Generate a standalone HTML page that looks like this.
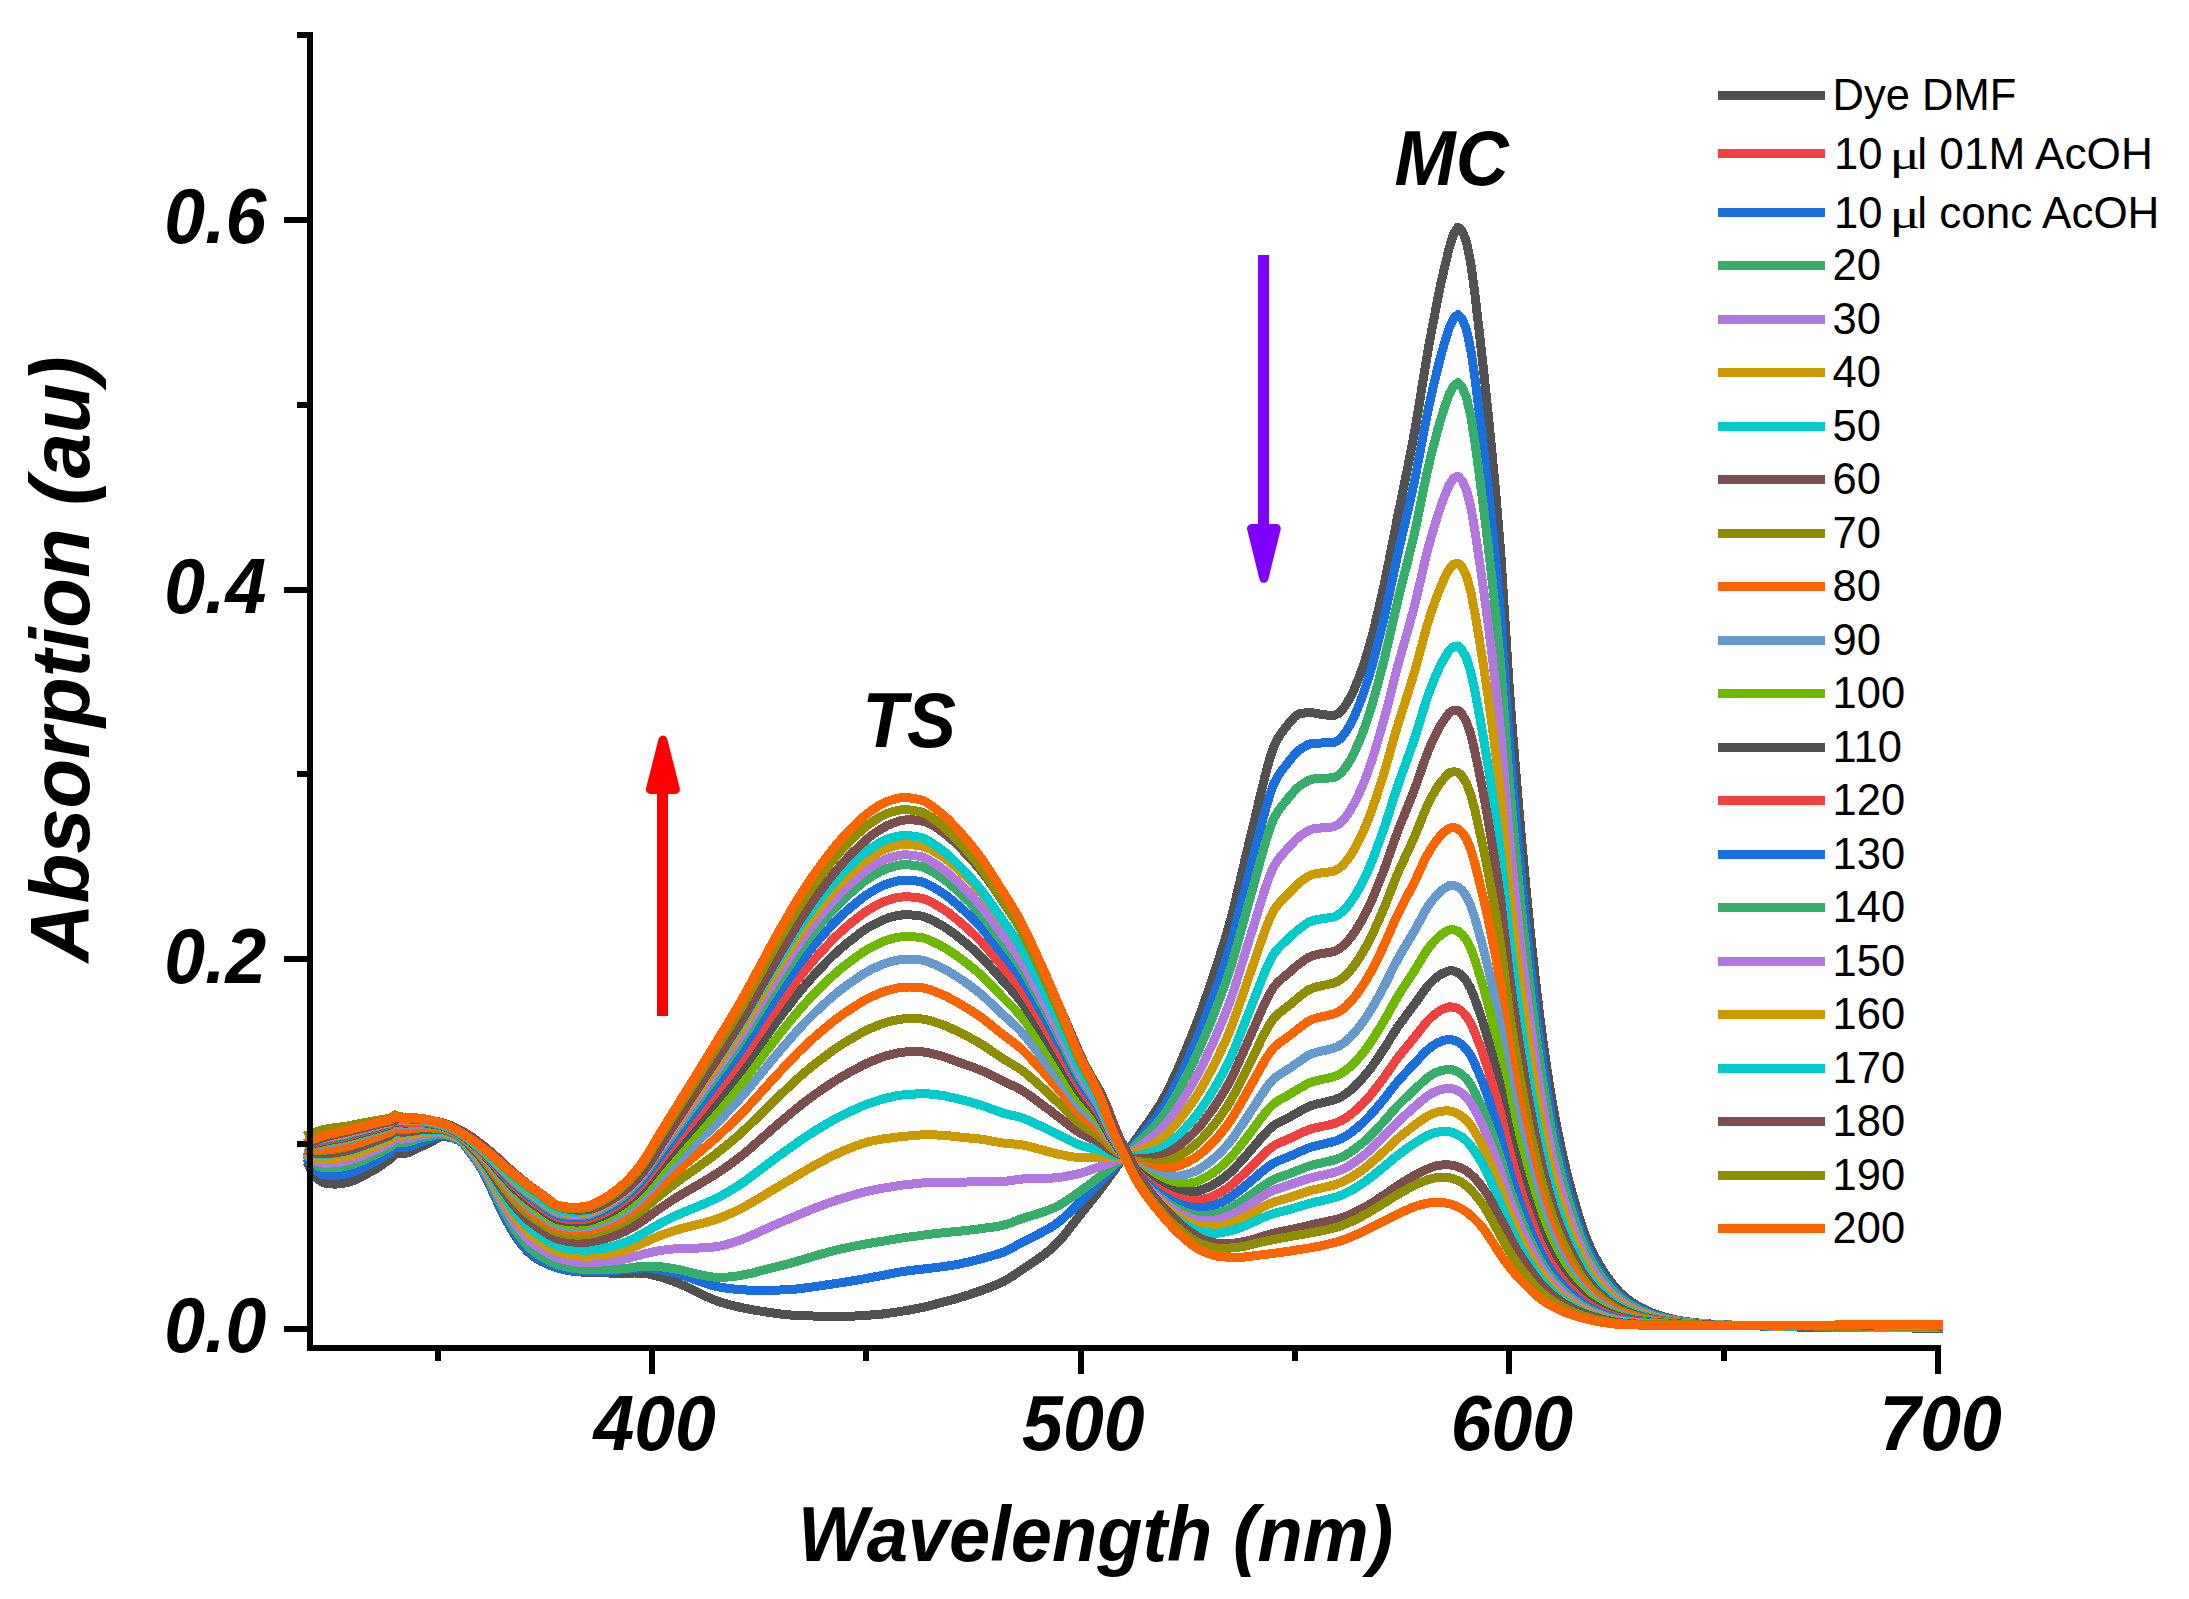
<!DOCTYPE html>
<html lang="en"><head><meta charset="utf-8"><title>Absorption spectra</title>
<style>html,body{margin:0;padding:0;background:#fff}svg{display:block}</style></head>
<body>
<svg xmlns="http://www.w3.org/2000/svg" width="2189" height="1599" viewBox="0 0 2189 1599">
<rect width="2189" height="1599" fill="#fff"/>
<g fill="none" stroke-width="9" stroke-linecap="square" stroke-linejoin="round" shape-rendering="crispEdges">
<path stroke="#515151" d="M309.1 1166.1 L313.4 1173.9 L317.6 1178.8 L321.9 1182.2 L326.2 1183.3 L330.5 1183.9 L334.8 1184.1 L339.1 1183.9 L343.4 1183.2 L347.6 1182.4 L351.9 1181.2 L356.2 1179.5 L360.5 1177.4 L364.8 1175.1 L369.1 1172.7 L373.4 1170.3 L377.7 1167.8 L381.9 1164.9 L386.2 1161.9 L390.5 1158.8 L394.8 1153.8 L399.1 1154.0 L403.4 1153.6 L407.7 1152.9 L411.9 1151.2 L416.2 1149.0 L420.5 1146.9 L424.8 1144.9 L429.1 1143.0 L433.4 1140.7 L437.7 1138.1 L442.0 1136.5 L446.2 1136.7 L450.5 1137.5 L454.8 1138.8 L459.1 1140.5 L463.4 1143.7 L467.7 1149.4 L472.0 1155.0 L476.2 1160.8 L480.5 1167.4 L484.8 1175.3 L489.1 1184.1 L493.4 1193.4 L497.7 1203.1 L502.0 1212.0 L506.3 1220.3 L510.5 1227.9 L514.8 1235.0 L519.1 1241.3 L523.4 1246.8 L527.7 1251.5 L532.0 1255.3 L536.3 1258.5 L540.5 1261.0 L544.8 1263.1 L549.1 1265.1 L553.4 1266.7 L557.7 1268.1 L562.0 1269.2 L566.3 1270.1 L570.6 1270.9 L574.8 1271.5 L579.1 1271.9 L583.4 1272.2 L587.7 1272.3 L592.0 1272.5 L596.3 1272.6 L600.6 1272.7 L604.8 1272.9 L609.1 1273.0 L613.4 1273.2 L617.7 1273.3 L622.0 1273.3 L626.3 1273.2 L630.6 1273.1 L634.9 1273.0 L639.1 1273.0 L643.4 1273.2 L647.7 1273.9 L652.0 1274.9 L656.3 1276.0 L660.6 1277.1 L664.9 1278.4 L669.1 1279.8 L673.4 1281.4 L677.7 1283.1 L682.0 1284.8 L686.3 1286.8 L690.6 1288.9 L694.9 1291.1 L699.2 1293.1 L703.4 1295.1 L707.7 1297.1 L712.0 1299.0 L716.3 1300.7 L720.6 1302.2 L724.9 1303.4 L729.2 1304.6 L733.4 1305.7 L737.7 1306.7 L742.0 1307.7 L746.3 1308.6 L750.6 1309.4 L754.9 1310.2 L759.2 1310.9 L763.5 1311.5 L767.7 1312.2 L772.0 1312.8 L776.3 1313.4 L780.6 1314.0 L784.9 1314.5 L789.2 1314.9 L793.5 1315.3 L797.7 1315.5 L802.0 1315.7 L806.3 1315.8 L810.6 1315.9 L814.9 1316.1 L819.2 1316.2 L823.5 1316.2 L827.8 1316.3 L832.0 1316.4 L836.3 1316.4 L840.6 1316.4 L844.9 1316.4 L849.2 1316.2 L853.5 1316.1 L857.8 1315.8 L862.0 1315.6 L866.3 1315.3 L870.6 1315.0 L874.9 1314.6 L879.2 1314.3 L883.5 1313.9 L887.8 1313.3 L892.1 1312.7 L896.3 1312.1 L900.6 1311.4 L904.9 1310.7 L909.2 1310.0 L913.5 1309.3 L917.8 1308.4 L922.1 1307.6 L926.3 1306.6 L930.6 1305.5 L934.9 1304.3 L939.2 1303.2 L943.5 1302.1 L947.8 1300.9 L952.1 1299.8 L956.4 1298.6 L960.6 1297.3 L964.9 1296.0 L969.2 1294.7 L973.5 1293.2 L977.8 1291.8 L982.1 1290.3 L986.4 1288.7 L990.6 1287.1 L994.9 1285.4 L999.2 1283.6 L1003.5 1281.5 L1007.8 1279.1 L1012.1 1276.4 L1016.4 1273.5 L1020.7 1270.5 L1024.9 1267.7 L1029.2 1264.9 L1033.5 1262.1 L1037.8 1259.1 L1042.1 1256.0 L1046.4 1252.7 L1050.7 1249.2 L1054.9 1245.4 L1059.2 1241.1 L1063.5 1236.1 L1067.8 1230.8 L1072.1 1225.2 L1076.4 1219.6 L1080.7 1214.2 L1085.0 1208.9 L1089.2 1203.6 L1093.5 1198.2 L1097.8 1192.7 L1102.1 1187.1 L1106.4 1181.3 L1110.7 1175.3 L1115.0 1169.4 L1119.2 1163.4 L1123.5 1157.3 L1127.8 1151.2 L1132.1 1145.0 L1136.4 1138.7 L1140.7 1132.5 L1145.0 1126.5 L1149.3 1120.6 L1153.5 1114.6 L1157.8 1108.1 L1162.1 1101.0 L1166.4 1093.0 L1170.7 1084.4 L1175.0 1075.3 L1179.3 1065.6 L1183.5 1055.6 L1187.8 1045.3 L1192.1 1034.7 L1196.4 1023.7 L1200.7 1012.2 L1205.0 1000.2 L1209.3 987.8 L1213.6 975.1 L1217.8 962.1 L1222.1 948.8 L1226.4 934.8 L1230.7 919.6 L1235.0 902.6 L1239.3 884.2 L1243.6 866.0 L1247.8 848.1 L1252.1 830.3 L1256.4 812.3 L1260.7 793.7 L1265.0 776.0 L1269.3 760.3 L1273.6 747.0 L1277.9 738.5 L1282.1 731.9 L1286.4 726.5 L1290.7 721.2 L1295.0 716.5 L1299.3 713.8 L1303.6 713.1 L1307.9 712.7 L1312.1 712.7 L1316.4 713.4 L1320.7 714.2 L1325.0 714.8 L1329.3 715.3 L1333.6 715.6 L1337.9 713.9 L1342.2 709.9 L1346.4 704.1 L1350.7 696.7 L1355.0 687.4 L1359.3 676.7 L1363.6 664.7 L1367.9 651.1 L1372.2 635.5 L1376.4 618.4 L1380.7 600.1 L1385.0 580.8 L1389.3 559.6 L1393.6 537.4 L1397.9 515.4 L1402.2 494.3 L1406.5 473.6 L1410.7 452.3 L1415.0 429.5 L1419.3 403.8 L1423.6 376.9 L1427.9 350.9 L1432.2 327.6 L1436.5 305.3 L1440.7 284.4 L1445.0 265.4 L1449.3 247.5 L1453.6 234.0 L1457.9 227.2 L1462.2 230.9 L1466.5 242.0 L1470.8 263.8 L1475.0 294.7 L1479.3 332.2 L1483.6 370.5 L1487.9 411.4 L1492.2 455.1 L1496.5 501.4 L1500.8 554.3 L1505.0 620.8 L1509.3 688.3 L1513.6 744.5 L1517.9 797.2 L1522.2 846.8 L1526.5 893.2 L1530.8 936.6 L1535.1 976.7 L1539.3 1012.6 L1543.6 1045.3 L1547.9 1075.1 L1552.2 1101.5 L1556.5 1125.4 L1560.8 1146.5 L1565.1 1165.4 L1569.3 1182.5 L1573.6 1198.1 L1577.9 1213.0 L1582.2 1226.6 L1586.5 1238.5 L1590.8 1248.4 L1595.1 1257.0 L1599.4 1264.7 L1603.6 1271.6 L1607.9 1277.8 L1612.2 1283.6 L1616.5 1288.8 L1620.8 1293.2 L1625.1 1297.0 L1629.4 1300.4 L1633.6 1303.4 L1637.9 1306.0 L1642.2 1308.3 L1646.5 1310.5 L1650.8 1312.4 L1655.1 1314.0 L1659.4 1315.5 L1663.7 1316.8 L1667.9 1318.0 L1672.2 1319.0 L1676.5 1319.9 L1680.8 1320.7 L1685.1 1321.4 L1689.4 1322.0 L1693.7 1322.5 L1697.9 1322.9 L1702.2 1323.3 L1706.5 1323.7 L1710.8 1324.0 L1715.1 1324.2 L1719.4 1324.5 L1723.7 1324.7 L1728.0 1324.9 L1732.2 1325.1 L1736.5 1325.2 L1740.8 1325.4 L1745.1 1325.5 L1749.4 1325.7 L1753.7 1325.8 L1758.0 1325.9 L1762.2 1326.1 L1766.5 1326.2 L1770.8 1326.3 L1775.1 1326.5 L1779.4 1326.6 L1783.7 1326.7 L1788.0 1326.8 L1792.3 1326.9 L1796.5 1327.0 L1800.8 1327.0 L1805.1 1327.1 L1809.4 1327.1 L1813.7 1327.2 L1818.0 1327.2 L1822.3 1327.3 L1826.5 1327.3 L1830.8 1327.4 L1835.1 1327.4 L1839.4 1327.4 L1843.7 1327.5 L1848.0 1327.5 L1852.3 1327.6 L1856.6 1327.6 L1860.8 1327.6 L1865.1 1327.7 L1869.4 1327.7 L1873.7 1327.8 L1878.0 1327.8 L1882.3 1327.8 L1886.6 1327.8 L1890.8 1327.9 L1895.1 1327.9 L1899.4 1327.9 L1903.7 1327.9 L1908.0 1327.9 L1912.3 1328.0 L1916.6 1328.0 L1920.9 1328.0 L1925.1 1328.0 L1929.4 1328.0 L1933.7 1328.0 L1938.0 1328.0"/>
<path stroke="#F14040" d="M309.1 1161.9 L313.4 1168.0 L317.6 1171.8 L321.9 1174.4 L326.2 1175.1 L330.5 1175.3 L334.8 1175.4 L339.1 1175.1 L343.4 1174.4 L347.6 1173.5 L351.9 1172.3 L356.2 1170.7 L360.5 1168.8 L364.8 1166.7 L369.1 1164.6 L373.4 1162.4 L377.7 1160.1 L381.9 1157.6 L386.2 1155.0 L390.5 1152.2 L394.8 1147.5 L399.1 1147.9 L403.4 1147.6 L407.7 1147.0 L411.9 1145.7 L416.2 1143.8 L420.5 1142.2 L424.8 1140.7 L429.1 1139.4 L433.4 1137.9 L437.7 1136.1 L442.0 1135.1 L446.2 1135.7 L450.5 1136.8 L454.8 1138.3 L459.1 1140.1 L463.4 1143.4 L467.7 1149.0 L472.0 1154.6 L476.2 1160.4 L480.5 1166.9 L484.8 1174.7 L489.1 1183.3 L493.4 1192.3 L497.7 1201.8 L502.0 1210.5 L506.3 1218.7 L510.5 1226.2 L514.8 1233.2 L519.1 1239.6 L523.4 1245.1 L527.7 1249.9 L532.0 1253.9 L536.3 1257.2 L540.5 1259.9 L544.8 1262.3 L549.1 1264.5 L553.4 1266.3 L557.7 1267.8 L562.0 1268.9 L566.3 1269.8 L570.6 1270.6 L574.8 1271.2 L579.1 1271.5 L583.4 1271.6 L587.7 1271.6 L592.0 1271.6 L596.3 1271.4 L600.6 1271.3 L604.8 1271.1 L609.1 1271.0 L613.4 1270.8 L617.7 1270.5 L622.0 1270.1 L626.3 1269.7 L630.6 1269.2 L634.9 1268.7 L639.1 1268.2 L643.4 1267.9 L647.7 1268.0 L652.0 1268.5 L656.3 1269.1 L660.6 1269.7 L664.9 1270.5 L669.1 1271.4 L673.4 1272.5 L677.7 1273.7 L682.0 1275.0 L686.3 1276.5 L690.6 1278.1 L694.9 1279.7 L699.2 1281.2 L703.4 1282.6 L707.7 1284.0 L712.0 1285.3 L716.3 1286.4 L720.6 1287.2 L724.9 1287.9 L729.2 1288.5 L733.4 1289.0 L737.7 1289.4 L742.0 1289.7 L746.3 1290.0 L750.6 1290.2 L754.9 1290.2 L759.2 1290.3 L763.5 1290.3 L767.7 1290.3 L772.0 1290.2 L776.3 1290.1 L780.6 1290.0 L784.9 1289.9 L789.2 1289.6 L793.5 1289.3 L797.7 1288.9 L802.0 1288.3 L806.3 1287.8 L810.6 1287.2 L814.9 1286.6 L819.2 1286.0 L823.5 1285.3 L827.8 1284.7 L832.0 1284.1 L836.3 1283.4 L840.6 1282.8 L844.9 1282.1 L849.2 1281.4 L853.5 1280.7 L857.8 1280.0 L862.0 1279.2 L866.3 1278.4 L870.6 1277.6 L874.9 1276.8 L879.2 1276.0 L883.5 1275.2 L887.8 1274.4 L892.1 1273.5 L896.3 1272.7 L900.6 1271.9 L904.9 1271.2 L909.2 1270.7 L913.5 1270.1 L917.8 1269.6 L922.1 1269.2 L926.3 1268.7 L930.6 1268.2 L934.9 1267.7 L939.2 1267.1 L943.5 1266.6 L947.8 1266.0 L952.1 1265.3 L956.4 1264.6 L960.6 1263.7 L964.9 1262.8 L969.2 1261.8 L973.5 1260.8 L977.8 1259.7 L982.1 1258.5 L986.4 1257.4 L990.6 1256.2 L994.9 1255.0 L999.2 1253.6 L1003.5 1252.1 L1007.8 1250.1 L1012.1 1247.9 L1016.4 1245.5 L1020.7 1243.1 L1024.9 1240.9 L1029.2 1238.7 L1033.5 1236.6 L1037.8 1234.4 L1042.1 1232.2 L1046.4 1229.8 L1050.7 1227.4 L1054.9 1224.8 L1059.2 1221.6 L1063.5 1217.9 L1067.8 1213.9 L1072.1 1209.7 L1076.4 1205.5 L1080.7 1201.3 L1085.0 1197.1 L1089.2 1192.9 L1093.5 1188.6 L1097.8 1184.4 L1102.1 1180.1 L1106.4 1175.7 L1110.7 1171.2 L1115.0 1166.6 L1119.2 1161.9 L1123.5 1157.1 L1127.8 1152.1 L1132.1 1147.0 L1136.4 1141.8 L1140.7 1136.5 L1145.0 1131.4 L1149.3 1126.4 L1153.5 1121.2 L1157.8 1115.6 L1162.1 1109.4 L1166.4 1102.4 L1170.7 1094.8 L1175.0 1086.6 L1179.3 1078.0 L1183.5 1069.0 L1187.8 1059.7 L1192.1 1050.2 L1196.4 1040.2 L1200.7 1029.7 L1205.0 1018.7 L1209.3 1007.4 L1213.6 995.7 L1217.8 983.7 L1222.1 971.4 L1226.4 958.5 L1230.7 944.4 L1235.0 928.6 L1239.3 911.6 L1243.6 894.7 L1247.8 878.2 L1252.1 861.6 L1256.4 844.9 L1260.7 827.6 L1265.0 811.2 L1269.3 796.5 L1273.6 784.2 L1277.9 776.3 L1282.1 770.0 L1286.4 764.6 L1290.7 759.2 L1295.0 753.9 L1299.3 749.9 L1303.6 747.2 L1307.9 744.7 L1312.1 743.4 L1316.4 743.0 L1320.7 743.0 L1325.0 742.9 L1329.3 742.9 L1333.6 742.7 L1337.9 740.7 L1342.2 736.6 L1346.4 731.0 L1350.7 723.7 L1355.0 714.7 L1359.3 704.3 L1363.6 692.9 L1367.9 679.9 L1372.2 665.2 L1376.4 649.1 L1380.7 631.9 L1385.0 613.9 L1389.3 594.1 L1393.6 573.7 L1397.9 553.7 L1402.2 535.0 L1406.5 516.8 L1410.7 498.3 L1415.0 478.5 L1419.3 456.2 L1423.6 432.9 L1427.9 410.8 L1432.2 391.3 L1436.5 373.1 L1440.7 356.3 L1445.0 341.4 L1449.3 327.7 L1453.6 318.5 L1457.9 314.5 L1462.2 319.1 L1466.5 329.8 L1470.8 349.9 L1475.0 378.4 L1479.3 412.9 L1483.6 448.2 L1487.9 486.0 L1492.2 526.3 L1496.5 569.1 L1500.8 617.7 L1505.0 678.8 L1509.3 740.6 L1513.6 792.3 L1517.9 840.6 L1522.2 886.1 L1526.5 928.8 L1530.8 968.6 L1535.1 1005.4 L1539.3 1038.5 L1543.6 1068.4 L1547.9 1095.8 L1552.2 1120.1 L1556.5 1142.0 L1560.8 1161.3 L1565.1 1178.7 L1569.3 1194.4 L1573.6 1208.7 L1577.9 1222.3 L1582.2 1234.9 L1586.5 1245.8 L1590.8 1254.9 L1595.1 1262.8 L1599.4 1269.9 L1603.6 1276.2 L1607.9 1281.9 L1612.2 1287.2 L1616.5 1292.0 L1620.8 1296.0 L1625.1 1299.5 L1629.4 1302.6 L1633.6 1305.4 L1637.9 1307.7 L1642.2 1309.9 L1646.5 1311.8 L1650.8 1313.5 L1655.1 1315.0 L1659.4 1316.3 L1663.7 1317.5 L1667.9 1318.6 L1672.2 1319.5 L1676.5 1320.4 L1680.8 1321.1 L1685.1 1321.7 L1689.4 1322.2 L1693.7 1322.7 L1697.9 1323.1 L1702.2 1323.5 L1706.5 1323.8 L1710.8 1324.1 L1715.1 1324.3 L1719.4 1324.5 L1723.7 1324.7 L1728.0 1324.9 L1732.2 1325.0 L1736.5 1325.2 L1740.8 1325.3 L1745.1 1325.5 L1749.4 1325.6 L1753.7 1325.7 L1758.0 1325.9 L1762.2 1326.0 L1766.5 1326.1 L1770.8 1326.2 L1775.1 1326.3 L1779.4 1326.4 L1783.7 1326.5 L1788.0 1326.6 L1792.3 1326.7 L1796.5 1326.8 L1800.8 1326.8 L1805.1 1326.9 L1809.4 1326.9 L1813.7 1327.0 L1818.0 1327.0 L1822.3 1327.1 L1826.5 1327.1 L1830.8 1327.1 L1835.1 1327.2 L1839.4 1327.2 L1843.7 1327.3 L1848.0 1327.3 L1852.3 1327.3 L1856.6 1327.4 L1860.8 1327.4 L1865.1 1327.4 L1869.4 1327.5 L1873.7 1327.5 L1878.0 1327.5 L1882.3 1327.5 L1886.6 1327.6 L1890.8 1327.6 L1895.1 1327.6 L1899.4 1327.6 L1903.7 1327.6 L1908.0 1327.6 L1912.3 1327.7 L1916.6 1327.7 L1920.9 1327.7 L1925.1 1327.7 L1929.4 1327.7 L1933.7 1327.7 L1938.0 1327.7"/>
<path stroke="#1A6FDF" d="M309.1 1161.9 L313.4 1168.0 L317.6 1171.8 L321.9 1174.4 L326.2 1175.1 L330.5 1175.3 L334.8 1175.4 L339.1 1175.1 L343.4 1174.4 L347.6 1173.5 L351.9 1172.3 L356.2 1170.7 L360.5 1168.8 L364.8 1166.7 L369.1 1164.6 L373.4 1162.4 L377.7 1160.1 L381.9 1157.6 L386.2 1155.0 L390.5 1152.2 L394.8 1147.5 L399.1 1147.9 L403.4 1147.6 L407.7 1147.0 L411.9 1145.7 L416.2 1143.8 L420.5 1142.2 L424.8 1140.7 L429.1 1139.4 L433.4 1137.9 L437.7 1136.1 L442.0 1135.1 L446.2 1135.7 L450.5 1136.8 L454.8 1138.3 L459.1 1140.1 L463.4 1143.4 L467.7 1149.0 L472.0 1154.6 L476.2 1160.4 L480.5 1166.9 L484.8 1174.7 L489.1 1183.3 L493.4 1192.3 L497.7 1201.8 L502.0 1210.5 L506.3 1218.7 L510.5 1226.2 L514.8 1233.2 L519.1 1239.6 L523.4 1245.1 L527.7 1249.9 L532.0 1253.9 L536.3 1257.2 L540.5 1259.9 L544.8 1262.3 L549.1 1264.5 L553.4 1266.3 L557.7 1267.8 L562.0 1268.9 L566.3 1269.8 L570.6 1270.6 L574.8 1271.2 L579.1 1271.5 L583.4 1271.6 L587.7 1271.6 L592.0 1271.6 L596.3 1271.4 L600.6 1271.3 L604.8 1271.1 L609.1 1271.0 L613.4 1270.8 L617.7 1270.5 L622.0 1270.1 L626.3 1269.7 L630.6 1269.2 L634.9 1268.7 L639.1 1268.2 L643.4 1267.9 L647.7 1268.0 L652.0 1268.5 L656.3 1269.1 L660.6 1269.7 L664.9 1270.5 L669.1 1271.4 L673.4 1272.5 L677.7 1273.7 L682.0 1275.0 L686.3 1276.5 L690.6 1278.1 L694.9 1279.7 L699.2 1281.2 L703.4 1282.6 L707.7 1284.0 L712.0 1285.3 L716.3 1286.4 L720.6 1287.2 L724.9 1287.9 L729.2 1288.5 L733.4 1289.0 L737.7 1289.4 L742.0 1289.7 L746.3 1290.0 L750.6 1290.2 L754.9 1290.2 L759.2 1290.3 L763.5 1290.3 L767.7 1290.3 L772.0 1290.2 L776.3 1290.1 L780.6 1290.0 L784.9 1289.9 L789.2 1289.6 L793.5 1289.3 L797.7 1288.9 L802.0 1288.3 L806.3 1287.8 L810.6 1287.2 L814.9 1286.6 L819.2 1286.0 L823.5 1285.3 L827.8 1284.7 L832.0 1284.1 L836.3 1283.4 L840.6 1282.8 L844.9 1282.1 L849.2 1281.4 L853.5 1280.7 L857.8 1280.0 L862.0 1279.2 L866.3 1278.4 L870.6 1277.6 L874.9 1276.8 L879.2 1276.0 L883.5 1275.2 L887.8 1274.4 L892.1 1273.5 L896.3 1272.7 L900.6 1271.9 L904.9 1271.2 L909.2 1270.7 L913.5 1270.1 L917.8 1269.6 L922.1 1269.2 L926.3 1268.7 L930.6 1268.2 L934.9 1267.7 L939.2 1267.1 L943.5 1266.6 L947.8 1266.0 L952.1 1265.3 L956.4 1264.6 L960.6 1263.7 L964.9 1262.8 L969.2 1261.8 L973.5 1260.8 L977.8 1259.7 L982.1 1258.5 L986.4 1257.4 L990.6 1256.2 L994.9 1255.0 L999.2 1253.6 L1003.5 1252.1 L1007.8 1250.1 L1012.1 1247.9 L1016.4 1245.5 L1020.7 1243.1 L1024.9 1240.9 L1029.2 1238.7 L1033.5 1236.6 L1037.8 1234.4 L1042.1 1232.2 L1046.4 1229.8 L1050.7 1227.4 L1054.9 1224.8 L1059.2 1221.6 L1063.5 1217.9 L1067.8 1213.9 L1072.1 1209.7 L1076.4 1205.5 L1080.7 1201.3 L1085.0 1197.1 L1089.2 1192.9 L1093.5 1188.6 L1097.8 1184.4 L1102.1 1180.1 L1106.4 1175.7 L1110.7 1171.2 L1115.0 1166.6 L1119.2 1161.9 L1123.5 1157.1 L1127.8 1152.1 L1132.1 1147.0 L1136.4 1141.8 L1140.7 1136.5 L1145.0 1131.4 L1149.3 1126.4 L1153.5 1121.2 L1157.8 1115.6 L1162.1 1109.4 L1166.4 1102.4 L1170.7 1094.8 L1175.0 1086.6 L1179.3 1078.0 L1183.5 1069.0 L1187.8 1059.7 L1192.1 1050.2 L1196.4 1040.2 L1200.7 1029.7 L1205.0 1018.7 L1209.3 1007.4 L1213.6 995.7 L1217.8 983.7 L1222.1 971.4 L1226.4 958.5 L1230.7 944.4 L1235.0 928.6 L1239.3 911.6 L1243.6 894.7 L1247.8 878.2 L1252.1 861.6 L1256.4 844.9 L1260.7 827.6 L1265.0 811.2 L1269.3 796.5 L1273.6 784.2 L1277.9 776.3 L1282.1 770.0 L1286.4 764.6 L1290.7 759.2 L1295.0 753.9 L1299.3 749.9 L1303.6 747.2 L1307.9 744.7 L1312.1 743.4 L1316.4 743.0 L1320.7 743.0 L1325.0 742.9 L1329.3 742.9 L1333.6 742.7 L1337.9 740.7 L1342.2 736.6 L1346.4 731.0 L1350.7 723.7 L1355.0 714.7 L1359.3 704.3 L1363.6 692.9 L1367.9 679.9 L1372.2 665.2 L1376.4 649.1 L1380.7 631.9 L1385.0 613.9 L1389.3 594.1 L1393.6 573.7 L1397.9 553.7 L1402.2 535.0 L1406.5 516.8 L1410.7 498.3 L1415.0 478.5 L1419.3 456.2 L1423.6 432.9 L1427.9 410.8 L1432.2 391.3 L1436.5 373.1 L1440.7 356.3 L1445.0 341.4 L1449.3 327.7 L1453.6 318.5 L1457.9 314.5 L1462.2 319.1 L1466.5 329.8 L1470.8 349.9 L1475.0 378.4 L1479.3 412.9 L1483.6 448.2 L1487.9 486.0 L1492.2 526.3 L1496.5 569.1 L1500.8 617.7 L1505.0 678.8 L1509.3 740.6 L1513.6 792.3 L1517.9 840.6 L1522.2 886.1 L1526.5 928.8 L1530.8 968.6 L1535.1 1005.4 L1539.3 1038.5 L1543.6 1068.4 L1547.9 1095.8 L1552.2 1120.1 L1556.5 1142.0 L1560.8 1161.3 L1565.1 1178.7 L1569.3 1194.4 L1573.6 1208.7 L1577.9 1222.3 L1582.2 1234.9 L1586.5 1245.8 L1590.8 1254.9 L1595.1 1262.8 L1599.4 1269.9 L1603.6 1276.2 L1607.9 1281.9 L1612.2 1287.2 L1616.5 1292.0 L1620.8 1296.0 L1625.1 1299.5 L1629.4 1302.6 L1633.6 1305.4 L1637.9 1307.7 L1642.2 1309.9 L1646.5 1311.8 L1650.8 1313.5 L1655.1 1315.0 L1659.4 1316.3 L1663.7 1317.5 L1667.9 1318.6 L1672.2 1319.5 L1676.5 1320.4 L1680.8 1321.1 L1685.1 1321.7 L1689.4 1322.2 L1693.7 1322.7 L1697.9 1323.1 L1702.2 1323.5 L1706.5 1323.8 L1710.8 1324.1 L1715.1 1324.3 L1719.4 1324.5 L1723.7 1324.7 L1728.0 1324.9 L1732.2 1325.0 L1736.5 1325.2 L1740.8 1325.3 L1745.1 1325.5 L1749.4 1325.6 L1753.7 1325.7 L1758.0 1325.9 L1762.2 1326.0 L1766.5 1326.1 L1770.8 1326.2 L1775.1 1326.3 L1779.4 1326.4 L1783.7 1326.5 L1788.0 1326.6 L1792.3 1326.7 L1796.5 1326.8 L1800.8 1326.8 L1805.1 1326.9 L1809.4 1326.9 L1813.7 1327.0 L1818.0 1327.0 L1822.3 1327.1 L1826.5 1327.1 L1830.8 1327.1 L1835.1 1327.2 L1839.4 1327.2 L1843.7 1327.3 L1848.0 1327.3 L1852.3 1327.3 L1856.6 1327.4 L1860.8 1327.4 L1865.1 1327.4 L1869.4 1327.5 L1873.7 1327.5 L1878.0 1327.5 L1882.3 1327.5 L1886.6 1327.6 L1890.8 1327.6 L1895.1 1327.6 L1899.4 1327.6 L1903.7 1327.6 L1908.0 1327.6 L1912.3 1327.7 L1916.6 1327.7 L1920.9 1327.7 L1925.1 1327.7 L1929.4 1327.7 L1933.7 1327.7 L1938.0 1327.7"/>
<path stroke="#37AD6B" d="M309.1 1158.3 L313.4 1163.0 L317.6 1165.8 L321.9 1167.6 L326.2 1167.9 L330.5 1168.0 L334.8 1167.8 L339.1 1167.4 L343.4 1166.7 L347.6 1165.8 L351.9 1164.7 L356.2 1163.2 L360.5 1161.4 L364.8 1159.5 L369.1 1157.5 L373.4 1155.6 L377.7 1153.5 L381.9 1151.3 L386.2 1148.9 L390.5 1146.5 L394.8 1142.0 L399.1 1142.6 L403.4 1142.5 L407.7 1142.0 L411.9 1140.9 L416.2 1139.4 L420.5 1138.1 L424.8 1137.1 L429.1 1136.4 L433.4 1135.6 L437.7 1134.4 L442.0 1134.0 L446.2 1134.8 L450.5 1136.0 L454.8 1137.6 L459.1 1139.5 L463.4 1142.7 L467.7 1148.1 L472.0 1153.5 L476.2 1159.1 L480.5 1165.4 L484.8 1173.0 L489.1 1181.2 L493.4 1189.9 L497.7 1198.9 L502.0 1207.3 L506.3 1215.2 L510.5 1222.6 L514.8 1229.4 L519.1 1235.5 L523.4 1240.9 L527.7 1245.7 L532.0 1249.7 L536.3 1253.1 L540.5 1255.9 L544.8 1258.5 L549.1 1260.9 L553.4 1262.9 L557.7 1264.6 L562.0 1265.9 L566.3 1266.9 L570.6 1267.9 L574.8 1268.6 L579.1 1269.1 L583.4 1269.4 L587.7 1269.6 L592.0 1269.7 L596.3 1269.6 L600.6 1269.6 L604.8 1269.6 L609.1 1269.5 L613.4 1269.3 L617.7 1269.1 L622.0 1268.8 L626.3 1268.3 L630.6 1267.8 L634.9 1267.2 L639.1 1266.6 L643.4 1266.2 L647.7 1266.1 L652.0 1266.2 L656.3 1266.5 L660.6 1266.8 L664.9 1267.3 L669.1 1267.9 L673.4 1268.6 L677.7 1269.5 L682.0 1270.3 L686.3 1271.4 L690.6 1272.5 L694.9 1273.6 L699.2 1274.6 L703.4 1275.4 L707.7 1276.2 L712.0 1276.9 L716.3 1277.3 L720.6 1277.4 L724.9 1277.2 L729.2 1276.9 L733.4 1276.5 L737.7 1275.9 L742.0 1275.2 L746.3 1274.3 L750.6 1273.4 L754.9 1272.3 L759.2 1271.2 L763.5 1270.1 L767.7 1269.0 L772.0 1267.8 L776.3 1266.7 L780.6 1265.7 L784.9 1264.6 L789.2 1263.5 L793.5 1262.3 L797.7 1261.1 L802.0 1259.8 L806.3 1258.5 L810.6 1257.2 L814.9 1255.9 L819.2 1254.7 L823.5 1253.5 L827.8 1252.3 L832.0 1251.2 L836.3 1250.1 L840.6 1249.1 L844.9 1248.1 L849.2 1247.2 L853.5 1246.3 L857.8 1245.5 L862.0 1244.7 L866.3 1243.9 L870.6 1243.2 L874.9 1242.4 L879.2 1241.7 L883.5 1241.1 L887.8 1240.3 L892.1 1239.6 L896.3 1238.9 L900.6 1238.2 L904.9 1237.6 L909.2 1237.0 L913.5 1236.4 L917.8 1235.9 L922.1 1235.3 L926.3 1234.7 L930.6 1234.2 L934.9 1233.7 L939.2 1233.2 L943.5 1232.7 L947.8 1232.3 L952.1 1231.9 L956.4 1231.6 L960.6 1231.1 L964.9 1230.6 L969.2 1230.1 L973.5 1229.6 L977.8 1229.1 L982.1 1228.5 L986.4 1227.9 L990.6 1227.4 L994.9 1226.8 L999.2 1226.1 L1003.5 1225.1 L1007.8 1223.9 L1012.1 1222.4 L1016.4 1220.7 L1020.7 1219.1 L1024.9 1217.7 L1029.2 1216.3 L1033.5 1215.1 L1037.8 1213.7 L1042.1 1212.3 L1046.4 1210.8 L1050.7 1209.2 L1054.9 1207.4 L1059.2 1205.3 L1063.5 1202.7 L1067.8 1199.9 L1072.1 1197.0 L1076.4 1193.9 L1080.7 1190.9 L1085.0 1187.8 L1089.2 1184.6 L1093.5 1181.4 L1097.8 1178.1 L1102.1 1174.8 L1106.4 1171.5 L1110.7 1168.2 L1115.0 1164.6 L1119.2 1160.8 L1123.5 1156.9 L1127.8 1152.9 L1132.1 1148.9 L1136.4 1144.6 L1140.7 1140.3 L1145.0 1136.0 L1149.3 1131.8 L1153.5 1127.4 L1157.8 1122.6 L1162.1 1117.2 L1166.4 1111.1 L1170.7 1104.4 L1175.0 1097.2 L1179.3 1089.5 L1183.5 1081.4 L1187.8 1073.1 L1192.1 1064.5 L1196.4 1055.5 L1200.7 1045.9 L1205.0 1035.9 L1209.3 1025.6 L1213.6 1014.9 L1217.8 1003.8 L1222.1 992.5 L1226.4 980.5 L1230.7 967.5 L1235.0 952.8 L1239.3 937.1 L1243.6 921.5 L1247.8 906.1 L1252.1 890.7 L1256.4 875.1 L1260.7 859.1 L1265.0 843.9 L1269.3 830.2 L1273.6 818.8 L1277.9 811.4 L1282.1 805.6 L1286.4 800.5 L1290.7 795.3 L1295.0 790.2 L1299.3 786.2 L1303.6 783.3 L1307.9 780.7 L1312.1 779.2 L1316.4 778.6 L1320.7 778.4 L1325.0 778.2 L1329.3 778.0 L1333.6 777.7 L1337.9 775.6 L1342.2 771.7 L1346.4 766.4 L1350.7 759.4 L1355.0 750.9 L1359.3 741.2 L1363.6 730.4 L1367.9 718.1 L1372.2 704.3 L1376.4 689.2 L1380.7 673.2 L1385.0 656.3 L1389.3 637.9 L1393.6 618.8 L1397.9 600.3 L1402.2 582.9 L1406.5 566.1 L1410.7 549.1 L1415.0 530.9 L1419.3 510.4 L1423.6 488.9 L1427.9 468.7 L1432.2 451.0 L1436.5 434.5 L1440.7 419.4 L1445.0 406.1 L1449.3 393.9 L1453.6 386.0 L1457.9 382.8 L1462.2 387.3 L1466.5 397.5 L1470.8 416.4 L1475.0 442.9 L1479.3 475.2 L1483.6 508.1 L1487.9 543.5 L1492.2 581.2 L1496.5 621.2 L1500.8 666.6 L1505.0 723.5 L1509.3 781.0 L1513.6 829.1 L1517.9 874.1 L1522.2 916.5 L1526.5 956.2 L1530.8 993.3 L1535.1 1027.6 L1539.3 1058.4 L1543.6 1086.3 L1547.9 1111.7 L1552.2 1134.3 L1556.5 1154.8 L1560.8 1172.8 L1565.1 1188.9 L1569.3 1203.6 L1573.6 1216.9 L1577.9 1229.6 L1582.2 1241.3 L1586.5 1251.4 L1590.8 1259.9 L1595.1 1267.3 L1599.4 1273.8 L1603.6 1279.7 L1607.9 1285.1 L1612.2 1290.0 L1616.5 1294.4 L1620.8 1298.2 L1625.1 1301.4 L1629.4 1304.3 L1633.6 1306.9 L1637.9 1309.1 L1642.2 1311.0 L1646.5 1312.8 L1650.8 1314.4 L1655.1 1315.8 L1659.4 1317.0 L1663.7 1318.1 L1667.9 1319.1 L1672.2 1320.0 L1676.5 1320.7 L1680.8 1321.4 L1685.1 1321.9 L1689.4 1322.4 L1693.7 1322.9 L1697.9 1323.3 L1702.2 1323.6 L1706.5 1323.9 L1710.8 1324.1 L1715.1 1324.4 L1719.4 1324.6 L1723.7 1324.7 L1728.0 1324.9 L1732.2 1325.0 L1736.5 1325.2 L1740.8 1325.3 L1745.1 1325.4 L1749.4 1325.6 L1753.7 1325.7 L1758.0 1325.8 L1762.2 1325.9 L1766.5 1326.0 L1770.8 1326.1 L1775.1 1326.2 L1779.4 1326.3 L1783.7 1326.4 L1788.0 1326.5 L1792.3 1326.6 L1796.5 1326.6 L1800.8 1326.7 L1805.1 1326.7 L1809.4 1326.8 L1813.7 1326.8 L1818.0 1326.9 L1822.3 1326.9 L1826.5 1326.9 L1830.8 1327.0 L1835.1 1327.0 L1839.4 1327.0 L1843.7 1327.1 L1848.0 1327.1 L1852.3 1327.1 L1856.6 1327.2 L1860.8 1327.2 L1865.1 1327.2 L1869.4 1327.3 L1873.7 1327.3 L1878.0 1327.3 L1882.3 1327.3 L1886.6 1327.3 L1890.8 1327.4 L1895.1 1327.4 L1899.4 1327.4 L1903.7 1327.4 L1908.0 1327.4 L1912.3 1327.4 L1916.6 1327.4 L1920.9 1327.4 L1925.1 1327.4 L1929.4 1327.4 L1933.7 1327.4 L1938.0 1327.4"/>
<path stroke="#B177DE" d="M309.1 1155.9 L313.4 1159.6 L317.6 1161.7 L321.9 1163.0 L326.2 1163.1 L330.5 1163.0 L334.8 1162.8 L339.1 1162.3 L343.4 1161.6 L347.6 1160.7 L351.9 1159.5 L356.2 1158.1 L360.5 1156.4 L364.8 1154.6 L369.1 1152.8 L373.4 1150.9 L377.7 1149.0 L381.9 1147.0 L386.2 1144.8 L390.5 1142.7 L394.8 1138.3 L399.1 1139.0 L403.4 1139.0 L407.7 1138.6 L411.9 1137.7 L416.2 1136.4 L420.5 1135.3 L424.8 1134.5 L429.1 1134.1 L433.4 1133.6 L437.7 1132.8 L442.0 1132.6 L446.2 1133.5 L450.5 1134.9 L454.8 1136.6 L459.1 1138.6 L463.4 1141.7 L467.7 1146.8 L472.0 1151.9 L476.2 1157.2 L480.5 1163.2 L484.8 1170.2 L489.1 1177.9 L493.4 1185.9 L497.7 1194.3 L502.0 1202.2 L506.3 1209.6 L510.5 1216.5 L514.8 1223.0 L519.1 1228.8 L523.4 1234.0 L527.7 1238.6 L532.0 1242.5 L536.3 1245.8 L540.5 1248.7 L544.8 1251.4 L549.1 1253.9 L553.4 1256.1 L557.7 1257.9 L562.0 1259.1 L566.3 1260.2 L570.6 1261.1 L574.8 1261.8 L579.1 1262.2 L583.4 1262.5 L587.7 1262.6 L592.0 1262.5 L596.3 1262.3 L600.6 1262.0 L604.8 1261.7 L609.1 1261.4 L613.4 1260.9 L617.7 1260.3 L622.0 1259.6 L626.3 1258.7 L630.6 1257.6 L634.9 1256.5 L639.1 1255.3 L643.4 1254.1 L647.7 1253.1 L652.0 1252.2 L656.3 1251.3 L660.6 1250.5 L664.9 1249.9 L669.1 1249.4 L673.4 1249.0 L677.7 1248.6 L682.0 1248.3 L686.3 1248.2 L690.6 1248.2 L694.9 1248.1 L699.2 1248.0 L703.4 1247.8 L707.7 1247.5 L712.0 1247.2 L716.3 1246.7 L720.6 1245.9 L724.9 1244.9 L729.2 1243.7 L733.4 1242.4 L737.7 1241.0 L742.0 1239.4 L746.3 1237.7 L750.6 1235.8 L754.9 1233.9 L759.2 1231.9 L763.5 1230.0 L767.7 1228.0 L772.0 1226.1 L776.3 1224.2 L780.6 1222.4 L784.9 1220.6 L789.2 1218.8 L793.5 1217.0 L797.7 1215.2 L802.0 1213.4 L806.3 1211.6 L810.6 1209.8 L814.9 1208.1 L819.2 1206.5 L823.5 1204.9 L827.8 1203.3 L832.0 1201.8 L836.3 1200.3 L840.6 1198.9 L844.9 1197.6 L849.2 1196.3 L853.5 1195.1 L857.8 1193.8 L862.0 1192.6 L866.3 1191.5 L870.6 1190.6 L874.9 1189.7 L879.2 1188.9 L883.5 1188.1 L887.8 1187.4 L892.1 1186.7 L896.3 1186.0 L900.6 1185.3 L904.9 1184.8 L909.2 1184.3 L913.5 1183.9 L917.8 1183.4 L922.1 1183.0 L926.3 1182.6 L930.6 1182.4 L934.9 1182.3 L939.2 1182.2 L943.5 1182.1 L947.8 1182.1 L952.1 1182.1 L956.4 1182.2 L960.6 1182.1 L964.9 1182.1 L969.2 1181.9 L973.5 1181.8 L977.8 1181.7 L982.1 1181.6 L986.4 1181.5 L990.6 1181.6 L994.9 1181.6 L999.2 1181.6 L1003.5 1181.5 L1007.8 1181.0 L1012.1 1180.4 L1016.4 1179.7 L1020.7 1179.2 L1024.9 1178.8 L1029.2 1178.7 L1033.5 1178.6 L1037.8 1178.6 L1042.1 1178.4 L1046.4 1178.3 L1050.7 1178.1 L1054.9 1177.9 L1059.2 1177.4 L1063.5 1176.8 L1067.8 1176.0 L1072.1 1175.1 L1076.4 1174.2 L1080.7 1173.2 L1085.0 1171.9 L1089.2 1170.4 L1093.5 1168.8 L1097.8 1167.2 L1102.1 1165.7 L1106.4 1164.3 L1110.7 1162.9 L1115.0 1161.0 L1119.2 1158.8 L1123.5 1156.6 L1127.8 1154.1 L1132.1 1151.4 L1136.4 1148.6 L1140.7 1145.5 L1145.0 1142.4 L1149.3 1139.3 L1153.5 1136.0 L1157.8 1132.3 L1162.1 1128.0 L1166.4 1123.1 L1170.7 1117.7 L1175.0 1111.8 L1179.3 1105.4 L1183.5 1098.6 L1187.8 1091.6 L1192.1 1084.4 L1196.4 1076.7 L1200.7 1068.4 L1205.0 1059.7 L1209.3 1050.7 L1213.6 1041.3 L1217.8 1031.6 L1222.1 1021.5 L1226.4 1010.9 L1230.7 999.4 L1235.0 986.3 L1239.3 972.3 L1243.6 958.4 L1247.8 944.6 L1252.1 930.9 L1256.4 917.0 L1260.7 902.6 L1265.0 889.0 L1269.3 876.8 L1273.6 866.6 L1277.9 860.0 L1282.1 854.7 L1286.4 850.0 L1290.7 845.3 L1295.0 840.5 L1299.3 836.6 L1303.6 833.6 L1307.9 830.8 L1312.1 829.1 L1316.4 828.3 L1320.7 828.0 L1325.0 827.6 L1329.3 827.3 L1333.6 826.8 L1337.9 824.8 L1342.2 821.1 L1346.4 816.1 L1350.7 809.7 L1355.0 801.9 L1359.3 793.0 L1363.6 783.1 L1367.9 771.9 L1372.2 759.4 L1376.4 745.7 L1380.7 731.1 L1385.0 715.9 L1389.3 699.3 L1393.6 682.1 L1397.9 665.4 L1402.2 649.9 L1406.5 635.0 L1410.7 619.9 L1415.0 603.7 L1419.3 585.6 L1423.6 566.7 L1427.9 549.0 L1432.2 533.6 L1436.5 519.3 L1440.7 506.3 L1445.0 495.0 L1449.3 484.7 L1453.6 478.4 L1457.9 476.2 L1462.2 480.6 L1466.5 490.0 L1470.8 507.1 L1475.0 531.1 L1479.3 560.2 L1483.6 590.0 L1487.9 622.0 L1492.2 656.2 L1496.5 692.5 L1500.8 733.5 L1505.0 784.6 L1509.3 836.2 L1513.6 879.4 L1517.9 919.9 L1522.2 958.0 L1526.5 993.7 L1530.8 1027.0 L1535.1 1057.9 L1539.3 1085.6 L1543.6 1110.7 L1547.9 1133.6 L1552.2 1153.9 L1556.5 1172.2 L1560.8 1188.4 L1565.1 1202.9 L1569.3 1216.1 L1573.6 1228.1 L1577.9 1239.5 L1582.2 1250.0 L1586.5 1259.1 L1590.8 1266.7 L1595.1 1273.4 L1599.4 1279.3 L1603.6 1284.6 L1607.9 1289.4 L1612.2 1293.9 L1616.5 1297.8 L1620.8 1301.2 L1625.1 1304.1 L1629.4 1306.7 L1633.6 1308.9 L1637.9 1310.9 L1642.2 1312.6 L1646.5 1314.2 L1650.8 1315.6 L1655.1 1316.8 L1659.4 1317.9 L1663.7 1318.9 L1667.9 1319.8 L1672.2 1320.5 L1676.5 1321.2 L1680.8 1321.8 L1685.1 1322.3 L1689.4 1322.7 L1693.7 1323.1 L1697.9 1323.5 L1702.2 1323.8 L1706.5 1324.0 L1710.8 1324.2 L1715.1 1324.4 L1719.4 1324.6 L1723.7 1324.8 L1728.0 1324.9 L1732.2 1325.0 L1736.5 1325.2 L1740.8 1325.3 L1745.1 1325.4 L1749.4 1325.5 L1753.7 1325.6 L1758.0 1325.7 L1762.2 1325.8 L1766.5 1325.9 L1770.8 1326.0 L1775.1 1326.1 L1779.4 1326.2 L1783.7 1326.3 L1788.0 1326.3 L1792.3 1326.4 L1796.5 1326.5 L1800.8 1326.5 L1805.1 1326.5 L1809.4 1326.6 L1813.7 1326.6 L1818.0 1326.6 L1822.3 1326.7 L1826.5 1326.7 L1830.8 1326.7 L1835.1 1326.8 L1839.4 1326.8 L1843.7 1326.8 L1848.0 1326.9 L1852.3 1326.9 L1856.6 1326.9 L1860.8 1326.9 L1865.1 1327.0 L1869.4 1327.0 L1873.7 1327.0 L1878.0 1327.0 L1882.3 1327.0 L1886.6 1327.1 L1890.8 1327.1 L1895.1 1327.1 L1899.4 1327.1 L1903.7 1327.1 L1908.0 1327.1 L1912.3 1327.1 L1916.6 1327.1 L1920.9 1327.1 L1925.1 1327.1 L1929.4 1327.1 L1933.7 1327.1 L1938.0 1327.1"/>
<path stroke="#CC9900" d="M309.1 1153.8 L313.4 1156.7 L317.6 1158.2 L321.9 1159.2 L326.2 1159.1 L330.5 1158.8 L334.8 1158.5 L339.1 1157.9 L343.4 1157.2 L347.6 1156.3 L351.9 1155.1 L356.2 1153.7 L360.5 1152.2 L364.8 1150.5 L369.1 1148.7 L373.4 1147.0 L377.7 1145.2 L381.9 1143.4 L386.2 1141.4 L390.5 1139.4 L394.8 1135.2 L399.1 1136.0 L403.4 1136.0 L407.7 1135.7 L411.9 1134.9 L416.2 1133.9 L420.5 1133.0 L424.8 1132.4 L429.1 1132.1 L433.4 1131.9 L437.7 1131.4 L442.0 1131.4 L446.2 1132.4 L450.5 1133.8 L454.8 1135.6 L459.1 1137.7 L463.4 1140.8 L467.7 1145.6 L472.0 1150.4 L476.2 1155.4 L480.5 1161.1 L484.8 1167.6 L489.1 1174.8 L493.4 1182.3 L497.7 1190.1 L502.0 1197.5 L506.3 1204.4 L510.5 1211.0 L514.8 1217.0 L519.1 1222.6 L523.4 1227.5 L527.7 1232.0 L532.0 1235.8 L536.3 1239.2 L540.5 1242.1 L544.8 1244.9 L549.1 1247.6 L553.4 1249.9 L557.7 1251.7 L562.0 1252.9 L566.3 1254.0 L570.6 1254.8 L574.8 1255.5 L579.1 1255.9 L583.4 1256.1 L587.7 1256.2 L592.0 1256.0 L596.3 1255.6 L600.6 1255.2 L604.8 1254.7 L609.1 1254.0 L613.4 1253.3 L617.7 1252.3 L622.0 1251.2 L626.3 1249.9 L630.6 1248.4 L634.9 1246.7 L639.1 1244.8 L643.4 1242.9 L647.7 1241.0 L652.0 1239.1 L656.3 1237.3 L660.6 1235.5 L664.9 1233.9 L669.1 1232.4 L673.4 1231.0 L677.7 1229.7 L682.0 1228.4 L686.3 1227.3 L690.6 1226.2 L694.9 1225.2 L699.2 1224.1 L703.4 1223.0 L707.7 1221.8 L712.0 1220.6 L716.3 1219.3 L720.6 1217.7 L724.9 1216.0 L729.2 1214.1 L733.4 1212.2 L737.7 1210.2 L742.0 1208.1 L746.3 1205.7 L750.6 1203.3 L754.9 1200.7 L759.2 1198.2 L763.5 1195.6 L767.7 1193.0 L772.0 1190.4 L776.3 1187.9 L780.6 1185.4 L784.9 1182.8 L789.2 1180.3 L793.5 1177.7 L797.7 1175.2 L802.0 1172.6 L806.3 1170.1 L810.6 1167.6 L814.9 1165.2 L819.2 1162.9 L823.5 1160.6 L827.8 1158.3 L832.0 1156.2 L836.3 1154.1 L840.6 1152.1 L844.9 1150.3 L849.2 1148.5 L853.5 1146.8 L857.8 1145.2 L862.0 1143.7 L866.3 1142.4 L870.6 1141.3 L874.9 1140.4 L879.2 1139.6 L883.5 1138.9 L887.8 1138.3 L892.1 1137.8 L896.3 1137.2 L900.6 1136.7 L904.9 1136.3 L909.2 1135.9 L913.5 1135.5 L917.8 1135.2 L922.1 1134.8 L926.3 1134.7 L930.6 1134.7 L934.9 1134.9 L939.2 1135.1 L943.5 1135.3 L947.8 1135.7 L952.1 1136.2 L956.4 1136.7 L960.6 1137.1 L964.9 1137.5 L969.2 1138.0 L973.5 1138.4 L977.8 1138.8 L982.1 1139.4 L986.4 1140.0 L990.6 1140.8 L994.9 1141.6 L999.2 1142.4 L1003.5 1143.1 L1007.8 1143.6 L1012.1 1143.9 L1016.4 1144.2 L1020.7 1144.7 L1024.9 1145.5 L1029.2 1146.5 L1033.5 1147.6 L1037.8 1148.8 L1042.1 1149.9 L1046.4 1151.1 L1050.7 1152.2 L1054.9 1153.3 L1059.2 1154.3 L1063.5 1155.1 L1067.8 1156.0 L1072.1 1156.7 L1076.4 1157.4 L1080.7 1157.8 L1085.0 1157.9 L1089.2 1157.7 L1093.5 1157.4 L1097.8 1157.2 L1102.1 1157.3 L1106.4 1157.7 L1110.7 1158.0 L1115.0 1157.7 L1119.2 1157.0 L1123.5 1156.3 L1127.8 1155.1 L1132.1 1153.8 L1136.4 1152.2 L1140.7 1150.2 L1145.0 1148.2 L1149.3 1146.1 L1153.5 1143.8 L1157.8 1141.2 L1162.1 1138.0 L1166.4 1134.2 L1170.7 1130.0 L1175.0 1125.2 L1179.3 1120.0 L1183.5 1114.5 L1187.8 1108.7 L1192.1 1102.7 L1196.4 1096.1 L1200.7 1089.1 L1205.0 1081.6 L1209.3 1073.8 L1213.6 1065.6 L1217.8 1057.1 L1222.1 1048.3 L1226.4 1038.9 L1230.7 1028.7 L1235.0 1017.1 L1239.3 1004.7 L1243.6 992.4 L1247.8 980.1 L1252.1 967.9 L1256.4 955.5 L1260.7 942.7 L1265.0 930.6 L1269.3 919.7 L1273.6 910.6 L1277.9 904.7 L1282.1 899.9 L1286.4 895.6 L1290.7 891.2 L1295.0 886.6 L1299.3 882.8 L1303.6 879.5 L1307.9 876.5 L1312.1 874.6 L1316.4 873.6 L1320.7 873.0 L1325.0 872.4 L1329.3 871.9 L1333.6 871.2 L1337.9 869.2 L1342.2 865.7 L1346.4 861.1 L1350.7 855.2 L1355.0 848.0 L1359.3 839.8 L1363.6 830.7 L1367.9 820.5 L1372.2 809.1 L1376.4 796.7 L1380.7 783.6 L1385.0 769.8 L1389.3 754.9 L1393.6 739.4 L1397.9 724.6 L1402.2 710.9 L1406.5 697.7 L1410.7 684.4 L1415.0 670.3 L1419.3 654.5 L1423.6 638.1 L1427.9 622.7 L1432.2 609.5 L1436.5 597.4 L1440.7 586.6 L1445.0 577.3 L1449.3 569.0 L1453.6 564.3 L1457.9 563.2 L1462.2 567.5 L1466.5 576.2 L1470.8 591.7 L1475.0 613.4 L1479.3 639.5 L1483.6 666.3 L1487.9 695.2 L1492.2 726.2 L1496.5 758.9 L1500.8 795.8 L1505.0 841.5 L1509.3 887.6 L1513.6 926.3 L1517.9 962.6 L1522.2 996.7 L1526.5 1028.6 L1530.8 1058.5 L1535.1 1086.1 L1539.3 1110.9 L1543.6 1133.4 L1547.9 1153.9 L1552.2 1172.1 L1556.5 1188.5 L1560.8 1203.0 L1565.1 1216.0 L1569.3 1227.8 L1573.6 1238.5 L1577.9 1248.7 L1582.2 1258.1 L1586.5 1266.3 L1590.8 1273.1 L1595.1 1279.1 L1599.4 1284.4 L1603.6 1289.1 L1607.9 1293.4 L1612.2 1297.4 L1616.5 1301.0 L1620.8 1304.0 L1625.1 1306.5 L1629.4 1308.8 L1633.6 1310.8 L1637.9 1312.6 L1642.2 1314.1 L1646.5 1315.5 L1650.8 1316.7 L1655.1 1317.8 L1659.4 1318.8 L1663.7 1319.6 L1667.9 1320.4 L1672.2 1321.1 L1676.5 1321.7 L1680.8 1322.2 L1685.1 1322.6 L1689.4 1323.0 L1693.7 1323.4 L1697.9 1323.7 L1702.2 1323.9 L1706.5 1324.1 L1710.8 1324.3 L1715.1 1324.5 L1719.4 1324.7 L1723.7 1324.8 L1728.0 1324.9 L1732.2 1325.0 L1736.5 1325.1 L1740.8 1325.2 L1745.1 1325.3 L1749.4 1325.4 L1753.7 1325.5 L1758.0 1325.6 L1762.2 1325.7 L1766.5 1325.8 L1770.8 1325.9 L1775.1 1326.0 L1779.4 1326.0 L1783.7 1326.1 L1788.0 1326.2 L1792.3 1326.2 L1796.5 1326.3 L1800.8 1326.3 L1805.1 1326.4 L1809.4 1326.4 L1813.7 1326.4 L1818.0 1326.4 L1822.3 1326.5 L1826.5 1326.5 L1830.8 1326.5 L1835.1 1326.6 L1839.4 1326.6 L1843.7 1326.6 L1848.0 1326.6 L1852.3 1326.7 L1856.6 1326.7 L1860.8 1326.7 L1865.1 1326.7 L1869.4 1326.7 L1873.7 1326.7 L1878.0 1326.8 L1882.3 1326.8 L1886.6 1326.8 L1890.8 1326.8 L1895.1 1326.8 L1899.4 1326.8 L1903.7 1326.8 L1908.0 1326.8 L1912.3 1326.8 L1916.6 1326.8 L1920.9 1326.8 L1925.1 1326.8 L1929.4 1326.8 L1933.7 1326.8 L1938.0 1326.8"/>
<path stroke="#00CBCC" d="M309.1 1151.5 L313.4 1153.4 L317.6 1154.3 L321.9 1154.8 L326.2 1154.5 L330.5 1154.1 L334.8 1153.6 L339.1 1153.0 L343.4 1152.2 L347.6 1151.3 L351.9 1150.2 L356.2 1148.9 L360.5 1147.4 L364.8 1145.8 L369.1 1144.2 L373.4 1142.6 L377.7 1141.0 L381.9 1139.3 L386.2 1137.5 L390.5 1135.7 L394.8 1131.6 L399.1 1132.6 L403.4 1132.7 L407.7 1132.5 L411.9 1131.9 L416.2 1131.0 L420.5 1130.3 L424.8 1130.0 L429.1 1130.0 L433.4 1130.1 L437.7 1130.0 L442.0 1130.3 L446.2 1131.4 L450.5 1133.0 L454.8 1134.8 L459.1 1136.9 L463.4 1140.0 L467.7 1144.5 L472.0 1149.1 L476.2 1153.9 L480.5 1159.2 L484.8 1165.4 L489.1 1172.1 L493.4 1179.1 L497.7 1186.4 L502.0 1193.3 L506.3 1199.9 L510.5 1206.1 L514.8 1211.8 L519.1 1217.1 L523.4 1221.8 L527.7 1226.1 L532.0 1229.8 L536.3 1233.1 L540.5 1236.1 L544.8 1238.9 L549.1 1241.7 L553.4 1244.0 L557.7 1245.9 L562.0 1247.1 L566.3 1248.1 L570.6 1248.9 L574.8 1249.5 L579.1 1249.9 L583.4 1250.1 L587.7 1250.1 L592.0 1249.7 L596.3 1249.2 L600.6 1248.6 L604.8 1247.9 L609.1 1247.0 L613.4 1246.0 L617.7 1244.8 L622.0 1243.4 L626.3 1241.8 L630.6 1240.0 L634.9 1237.9 L639.1 1235.6 L643.4 1233.2 L647.7 1230.7 L652.0 1228.2 L656.3 1225.7 L660.6 1223.4 L664.9 1221.1 L669.1 1219.0 L673.4 1216.9 L677.7 1214.9 L682.0 1213.0 L686.3 1211.2 L690.6 1209.4 L694.9 1207.7 L699.2 1205.9 L703.4 1204.1 L707.7 1202.2 L712.0 1200.4 L716.3 1198.3 L720.6 1196.1 L724.9 1193.7 L729.2 1191.2 L733.4 1188.7 L737.7 1186.0 L742.0 1183.2 L746.3 1180.2 L750.6 1177.0 L754.9 1173.8 L759.2 1170.5 L763.5 1167.3 L767.7 1164.1 L772.0 1160.9 L776.3 1157.7 L780.6 1154.6 L784.9 1151.5 L789.2 1148.4 L793.5 1145.4 L797.7 1142.3 L802.0 1139.4 L806.3 1136.5 L810.6 1133.7 L814.9 1130.9 L819.2 1128.3 L823.5 1125.7 L827.8 1123.2 L832.0 1120.7 L836.3 1118.4 L840.6 1116.2 L844.9 1114.0 L849.2 1112.0 L853.5 1110.1 L857.8 1108.1 L862.0 1106.2 L866.3 1104.5 L870.6 1102.9 L874.9 1101.5 L879.2 1100.1 L883.5 1098.9 L887.8 1097.7 L892.1 1096.8 L896.3 1095.9 L900.6 1095.2 L904.9 1094.7 L909.2 1094.4 L913.5 1094.1 L917.8 1093.9 L922.1 1093.7 L926.3 1093.7 L930.6 1094.1 L934.9 1094.6 L939.2 1095.1 L943.5 1095.7 L947.8 1096.5 L952.1 1097.5 L956.4 1098.5 L960.6 1099.6 L964.9 1100.6 L969.2 1101.7 L973.5 1102.9 L977.8 1104.2 L982.1 1105.5 L986.4 1107.0 L990.6 1108.6 L994.9 1110.2 L999.2 1111.8 L1003.5 1113.2 L1007.8 1114.3 L1012.1 1115.3 L1016.4 1116.3 L1020.7 1117.4 L1024.9 1118.9 L1029.2 1120.7 L1033.5 1122.7 L1037.8 1124.7 L1042.1 1126.7 L1046.4 1128.8 L1050.7 1130.9 L1054.9 1133.1 L1059.2 1135.3 L1063.5 1137.4 L1067.8 1139.5 L1072.1 1141.7 L1076.4 1143.7 L1080.7 1145.4 L1085.0 1146.7 L1089.2 1147.7 L1093.5 1148.5 L1097.8 1149.4 L1102.1 1150.8 L1106.4 1152.5 L1110.7 1154.1 L1115.0 1155.1 L1119.2 1155.6 L1123.5 1156.0 L1127.8 1156.2 L1132.1 1156.2 L1136.4 1155.7 L1140.7 1154.9 L1145.0 1153.9 L1149.3 1152.9 L1153.5 1151.6 L1157.8 1149.9 L1162.1 1147.8 L1166.4 1145.1 L1170.7 1142.0 L1175.0 1138.4 L1179.3 1134.4 L1183.5 1130.1 L1187.8 1125.5 L1192.1 1120.6 L1196.4 1115.3 L1200.7 1109.5 L1205.0 1103.1 L1209.3 1096.5 L1213.6 1089.6 L1217.8 1082.3 L1222.1 1074.6 L1226.4 1066.5 L1230.7 1057.6 L1235.0 1047.5 L1239.3 1036.6 L1243.6 1025.8 L1247.8 1015.1 L1252.1 1004.3 L1256.4 993.4 L1260.7 982.2 L1265.0 971.5 L1269.3 962.0 L1273.6 953.9 L1277.9 948.6 L1282.1 944.4 L1286.4 940.5 L1290.7 936.5 L1295.0 932.4 L1299.3 928.8 L1303.6 925.6 L1307.9 922.7 L1312.1 920.8 L1316.4 919.7 L1320.7 919.0 L1325.0 918.4 L1329.3 917.7 L1333.6 917.0 L1337.9 915.0 L1342.2 911.8 L1346.4 907.5 L1350.7 902.1 L1355.0 895.6 L1359.3 888.2 L1363.6 880.0 L1367.9 870.8 L1372.2 860.5 L1376.4 849.4 L1380.7 837.6 L1385.0 825.4 L1389.3 812.0 L1393.6 798.3 L1397.9 785.1 L1402.2 773.0 L1406.5 761.3 L1410.7 749.6 L1415.0 737.2 L1419.3 723.4 L1423.6 709.1 L1427.9 695.8 L1432.2 684.4 L1436.5 674.0 L1440.7 664.8 L1445.0 657.1 L1449.3 650.1 L1453.6 646.6 L1457.9 646.0 L1462.2 650.2 L1466.5 658.2 L1470.8 672.2 L1475.0 691.5 L1479.3 714.8 L1483.6 738.8 L1487.9 764.8 L1492.2 792.6 L1496.5 822.0 L1500.8 855.0 L1505.0 895.6 L1509.3 936.5 L1513.6 970.9 L1517.9 1003.1 L1522.2 1033.4 L1526.5 1061.8 L1530.8 1088.4 L1535.1 1113.0 L1539.3 1135.0 L1543.6 1155.0 L1547.9 1173.2 L1552.2 1189.4 L1556.5 1204.0 L1560.8 1216.8 L1565.1 1228.4 L1569.3 1238.9 L1573.6 1248.4 L1577.9 1257.5 L1582.2 1265.8 L1586.5 1273.1 L1590.8 1279.1 L1595.1 1284.5 L1599.4 1289.2 L1603.6 1293.4 L1607.9 1297.3 L1612.2 1300.8 L1616.5 1304.0 L1620.8 1306.6 L1625.1 1308.9 L1629.4 1310.9 L1633.6 1312.7 L1637.9 1314.2 L1642.2 1315.5 L1646.5 1316.7 L1650.8 1317.8 L1655.1 1318.7 L1659.4 1319.6 L1663.7 1320.3 L1667.9 1321.0 L1672.2 1321.6 L1676.5 1322.1 L1680.8 1322.5 L1685.1 1322.9 L1689.4 1323.3 L1693.7 1323.6 L1697.9 1323.8 L1702.2 1324.0 L1706.5 1324.2 L1710.8 1324.4 L1715.1 1324.6 L1719.4 1324.7 L1723.7 1324.8 L1728.0 1324.9 L1732.2 1325.0 L1736.5 1325.1 L1740.8 1325.2 L1745.1 1325.3 L1749.4 1325.4 L1753.7 1325.5 L1758.0 1325.5 L1762.2 1325.6 L1766.5 1325.7 L1770.8 1325.8 L1775.1 1325.8 L1779.4 1325.9 L1783.7 1326.0 L1788.0 1326.0 L1792.3 1326.1 L1796.5 1326.1 L1800.8 1326.1 L1805.1 1326.2 L1809.4 1326.2 L1813.7 1326.2 L1818.0 1326.3 L1822.3 1326.3 L1826.5 1326.3 L1830.8 1326.3 L1835.1 1326.4 L1839.4 1326.4 L1843.7 1326.4 L1848.0 1326.4 L1852.3 1326.4 L1856.6 1326.4 L1860.8 1326.5 L1865.1 1326.5 L1869.4 1326.5 L1873.7 1326.5 L1878.0 1326.5 L1882.3 1326.5 L1886.6 1326.5 L1890.8 1326.5 L1895.1 1326.5 L1899.4 1326.5 L1903.7 1326.5 L1908.0 1326.5 L1912.3 1326.5 L1916.6 1326.5 L1920.9 1326.5 L1925.1 1326.5 L1929.4 1326.5 L1933.7 1326.5 L1938.0 1326.5"/>
<path stroke="#7D4E4E" d="M309.1 1151.1 L313.4 1152.9 L317.6 1153.7 L321.9 1154.0 L326.2 1153.7 L330.5 1153.3 L334.8 1152.8 L339.1 1152.2 L343.4 1151.4 L347.6 1150.5 L351.9 1149.4 L356.2 1148.0 L360.5 1146.5 L364.8 1145.0 L369.1 1143.4 L373.4 1141.9 L377.7 1140.2 L381.9 1138.6 L386.2 1136.8 L390.5 1135.1 L394.8 1131.0 L399.1 1132.0 L403.4 1132.1 L407.7 1131.9 L411.9 1131.3 L416.2 1130.5 L420.5 1129.9 L424.8 1129.5 L429.1 1129.5 L433.4 1129.4 L437.7 1129.3 L442.0 1129.5 L446.2 1130.6 L450.5 1132.1 L454.8 1134.0 L459.1 1136.1 L463.4 1139.1 L467.7 1143.3 L472.0 1147.7 L476.2 1152.2 L480.5 1157.2 L484.8 1163.0 L489.1 1169.2 L493.4 1175.6 L497.7 1182.4 L502.0 1188.9 L506.3 1195.0 L510.5 1200.8 L514.8 1206.2 L519.1 1211.1 L523.4 1215.6 L527.7 1219.7 L532.0 1223.2 L536.3 1226.4 L540.5 1229.3 L544.8 1232.2 L549.1 1234.9 L553.4 1237.3 L557.7 1239.1 L562.0 1240.2 L566.3 1241.1 L570.6 1241.8 L574.8 1242.2 L579.1 1242.4 L583.4 1242.3 L587.7 1242.1 L592.0 1241.5 L596.3 1240.6 L600.6 1239.7 L604.8 1238.7 L609.1 1237.4 L613.4 1236.0 L617.7 1234.4 L622.0 1232.7 L626.3 1230.6 L630.6 1228.4 L634.9 1225.9 L639.1 1223.2 L643.4 1220.3 L647.7 1217.2 L652.0 1214.1 L656.3 1210.9 L660.6 1207.9 L664.9 1205.0 L669.1 1202.2 L673.4 1199.5 L677.7 1196.8 L682.0 1194.2 L686.3 1191.6 L690.6 1189.2 L694.9 1186.7 L699.2 1184.2 L703.4 1181.7 L707.7 1179.1 L712.0 1176.5 L716.3 1173.8 L720.6 1170.9 L724.9 1168.0 L729.2 1165.0 L733.4 1161.9 L737.7 1158.7 L742.0 1155.3 L746.3 1151.8 L750.6 1148.1 L754.9 1144.3 L759.2 1140.5 L763.5 1136.8 L767.7 1133.0 L772.0 1129.3 L776.3 1125.6 L780.6 1121.9 L784.9 1118.3 L789.2 1114.7 L793.5 1111.1 L797.7 1107.6 L802.0 1104.2 L806.3 1100.9 L810.6 1097.6 L814.9 1094.5 L819.2 1091.5 L823.5 1088.5 L827.8 1085.6 L832.0 1082.8 L836.3 1080.1 L840.6 1077.5 L844.9 1075.0 L849.2 1072.6 L853.5 1070.3 L857.8 1068.0 L862.0 1065.7 L866.3 1063.6 L870.6 1061.7 L874.9 1059.9 L879.2 1058.2 L883.5 1056.7 L887.8 1055.4 L892.1 1054.3 L896.3 1053.3 L900.6 1052.5 L904.9 1052.0 L909.2 1051.8 L913.5 1051.7 L917.8 1051.7 L922.1 1051.8 L926.3 1052.4 L930.6 1053.2 L934.9 1054.3 L939.2 1055.4 L943.5 1056.7 L947.8 1058.1 L952.1 1059.7 L956.4 1061.4 L960.6 1062.9 L964.9 1064.4 L969.2 1065.9 L973.5 1067.4 L977.8 1069.1 L982.1 1070.8 L986.4 1072.7 L990.6 1074.8 L994.9 1077.0 L999.2 1079.2 L1003.5 1081.4 L1007.8 1083.4 L1012.1 1085.3 L1016.4 1087.4 L1020.7 1089.6 L1024.9 1092.2 L1029.2 1095.2 L1033.5 1098.3 L1037.8 1101.5 L1042.1 1104.6 L1046.4 1107.8 L1050.7 1111.0 L1054.9 1114.3 L1059.2 1117.6 L1063.5 1120.8 L1067.8 1124.2 L1072.1 1127.5 L1076.4 1130.7 L1080.7 1133.5 L1085.0 1135.7 L1089.2 1137.6 L1093.5 1139.4 L1097.8 1141.4 L1102.1 1144.0 L1106.4 1147.2 L1110.7 1150.2 L1115.0 1152.5 L1119.2 1154.1 L1123.5 1155.8 L1127.8 1157.0 L1132.1 1158.0 L1136.4 1158.5 L1140.7 1158.5 L1145.0 1158.3 L1149.3 1158.0 L1153.5 1157.5 L1157.8 1156.6 L1162.1 1155.3 L1166.4 1153.5 L1170.7 1151.2 L1175.0 1148.6 L1179.3 1145.5 L1183.5 1142.0 L1187.8 1138.3 L1192.1 1134.4 L1196.4 1130.0 L1200.7 1125.1 L1205.0 1119.6 L1209.3 1113.9 L1213.6 1107.9 L1217.8 1101.5 L1222.1 1094.8 L1226.4 1087.6 L1230.7 1079.7 L1235.0 1070.7 L1239.3 1061.0 L1243.6 1051.4 L1247.8 1041.8 L1252.1 1032.2 L1256.4 1022.4 L1260.7 1012.4 L1265.0 1002.8 L1269.3 994.3 L1273.6 987.1 L1277.9 982.3 L1282.1 978.4 L1286.4 974.9 L1290.7 971.2 L1295.0 967.3 L1299.3 963.9 L1303.6 960.7 L1307.9 957.8 L1312.1 955.9 L1316.4 954.7 L1320.7 953.8 L1325.0 953.1 L1329.3 952.4 L1333.6 951.5 L1337.9 949.6 L1342.2 946.6 L1346.4 942.6 L1350.7 937.5 L1355.0 931.5 L1359.3 924.6 L1363.6 917.1 L1367.9 908.7 L1372.2 899.3 L1376.4 889.1 L1380.7 878.4 L1385.0 867.3 L1389.3 855.1 L1393.6 842.7 L1397.9 830.9 L1402.2 820.0 L1406.5 809.6 L1410.7 799.1 L1415.0 788.1 L1419.3 775.9 L1423.6 763.3 L1427.9 751.6 L1432.2 741.7 L1436.5 732.7 L1440.7 724.9 L1445.0 718.5 L1449.3 712.8 L1453.6 710.2 L1457.9 710.2 L1462.2 714.3 L1466.5 721.8 L1470.8 734.5 L1475.0 752.1 L1479.3 773.2 L1483.6 795.0 L1487.9 818.8 L1492.2 844.2 L1496.5 870.9 L1500.8 900.9 L1505.0 937.6 L1509.3 974.4 L1513.6 1005.5 L1517.9 1034.6 L1522.2 1061.9 L1526.5 1087.6 L1530.8 1111.6 L1535.1 1133.8 L1539.3 1153.7 L1543.6 1171.8 L1547.9 1188.2 L1552.2 1202.8 L1556.5 1215.9 L1560.8 1227.6 L1565.1 1238.0 L1569.3 1247.5 L1573.6 1256.1 L1577.9 1264.3 L1582.2 1271.8 L1586.5 1278.4 L1590.8 1283.8 L1595.1 1288.7 L1599.4 1292.9 L1603.6 1296.7 L1607.9 1300.2 L1612.2 1303.5 L1616.5 1306.3 L1620.8 1308.7 L1625.1 1310.7 L1629.4 1312.5 L1633.6 1314.1 L1637.9 1315.4 L1642.2 1316.6 L1646.5 1317.6 L1650.8 1318.6 L1655.1 1319.5 L1659.4 1320.2 L1663.7 1320.8 L1667.9 1321.4 L1672.2 1322.0 L1676.5 1322.4 L1680.8 1322.8 L1685.1 1323.2 L1689.4 1323.5 L1693.7 1323.7 L1697.9 1324.0 L1702.2 1324.2 L1706.5 1324.3 L1710.8 1324.5 L1715.1 1324.6 L1719.4 1324.7 L1723.7 1324.8 L1728.0 1324.9 L1732.2 1325.0 L1736.5 1325.1 L1740.8 1325.2 L1745.1 1325.3 L1749.4 1325.3 L1753.7 1325.4 L1758.0 1325.5 L1762.2 1325.5 L1766.5 1325.6 L1770.8 1325.7 L1775.1 1325.7 L1779.4 1325.8 L1783.7 1325.9 L1788.0 1325.9 L1792.3 1325.9 L1796.5 1326.0 L1800.8 1326.0 L1805.1 1326.0 L1809.4 1326.1 L1813.7 1326.1 L1818.0 1326.1 L1822.3 1326.1 L1826.5 1326.2 L1830.8 1326.2 L1835.1 1326.2 L1839.4 1326.2 L1843.7 1326.2 L1848.0 1326.2 L1852.3 1326.3 L1856.6 1326.3 L1860.8 1326.3 L1865.1 1326.3 L1869.4 1326.3 L1873.7 1326.3 L1878.0 1326.3 L1882.3 1326.3 L1886.6 1326.3 L1890.8 1326.3 L1895.1 1326.3 L1899.4 1326.3 L1903.7 1326.3 L1908.0 1326.3 L1912.3 1326.3 L1916.6 1326.3 L1920.9 1326.3 L1925.1 1326.3 L1929.4 1326.3 L1933.7 1326.3 L1938.0 1326.3"/>
<path stroke="#8E8E00" d="M309.1 1149.2 L313.4 1150.3 L317.6 1150.6 L321.9 1150.6 L326.2 1150.1 L330.5 1149.5 L334.8 1149.0 L339.1 1148.3 L343.4 1147.5 L347.6 1146.6 L351.9 1145.5 L356.2 1144.2 L360.5 1142.8 L364.8 1141.3 L369.1 1139.8 L373.4 1138.4 L377.7 1136.9 L381.9 1135.4 L386.2 1133.8 L390.5 1132.2 L394.8 1128.2 L399.1 1129.3 L403.4 1129.5 L407.7 1129.4 L411.9 1128.9 L416.2 1128.3 L420.5 1127.8 L424.8 1127.7 L429.1 1127.8 L433.4 1128.1 L437.7 1128.2 L442.0 1128.6 L446.2 1129.8 L450.5 1131.4 L454.8 1133.3 L459.1 1135.4 L463.4 1138.3 L467.7 1142.2 L472.0 1146.3 L476.2 1150.5 L480.5 1155.3 L484.8 1160.6 L489.1 1166.4 L493.4 1172.3 L497.7 1178.6 L502.0 1184.6 L506.3 1190.4 L510.5 1195.7 L514.8 1200.8 L519.1 1205.4 L523.4 1209.6 L527.7 1213.4 L532.0 1216.8 L536.3 1219.9 L540.5 1222.7 L544.8 1225.5 L549.1 1228.2 L553.4 1230.6 L557.7 1232.3 L562.0 1233.3 L566.3 1234.1 L570.6 1234.7 L574.8 1235.0 L579.1 1235.1 L583.4 1234.9 L587.7 1234.6 L592.0 1233.8 L596.3 1232.7 L600.6 1231.5 L604.8 1230.3 L609.1 1228.8 L613.4 1227.1 L617.7 1225.3 L622.0 1223.2 L626.3 1220.9 L630.6 1218.3 L634.9 1215.5 L639.1 1212.5 L643.4 1209.3 L647.7 1205.7 L652.0 1202.0 L656.3 1198.3 L660.6 1194.8 L664.9 1191.4 L669.1 1188.1 L673.4 1184.8 L677.7 1181.6 L682.0 1178.4 L686.3 1175.3 L690.6 1172.3 L694.9 1169.3 L699.2 1166.2 L703.4 1163.1 L707.7 1160.0 L712.0 1156.8 L716.3 1153.6 L720.6 1150.2 L724.9 1146.7 L729.2 1143.2 L733.4 1139.7 L737.7 1136.0 L742.0 1132.2 L746.3 1128.2 L750.6 1124.0 L754.9 1119.8 L759.2 1115.5 L763.5 1111.3 L767.7 1107.1 L772.0 1102.9 L776.3 1098.7 L780.6 1094.6 L784.9 1090.6 L789.2 1086.5 L793.5 1082.5 L797.7 1078.6 L802.0 1074.8 L806.3 1071.1 L810.6 1067.5 L814.9 1064.1 L819.2 1060.7 L823.5 1057.4 L827.8 1054.2 L832.0 1051.1 L836.3 1048.1 L840.6 1045.3 L844.9 1042.5 L849.2 1040.0 L853.5 1037.5 L857.8 1035.0 L862.0 1032.5 L866.3 1030.3 L870.6 1028.4 L874.9 1026.5 L879.2 1024.8 L883.5 1023.3 L887.8 1022.0 L892.1 1020.9 L896.3 1020.0 L900.6 1019.2 L904.9 1018.8 L909.2 1018.6 L913.5 1018.6 L917.8 1018.7 L922.1 1019.0 L926.3 1019.7 L930.6 1020.8 L934.9 1022.2 L939.2 1023.6 L943.5 1025.1 L947.8 1026.8 L952.1 1028.8 L956.4 1030.9 L960.6 1032.9 L964.9 1035.1 L969.2 1037.3 L973.5 1039.7 L977.8 1042.1 L982.1 1044.6 L986.4 1047.4 L990.6 1050.3 L994.9 1053.3 L999.2 1056.2 L1003.5 1059.0 L1007.8 1061.6 L1012.1 1064.1 L1016.4 1066.7 L1020.7 1069.5 L1024.9 1072.6 L1029.2 1076.2 L1033.5 1079.9 L1037.8 1083.7 L1042.1 1087.5 L1046.4 1091.5 L1050.7 1095.5 L1054.9 1099.6 L1059.2 1103.7 L1063.5 1107.9 L1067.8 1112.1 L1072.1 1116.4 L1076.4 1120.4 L1080.7 1124.1 L1085.0 1127.1 L1089.2 1129.7 L1093.5 1132.2 L1097.8 1135.0 L1102.1 1138.7 L1106.4 1142.9 L1110.7 1147.1 L1115.0 1150.4 L1119.2 1153.0 L1123.5 1155.6 L1127.8 1157.8 L1132.1 1159.7 L1136.4 1161.0 L1140.7 1161.9 L1145.0 1162.5 L1149.3 1162.9 L1153.5 1163.1 L1157.8 1163.0 L1162.1 1162.4 L1166.4 1161.4 L1170.7 1160.0 L1175.0 1158.2 L1179.3 1155.9 L1183.5 1153.3 L1187.8 1150.5 L1192.1 1147.4 L1196.4 1143.9 L1200.7 1139.8 L1205.0 1135.3 L1209.3 1130.4 L1213.6 1125.3 L1217.8 1119.8 L1222.1 1113.9 L1226.4 1107.6 L1230.7 1100.6 L1235.0 1092.7 L1239.3 1084.2 L1243.6 1075.7 L1247.8 1067.2 L1252.1 1058.6 L1256.4 1049.9 L1260.7 1041.0 L1265.0 1032.5 L1269.3 1024.9 L1273.6 1018.4 L1277.9 1014.2 L1282.1 1010.7 L1286.4 1007.4 L1290.7 1004.0 L1295.0 1000.3 L1299.3 996.8 L1303.6 993.5 L1307.9 990.3 L1312.1 988.3 L1316.4 986.9 L1320.7 985.9 L1325.0 985.0 L1329.3 984.1 L1333.6 983.2 L1337.9 981.3 L1342.2 978.4 L1346.4 974.6 L1350.7 969.9 L1355.0 964.3 L1359.3 958.0 L1363.6 951.0 L1367.9 943.3 L1372.2 934.7 L1376.4 925.5 L1380.7 915.8 L1385.0 905.7 L1389.3 894.7 L1393.6 883.6 L1397.9 873.0 L1402.2 863.4 L1406.5 854.3 L1410.7 845.2 L1415.0 835.6 L1419.3 825.0 L1423.6 814.1 L1427.9 804.2 L1432.2 795.9 L1436.5 788.5 L1440.7 782.2 L1445.0 777.2 L1449.3 772.9 L1453.6 771.6 L1457.9 772.3 L1462.2 776.4 L1466.5 783.3 L1470.8 794.9 L1475.0 810.8 L1479.3 829.8 L1483.6 849.5 L1487.9 871.1 L1492.2 894.1 L1496.5 918.4 L1500.8 945.4 L1505.0 978.3 L1509.3 1011.2 L1513.6 1039.0 L1517.9 1065.0 L1522.2 1089.5 L1526.5 1112.5 L1530.8 1134.0 L1535.1 1154.0 L1539.3 1171.8 L1543.6 1188.0 L1547.9 1202.7 L1552.2 1215.8 L1556.5 1227.6 L1560.8 1238.0 L1565.1 1247.4 L1569.3 1255.8 L1573.6 1263.6 L1577.9 1270.9 L1582.2 1277.6 L1586.5 1283.5 L1590.8 1288.4 L1595.1 1292.7 L1599.4 1296.5 L1603.6 1300.0 L1607.9 1303.1 L1612.2 1306.0 L1616.5 1308.6 L1620.8 1310.7 L1625.1 1312.5 L1629.4 1314.0 L1633.6 1315.4 L1637.9 1316.6 L1642.2 1317.6 L1646.5 1318.6 L1650.8 1319.4 L1655.1 1320.2 L1659.4 1320.8 L1663.7 1321.4 L1667.9 1321.9 L1672.2 1322.3 L1676.5 1322.7 L1680.8 1323.1 L1685.1 1323.4 L1689.4 1323.7 L1693.7 1323.9 L1697.9 1324.1 L1702.2 1324.3 L1706.5 1324.4 L1710.8 1324.5 L1715.1 1324.7 L1719.4 1324.8 L1723.7 1324.9 L1728.0 1324.9 L1732.2 1325.0 L1736.5 1325.1 L1740.8 1325.2 L1745.1 1325.2 L1749.4 1325.3 L1753.7 1325.4 L1758.0 1325.4 L1762.2 1325.5 L1766.5 1325.5 L1770.8 1325.6 L1775.1 1325.6 L1779.4 1325.7 L1783.7 1325.7 L1788.0 1325.8 L1792.3 1325.8 L1796.5 1325.9 L1800.8 1325.9 L1805.1 1325.9 L1809.4 1325.9 L1813.7 1326.0 L1818.0 1326.0 L1822.3 1326.0 L1826.5 1326.0 L1830.8 1326.0 L1835.1 1326.0 L1839.4 1326.1 L1843.7 1326.1 L1848.0 1326.1 L1852.3 1326.1 L1856.6 1326.1 L1860.8 1326.1 L1865.1 1326.1 L1869.4 1326.1 L1873.7 1326.1 L1878.0 1326.1 L1882.3 1326.1 L1886.6 1326.1 L1890.8 1326.1 L1895.1 1326.1 L1899.4 1326.1 L1903.7 1326.1 L1908.0 1326.1 L1912.3 1326.1 L1916.6 1326.1 L1920.9 1326.1 L1925.1 1326.1 L1929.4 1326.1 L1933.7 1326.1 L1938.0 1326.0"/>
<path stroke="#FB6501" d="M309.1 1148.9 L313.4 1149.8 L317.6 1150.0 L321.9 1149.9 L326.2 1149.4 L330.5 1148.8 L334.8 1148.2 L339.1 1147.6 L343.4 1146.8 L347.6 1145.8 L351.9 1144.7 L356.2 1143.5 L360.5 1142.1 L364.8 1140.6 L369.1 1139.1 L373.4 1137.7 L377.7 1136.2 L381.9 1134.7 L386.2 1133.2 L390.5 1131.6 L394.8 1127.7 L399.1 1128.8 L403.4 1129.0 L407.7 1128.9 L411.9 1128.4 L416.2 1127.8 L420.5 1127.4 L424.8 1127.2 L429.1 1127.3 L433.4 1127.5 L437.7 1127.6 L442.0 1128.0 L446.2 1129.2 L450.5 1130.8 L454.8 1132.7 L459.1 1134.9 L463.4 1137.7 L467.7 1141.4 L472.0 1145.3 L476.2 1149.4 L480.5 1153.9 L484.8 1159.0 L489.1 1164.4 L493.4 1170.1 L497.7 1176.0 L502.0 1181.7 L506.3 1187.1 L510.5 1192.3 L514.8 1197.1 L519.1 1201.5 L523.4 1205.5 L527.7 1209.3 L532.0 1212.6 L536.3 1215.7 L540.5 1218.5 L544.8 1221.4 L549.1 1224.2 L553.4 1226.6 L557.7 1228.4 L562.0 1229.4 L566.3 1230.2 L570.6 1230.8 L574.8 1231.1 L579.1 1231.1 L583.4 1230.9 L587.7 1230.5 L592.0 1229.6 L596.3 1228.4 L600.6 1227.1 L604.8 1225.6 L609.1 1224.0 L613.4 1222.1 L617.7 1220.1 L622.0 1217.8 L626.3 1215.2 L630.6 1212.4 L634.9 1209.3 L639.1 1206.0 L643.4 1202.3 L647.7 1198.3 L652.0 1194.1 L656.3 1189.9 L660.6 1185.9 L664.9 1181.9 L669.1 1178.1 L673.4 1174.3 L677.7 1170.6 L682.0 1166.9 L686.3 1163.2 L690.6 1159.7 L694.9 1156.1 L699.2 1152.5 L703.4 1148.8 L707.7 1145.1 L712.0 1141.4 L716.3 1137.6 L720.6 1133.7 L724.9 1129.7 L729.2 1125.7 L733.4 1121.7 L737.7 1117.5 L742.0 1113.2 L746.3 1108.6 L750.6 1103.9 L754.9 1099.1 L759.2 1094.4 L763.5 1089.6 L767.7 1084.9 L772.0 1080.1 L776.3 1075.5 L780.6 1070.9 L784.9 1066.3 L789.2 1061.8 L793.5 1057.3 L797.7 1052.9 L802.0 1048.7 L806.3 1044.6 L810.6 1040.6 L814.9 1036.7 L819.2 1033.0 L823.5 1029.4 L827.8 1025.8 L832.0 1022.3 L836.3 1019.0 L840.6 1015.9 L844.9 1012.8 L849.2 1010.0 L853.5 1007.2 L857.8 1004.5 L862.0 1001.8 L866.3 999.4 L870.6 997.3 L874.9 995.3 L879.2 993.4 L883.5 991.8 L887.8 990.4 L892.1 989.3 L896.3 988.3 L900.6 987.5 L904.9 987.1 L909.2 987.0 L913.5 987.1 L917.8 987.3 L922.1 987.7 L926.3 988.6 L930.6 989.9 L934.9 991.5 L939.2 993.3 L943.5 995.0 L947.8 997.1 L952.1 999.4 L956.4 1001.8 L960.6 1004.3 L964.9 1006.8 L969.2 1009.4 L973.5 1012.2 L977.8 1015.0 L982.1 1018.0 L986.4 1021.3 L990.6 1024.7 L994.9 1028.2 L999.2 1031.7 L1003.5 1035.1 L1007.8 1038.3 L1012.1 1041.5 L1016.4 1044.7 L1020.7 1048.3 L1024.9 1052.3 L1029.2 1056.7 L1033.5 1061.3 L1037.8 1065.9 L1042.1 1070.6 L1046.4 1075.4 L1050.7 1080.3 L1054.9 1085.2 L1059.2 1090.2 L1063.5 1095.2 L1067.8 1100.3 L1072.1 1105.5 L1076.4 1110.4 L1080.7 1114.8 L1085.0 1118.6 L1089.2 1121.9 L1093.5 1125.1 L1097.8 1128.8 L1102.1 1133.4 L1106.4 1138.8 L1110.7 1144.0 L1115.0 1148.3 L1119.2 1151.9 L1123.5 1155.4 L1127.8 1158.5 L1132.1 1161.2 L1136.4 1163.4 L1140.7 1165.1 L1145.0 1166.4 L1149.3 1167.5 L1153.5 1168.4 L1157.8 1168.9 L1162.1 1169.0 L1166.4 1168.8 L1170.7 1168.1 L1175.0 1167.1 L1179.3 1165.7 L1183.5 1163.9 L1187.8 1161.9 L1192.1 1159.6 L1196.4 1156.9 L1200.7 1153.6 L1205.0 1149.9 L1209.3 1145.9 L1213.6 1141.5 L1217.8 1136.8 L1222.1 1131.7 L1226.4 1126.3 L1230.7 1120.2 L1235.0 1113.3 L1239.3 1105.8 L1243.6 1098.3 L1247.8 1090.8 L1252.1 1083.3 L1256.4 1075.6 L1260.7 1067.7 L1265.0 1060.2 L1269.3 1053.5 L1273.6 1047.8 L1277.9 1044.0 L1282.1 1040.9 L1286.4 1037.9 L1290.7 1034.8 L1295.0 1031.3 L1299.3 1028.0 L1303.6 1024.7 L1307.9 1021.6 L1312.1 1019.5 L1316.4 1018.1 L1320.7 1017.0 L1325.0 1016.1 L1329.3 1015.1 L1333.6 1014.1 L1337.9 1012.2 L1342.2 1009.5 L1346.4 1006.0 L1350.7 1001.6 L1355.0 996.4 L1359.3 990.6 L1363.6 984.3 L1367.9 977.2 L1372.2 969.4 L1376.4 961.0 L1380.7 952.3 L1385.0 943.2 L1389.3 933.3 L1393.6 923.3 L1397.9 913.9 L1402.2 905.4 L1406.5 897.3 L1410.7 889.3 L1415.0 880.9 L1419.3 871.6 L1423.6 862.2 L1427.9 853.7 L1432.2 846.6 L1436.5 840.5 L1440.7 835.4 L1445.0 831.4 L1449.3 828.1 L1453.6 827.5 L1457.9 828.7 L1462.2 832.6 L1466.5 839.1 L1470.8 849.6 L1475.0 864.0 L1479.3 881.1 L1483.6 898.9 L1487.9 918.4 L1492.2 939.3 L1496.5 961.3 L1500.8 985.7 L1505.0 1015.1 L1509.3 1044.4 L1513.6 1069.3 L1517.9 1092.6 L1522.2 1114.5 L1526.5 1135.1 L1530.8 1154.4 L1535.1 1172.2 L1539.3 1188.2 L1543.6 1202.7 L1547.9 1215.8 L1552.2 1227.5 L1556.5 1238.1 L1560.8 1247.4 L1565.1 1255.8 L1569.3 1263.4 L1573.6 1270.3 L1577.9 1276.9 L1582.2 1282.9 L1586.5 1288.1 L1590.8 1292.5 L1595.1 1296.4 L1599.4 1299.8 L1603.6 1302.9 L1607.9 1305.7 L1612.2 1308.3 L1616.5 1310.6 L1620.8 1312.5 L1625.1 1314.0 L1629.4 1315.4 L1633.6 1316.7 L1637.9 1317.7 L1642.2 1318.6 L1646.5 1319.4 L1650.8 1320.1 L1655.1 1320.8 L1659.4 1321.3 L1663.7 1321.8 L1667.9 1322.3 L1672.2 1322.7 L1676.5 1323.0 L1680.8 1323.3 L1685.1 1323.6 L1689.4 1323.8 L1693.7 1324.0 L1697.9 1324.2 L1702.2 1324.4 L1706.5 1324.5 L1710.8 1324.6 L1715.1 1324.7 L1719.4 1324.8 L1723.7 1324.9 L1728.0 1325.0 L1732.2 1325.0 L1736.5 1325.1 L1740.8 1325.1 L1745.1 1325.2 L1749.4 1325.3 L1753.7 1325.3 L1758.0 1325.4 L1762.2 1325.4 L1766.5 1325.5 L1770.8 1325.5 L1775.1 1325.6 L1779.4 1325.6 L1783.7 1325.6 L1788.0 1325.7 L1792.3 1325.7 L1796.5 1325.7 L1800.8 1325.8 L1805.1 1325.8 L1809.4 1325.8 L1813.7 1325.8 L1818.0 1325.8 L1822.3 1325.9 L1826.5 1325.9 L1830.8 1325.9 L1835.1 1325.9 L1839.4 1325.9 L1843.7 1325.9 L1848.0 1325.9 L1852.3 1325.9 L1856.6 1325.9 L1860.8 1325.9 L1865.1 1325.9 L1869.4 1326.0 L1873.7 1326.0 L1878.0 1326.0 L1882.3 1326.0 L1886.6 1326.0 L1890.8 1325.9 L1895.1 1325.9 L1899.4 1325.9 L1903.7 1325.9 L1908.0 1325.9 L1912.3 1325.9 L1916.6 1325.9 L1920.9 1325.9 L1925.1 1325.9 L1929.4 1325.9 L1933.7 1325.9 L1938.0 1325.8"/>
<path stroke="#6699CC" d="M309.1 1145.9 L313.4 1145.7 L317.6 1145.1 L321.9 1144.4 L326.2 1143.6 L330.5 1142.8 L334.8 1142.1 L339.1 1141.3 L343.4 1140.5 L347.6 1139.6 L351.9 1138.5 L356.2 1137.3 L360.5 1136.0 L364.8 1134.7 L369.1 1133.4 L373.4 1132.1 L377.7 1130.8 L381.9 1129.5 L386.2 1128.2 L390.5 1127.0 L394.8 1123.2 L399.1 1124.5 L403.4 1124.7 L407.7 1124.7 L411.9 1124.5 L416.2 1124.2 L420.5 1124.0 L424.8 1124.2 L429.1 1124.8 L433.4 1125.6 L437.7 1126.2 L442.0 1127.1 L446.2 1128.4 L450.5 1130.1 L454.8 1132.1 L459.1 1134.4 L463.4 1137.2 L467.7 1140.8 L472.0 1144.5 L476.2 1148.5 L480.5 1152.8 L484.8 1157.6 L489.1 1162.8 L493.4 1168.1 L497.7 1173.6 L502.0 1179.0 L506.3 1184.3 L510.5 1189.2 L514.8 1193.8 L519.1 1198.1 L523.4 1202.0 L527.7 1205.7 L532.0 1209.0 L536.3 1212.0 L540.5 1214.9 L544.8 1217.8 L549.1 1220.7 L553.4 1223.2 L557.7 1225.0 L562.0 1226.0 L566.3 1226.8 L570.6 1227.3 L574.8 1227.6 L579.1 1227.6 L583.4 1227.3 L587.7 1226.9 L592.0 1225.9 L596.3 1224.6 L600.6 1223.1 L604.8 1221.6 L609.1 1219.8 L613.4 1217.7 L617.7 1215.5 L622.0 1213.0 L626.3 1210.3 L630.6 1207.2 L634.9 1203.8 L639.1 1200.2 L643.4 1196.2 L647.7 1191.8 L652.0 1187.2 L656.3 1182.5 L660.6 1178.0 L664.9 1173.6 L669.1 1169.4 L673.4 1165.1 L677.7 1160.9 L682.0 1156.7 L686.3 1152.6 L690.6 1148.5 L694.9 1144.5 L699.2 1140.4 L703.4 1136.2 L707.7 1132.0 L712.0 1127.9 L716.3 1123.6 L720.6 1119.2 L724.9 1114.8 L729.2 1110.3 L733.4 1105.8 L737.7 1101.2 L742.0 1096.4 L746.3 1091.4 L750.6 1086.2 L754.9 1081.0 L759.2 1075.7 L763.5 1070.5 L767.7 1065.3 L772.0 1060.1 L776.3 1055.0 L780.6 1049.9 L784.9 1044.9 L789.2 1040.0 L793.5 1035.1 L797.7 1030.3 L802.0 1025.7 L806.3 1021.2 L810.6 1016.9 L814.9 1012.7 L819.2 1008.6 L823.5 1004.7 L827.8 1000.8 L832.0 997.0 L836.3 993.4 L840.6 990.0 L844.9 986.7 L849.2 983.6 L853.5 980.6 L857.8 977.7 L862.0 974.8 L866.3 972.2 L870.6 969.9 L874.9 967.8 L879.2 965.8 L883.5 964.0 L887.8 962.5 L892.1 961.4 L896.3 960.4 L900.6 959.6 L904.9 959.2 L909.2 959.2 L913.5 959.4 L917.8 959.7 L922.1 960.1 L926.3 961.2 L930.6 962.8 L934.9 964.6 L939.2 966.6 L943.5 968.6 L947.8 971.0 L952.1 973.6 L956.4 976.3 L960.6 979.1 L964.9 982.0 L969.2 985.1 L973.5 988.3 L977.8 991.6 L982.1 995.1 L986.4 998.9 L990.6 1002.9 L994.9 1007.0 L999.2 1011.1 L1003.5 1015.1 L1007.8 1019.0 L1012.1 1022.9 L1016.4 1026.9 L1020.7 1031.3 L1024.9 1036.1 L1029.2 1041.3 L1033.5 1046.8 L1037.8 1052.3 L1042.1 1057.8 L1046.4 1063.4 L1050.7 1069.0 L1054.9 1074.6 L1059.2 1080.2 L1063.5 1085.8 L1067.8 1091.5 L1072.1 1097.2 L1076.4 1102.6 L1080.7 1107.5 L1085.0 1111.6 L1089.2 1115.4 L1093.5 1119.1 L1097.8 1123.4 L1102.1 1128.8 L1106.4 1135.1 L1110.7 1141.3 L1115.0 1146.5 L1119.2 1150.9 L1123.5 1155.2 L1127.8 1159.2 L1132.1 1162.9 L1136.4 1166.0 L1140.7 1168.5 L1145.0 1170.5 L1149.3 1172.4 L1153.5 1173.9 L1157.8 1175.2 L1162.1 1176.1 L1166.4 1176.6 L1170.7 1176.8 L1175.0 1176.6 L1179.3 1176.0 L1183.5 1175.1 L1187.8 1173.9 L1192.1 1172.5 L1196.4 1170.7 L1200.7 1168.3 L1205.0 1165.4 L1209.3 1162.2 L1213.6 1158.8 L1217.8 1154.9 L1222.1 1150.7 L1226.4 1146.1 L1230.7 1140.9 L1235.0 1135.1 L1239.3 1128.7 L1243.6 1122.4 L1247.8 1116.0 L1252.1 1109.4 L1256.4 1102.8 L1260.7 1096.1 L1265.0 1089.7 L1269.3 1083.9 L1273.6 1079.0 L1277.9 1075.7 L1282.1 1072.9 L1286.4 1070.3 L1290.7 1067.5 L1295.0 1064.4 L1299.3 1061.4 L1303.6 1058.5 L1307.9 1055.6 L1312.1 1053.7 L1316.4 1052.3 L1320.7 1051.2 L1325.0 1050.3 L1329.3 1049.3 L1333.6 1048.2 L1337.9 1046.5 L1342.2 1043.9 L1346.4 1040.7 L1350.7 1036.7 L1355.0 1032.0 L1359.3 1026.8 L1363.6 1021.1 L1367.9 1014.8 L1372.2 1007.8 L1376.4 1000.4 L1380.7 992.6 L1385.0 984.6 L1389.3 975.9 L1393.6 967.1 L1397.9 958.8 L1402.2 951.3 L1406.5 944.2 L1410.7 937.2 L1415.0 929.9 L1419.3 921.9 L1423.6 913.8 L1427.9 906.5 L1432.2 900.5 L1436.5 895.4 L1440.7 891.2 L1445.0 888.0 L1449.3 885.5 L1453.6 885.3 L1457.9 886.7 L1462.2 890.4 L1466.5 896.4 L1470.8 905.8 L1475.0 918.5 L1479.3 933.7 L1483.6 949.5 L1487.9 967.0 L1492.2 985.8 L1496.5 1005.4 L1500.8 1027.0 L1505.0 1052.9 L1509.3 1078.6 L1513.6 1100.4 L1517.9 1120.9 L1522.2 1140.2 L1526.5 1158.3 L1530.8 1175.2 L1535.1 1191.0 L1539.3 1205.1 L1543.6 1217.8 L1547.9 1229.3 L1552.2 1239.6 L1556.5 1248.9 L1560.8 1257.1 L1565.1 1264.5 L1569.3 1271.1 L1573.6 1277.2 L1577.9 1283.0 L1582.2 1288.2 L1586.5 1292.9 L1590.8 1296.7 L1595.1 1300.2 L1599.4 1303.2 L1603.6 1305.9 L1607.9 1308.4 L1612.2 1310.7 L1616.5 1312.7 L1620.8 1314.3 L1625.1 1315.7 L1629.4 1316.9 L1633.6 1317.9 L1637.9 1318.8 L1642.2 1319.6 L1646.5 1320.3 L1650.8 1320.9 L1655.1 1321.4 L1659.4 1321.9 L1663.7 1322.3 L1667.9 1322.7 L1672.2 1323.0 L1676.5 1323.3 L1680.8 1323.6 L1685.1 1323.8 L1689.4 1324.0 L1693.7 1324.2 L1697.9 1324.3 L1702.2 1324.5 L1706.5 1324.6 L1710.8 1324.7 L1715.1 1324.8 L1719.4 1324.8 L1723.7 1324.9 L1728.0 1325.0 L1732.2 1325.0 L1736.5 1325.1 L1740.8 1325.1 L1745.1 1325.2 L1749.4 1325.2 L1753.7 1325.3 L1758.0 1325.3 L1762.2 1325.3 L1766.5 1325.4 L1770.8 1325.4 L1775.1 1325.5 L1779.4 1325.5 L1783.7 1325.5 L1788.0 1325.6 L1792.3 1325.6 L1796.5 1325.6 L1800.8 1325.7 L1805.1 1325.7 L1809.4 1325.7 L1813.7 1325.7 L1818.0 1325.7 L1822.3 1325.7 L1826.5 1325.7 L1830.8 1325.7 L1835.1 1325.8 L1839.4 1325.8 L1843.7 1325.8 L1848.0 1325.8 L1852.3 1325.8 L1856.6 1325.8 L1860.8 1325.8 L1865.1 1325.8 L1869.4 1325.8 L1873.7 1325.8 L1878.0 1325.8 L1882.3 1325.8 L1886.6 1325.8 L1890.8 1325.8 L1895.1 1325.8 L1899.4 1325.8 L1903.7 1325.7 L1908.0 1325.7 L1912.3 1325.7 L1916.6 1325.7 L1920.9 1325.7 L1925.1 1325.7 L1929.4 1325.7 L1933.7 1325.7 L1938.0 1325.6"/>
<path stroke="#6FB802" d="M309.1 1145.2 L313.4 1144.6 L317.6 1143.8 L321.9 1143.0 L326.2 1142.1 L330.5 1141.3 L334.8 1140.5 L339.1 1139.8 L343.4 1138.9 L347.6 1138.0 L351.9 1136.9 L356.2 1135.7 L360.5 1134.5 L364.8 1133.2 L369.1 1131.9 L373.4 1130.7 L377.7 1129.5 L381.9 1128.2 L386.2 1127.0 L390.5 1125.8 L394.8 1122.1 L399.1 1123.4 L403.4 1123.7 L407.7 1123.7 L411.9 1123.6 L416.2 1123.3 L420.5 1123.2 L424.8 1123.5 L429.1 1124.1 L433.4 1124.9 L437.7 1125.6 L442.0 1126.5 L446.2 1127.9 L450.5 1129.7 L454.8 1131.7 L459.1 1134.0 L463.4 1136.7 L467.7 1140.2 L472.0 1143.8 L476.2 1147.7 L480.5 1151.8 L484.8 1156.5 L489.1 1161.4 L493.4 1166.4 L497.7 1171.7 L502.0 1176.9 L506.3 1181.9 L510.5 1186.7 L514.8 1191.1 L519.1 1195.3 L523.4 1199.1 L527.7 1202.7 L532.0 1206.0 L536.3 1209.0 L540.5 1211.9 L544.8 1214.9 L549.1 1217.8 L553.4 1220.4 L557.7 1222.2 L562.0 1223.2 L566.3 1224.0 L570.6 1224.5 L574.8 1224.8 L579.1 1224.7 L583.4 1224.4 L587.7 1223.9 L592.0 1222.9 L596.3 1221.5 L600.6 1219.9 L604.8 1218.3 L609.1 1216.3 L613.4 1214.1 L617.7 1211.7 L622.0 1209.1 L626.3 1206.2 L630.6 1202.9 L634.9 1199.3 L639.1 1195.5 L643.4 1191.3 L647.7 1186.5 L652.0 1181.5 L656.3 1176.5 L660.6 1171.6 L664.9 1166.9 L669.1 1162.2 L673.4 1157.6 L677.7 1153.0 L682.0 1148.4 L686.3 1143.9 L690.6 1139.5 L694.9 1135.0 L699.2 1130.5 L703.4 1125.9 L707.7 1121.4 L712.0 1116.8 L716.3 1112.2 L720.6 1107.4 L724.9 1102.6 L729.2 1097.8 L733.4 1092.9 L737.7 1087.9 L742.0 1082.8 L746.3 1077.4 L750.6 1071.8 L754.9 1066.2 L759.2 1060.5 L763.5 1055.0 L767.7 1049.4 L772.0 1043.8 L776.3 1038.3 L780.6 1032.9 L784.9 1027.5 L789.2 1022.2 L793.5 1017.0 L797.7 1011.9 L802.0 1007.0 L806.3 1002.2 L810.6 997.6 L814.9 993.1 L819.2 988.8 L823.5 984.5 L827.8 980.4 L832.0 976.4 L836.3 972.6 L840.6 968.9 L844.9 965.4 L849.2 962.2 L853.5 959.0 L857.8 955.9 L862.0 952.8 L866.3 950.1 L870.6 947.6 L874.9 945.4 L879.2 943.3 L883.5 941.4 L887.8 939.9 L892.1 938.7 L896.3 937.7 L900.6 936.9 L904.9 936.5 L909.2 936.6 L913.5 936.8 L917.8 937.2 L922.1 937.7 L926.3 938.9 L930.6 940.6 L934.9 942.7 L939.2 944.8 L943.5 947.1 L947.8 949.7 L952.1 952.5 L956.4 955.5 L960.6 958.6 L964.9 961.7 L969.2 965.1 L973.5 968.6 L977.8 972.2 L982.1 976.1 L986.4 980.2 L990.6 984.6 L994.9 989.1 L999.2 993.5 L1003.5 997.9 L1007.8 1002.2 L1012.1 1006.5 L1016.4 1011.0 L1020.7 1015.8 L1024.9 1021.2 L1029.2 1026.9 L1033.5 1032.9 L1037.8 1039.0 L1042.1 1045.0 L1046.4 1051.1 L1050.7 1057.4 L1054.9 1063.6 L1059.2 1069.8 L1063.5 1076.1 L1067.8 1082.5 L1072.1 1088.9 L1076.4 1095.1 L1080.7 1100.6 L1085.0 1105.4 L1089.2 1109.7 L1093.5 1114.0 L1097.8 1118.9 L1102.1 1125.0 L1106.4 1132.1 L1110.7 1139.1 L1115.0 1145.1 L1119.2 1150.0 L1123.5 1155.1 L1127.8 1159.8 L1132.1 1164.3 L1136.4 1168.0 L1140.7 1171.2 L1145.0 1173.8 L1149.3 1176.2 L1153.5 1178.4 L1157.8 1180.2 L1162.1 1181.7 L1166.4 1182.9 L1170.7 1183.7 L1175.0 1184.2 L1179.3 1184.3 L1183.5 1184.0 L1187.8 1183.5 L1192.1 1182.8 L1196.4 1181.7 L1200.7 1179.9 L1205.0 1177.7 L1209.3 1175.2 L1213.6 1172.5 L1217.8 1169.3 L1222.1 1165.8 L1226.4 1161.9 L1230.7 1157.5 L1235.0 1152.4 L1239.3 1147.0 L1243.6 1141.6 L1247.8 1136.0 L1252.1 1130.3 L1256.4 1124.6 L1260.7 1118.7 L1265.0 1113.1 L1269.3 1108.1 L1273.6 1103.8 L1277.9 1100.9 L1282.1 1098.4 L1286.4 1096.1 L1290.7 1093.7 L1295.0 1091.0 L1299.3 1088.4 L1303.6 1086.0 L1307.9 1083.6 L1312.1 1081.9 L1316.4 1080.7 L1320.7 1079.7 L1325.0 1078.8 L1329.3 1077.9 L1333.6 1076.8 L1337.9 1075.1 L1342.2 1072.8 L1346.4 1069.8 L1350.7 1066.2 L1355.0 1061.9 L1359.3 1057.2 L1363.6 1052.1 L1367.9 1046.3 L1372.2 1040.1 L1376.4 1033.4 L1380.7 1026.4 L1385.0 1019.2 L1389.3 1011.4 L1393.6 1003.5 L1397.9 996.1 L1402.2 989.3 L1406.5 982.9 L1410.7 976.5 L1415.0 969.8 L1419.3 962.7 L1423.6 955.5 L1427.9 948.9 L1432.2 943.5 L1436.5 938.9 L1440.7 935.1 L1445.0 932.2 L1449.3 930.0 L1453.6 929.8 L1457.9 931.1 L1462.2 934.5 L1466.5 940.0 L1470.8 948.6 L1475.0 960.1 L1479.3 973.8 L1483.6 988.2 L1487.9 1004.1 L1492.2 1021.2 L1496.5 1039.0 L1500.8 1058.6 L1505.0 1081.7 L1509.3 1104.6 L1513.6 1124.2 L1517.9 1142.5 L1522.2 1159.8 L1526.5 1176.0 L1530.8 1191.2 L1535.1 1205.3 L1539.3 1217.9 L1543.6 1229.3 L1547.9 1239.6 L1552.2 1248.8 L1556.5 1257.1 L1560.8 1264.5 L1565.1 1271.1 L1569.3 1277.1 L1573.6 1282.5 L1577.9 1287.7 L1582.2 1292.4 L1586.5 1296.5 L1590.8 1300.0 L1595.1 1303.0 L1599.4 1305.8 L1603.6 1308.2 L1607.9 1310.4 L1612.2 1312.5 L1616.5 1314.3 L1620.8 1315.7 L1625.1 1316.9 L1629.4 1318.0 L1633.6 1318.9 L1637.9 1319.7 L1642.2 1320.3 L1646.5 1320.9 L1650.8 1321.5 L1655.1 1321.9 L1659.4 1322.3 L1663.7 1322.7 L1667.9 1323.0 L1672.2 1323.3 L1676.5 1323.6 L1680.8 1323.8 L1685.1 1324.0 L1689.4 1324.1 L1693.7 1324.3 L1697.9 1324.4 L1702.2 1324.5 L1706.5 1324.6 L1710.8 1324.7 L1715.1 1324.8 L1719.4 1324.9 L1723.7 1324.9 L1728.0 1325.0 L1732.2 1325.0 L1736.5 1325.1 L1740.8 1325.1 L1745.1 1325.1 L1749.4 1325.2 L1753.7 1325.2 L1758.0 1325.3 L1762.2 1325.3 L1766.5 1325.3 L1770.8 1325.4 L1775.1 1325.4 L1779.4 1325.4 L1783.7 1325.5 L1788.0 1325.5 L1792.3 1325.5 L1796.5 1325.5 L1800.8 1325.6 L1805.1 1325.6 L1809.4 1325.6 L1813.7 1325.6 L1818.0 1325.6 L1822.3 1325.6 L1826.5 1325.6 L1830.8 1325.6 L1835.1 1325.6 L1839.4 1325.6 L1843.7 1325.7 L1848.0 1325.7 L1852.3 1325.7 L1856.6 1325.7 L1860.8 1325.7 L1865.1 1325.7 L1869.4 1325.7 L1873.7 1325.6 L1878.0 1325.6 L1882.3 1325.6 L1886.6 1325.6 L1890.8 1325.6 L1895.1 1325.6 L1899.4 1325.6 L1903.7 1325.6 L1908.0 1325.6 L1912.3 1325.6 L1916.6 1325.6 L1920.9 1325.5 L1925.1 1325.5 L1929.4 1325.5 L1933.7 1325.5 L1938.0 1325.5"/>
<path stroke="#515151" d="M309.1 1144.7 L313.4 1144.0 L317.6 1143.0 L321.9 1142.1 L326.2 1141.1 L330.5 1140.3 L334.8 1139.5 L339.1 1138.7 L343.4 1137.9 L347.6 1137.0 L351.9 1135.9 L356.2 1134.7 L360.5 1133.5 L364.8 1132.2 L369.1 1131.0 L373.4 1129.8 L377.7 1128.6 L381.9 1127.4 L386.2 1126.2 L390.5 1125.0 L394.8 1121.3 L399.1 1122.7 L403.4 1123.0 L407.7 1123.0 L411.9 1122.9 L416.2 1122.7 L420.5 1122.6 L424.8 1122.9 L429.1 1123.6 L433.4 1124.4 L437.7 1125.1 L442.0 1126.1 L446.2 1127.5 L450.5 1129.2 L454.8 1131.3 L459.1 1133.6 L463.4 1136.3 L467.7 1139.7 L472.0 1143.2 L476.2 1146.9 L480.5 1150.9 L484.8 1155.4 L489.1 1160.0 L493.4 1164.9 L497.7 1169.9 L502.0 1174.9 L506.3 1179.7 L510.5 1184.3 L514.8 1188.6 L519.1 1192.6 L523.4 1196.3 L527.7 1199.9 L532.0 1203.1 L536.3 1206.1 L540.5 1209.0 L544.8 1212.1 L549.1 1215.1 L553.4 1217.7 L557.7 1219.6 L562.0 1220.5 L566.3 1221.3 L570.6 1221.8 L574.8 1222.0 L579.1 1222.0 L583.4 1221.7 L587.7 1221.1 L592.0 1220.0 L596.3 1218.5 L600.6 1216.9 L604.8 1215.1 L609.1 1213.0 L613.4 1210.7 L617.7 1208.2 L622.0 1205.4 L626.3 1202.3 L630.6 1198.8 L634.9 1195.0 L639.1 1191.0 L643.4 1186.5 L647.7 1181.5 L652.0 1176.1 L656.3 1170.7 L660.6 1165.4 L664.9 1160.4 L669.1 1155.4 L673.4 1150.4 L677.7 1145.4 L682.0 1140.5 L686.3 1135.6 L690.6 1130.8 L694.9 1125.9 L699.2 1121.0 L703.4 1116.1 L707.7 1111.2 L712.0 1106.2 L716.3 1101.2 L720.6 1096.0 L724.9 1090.9 L729.2 1085.8 L733.4 1080.5 L737.7 1075.2 L742.0 1069.7 L746.3 1063.9 L750.6 1058.0 L754.9 1051.9 L759.2 1046.0 L763.5 1040.0 L767.7 1034.1 L772.0 1028.1 L776.3 1022.2 L780.6 1016.5 L784.9 1010.8 L789.2 1005.2 L793.5 999.6 L797.7 994.2 L802.0 989.0 L806.3 984.0 L810.6 979.0 L814.9 974.3 L819.2 969.7 L823.5 965.2 L827.8 960.8 L832.0 956.6 L836.3 952.5 L840.6 948.7 L844.9 945.0 L849.2 941.5 L853.5 938.2 L857.8 934.9 L862.0 931.7 L866.3 928.8 L870.6 926.2 L874.9 923.9 L879.2 921.7 L883.5 919.7 L887.8 918.1 L892.1 916.9 L896.3 915.9 L900.6 915.1 L904.9 914.7 L909.2 914.8 L913.5 915.1 L917.8 915.5 L922.1 916.2 L926.3 917.5 L930.6 919.4 L934.9 921.6 L939.2 924.0 L943.5 926.4 L947.8 929.2 L952.1 932.3 L956.4 935.5 L960.6 938.8 L964.9 942.3 L969.2 945.9 L973.5 949.7 L977.8 953.6 L982.1 957.8 L986.4 962.3 L990.6 967.0 L994.9 971.8 L999.2 976.6 L1003.5 981.4 L1007.8 986.0 L1012.1 990.8 L1016.4 995.7 L1020.7 1001.0 L1024.9 1006.8 L1029.2 1013.0 L1033.5 1019.5 L1037.8 1026.1 L1042.1 1032.7 L1046.4 1039.4 L1050.7 1046.2 L1054.9 1053.0 L1059.2 1059.8 L1063.5 1066.7 L1067.8 1073.9 L1072.1 1081.0 L1076.4 1087.8 L1080.7 1094.0 L1085.0 1099.3 L1089.2 1104.2 L1093.5 1109.1 L1097.8 1114.6 L1102.1 1121.4 L1106.4 1129.3 L1110.7 1137.0 L1115.0 1143.6 L1119.2 1149.3 L1123.5 1155.0 L1127.8 1160.4 L1132.1 1165.4 L1136.4 1169.8 L1140.7 1173.5 L1145.0 1176.7 L1149.3 1179.6 L1153.5 1182.3 L1157.8 1184.6 L1162.1 1186.6 L1166.4 1188.4 L1170.7 1189.8 L1175.0 1190.9 L1179.3 1191.5 L1183.5 1191.8 L1187.8 1192.0 L1192.1 1191.9 L1196.4 1191.3 L1200.7 1190.2 L1205.0 1188.6 L1209.3 1186.7 L1213.6 1184.5 L1217.8 1182.0 L1222.1 1179.0 L1226.4 1175.8 L1230.7 1172.0 L1235.0 1167.7 L1239.3 1163.1 L1243.6 1158.4 L1247.8 1153.6 L1252.1 1148.6 L1256.4 1143.6 L1260.7 1138.5 L1265.0 1133.7 L1269.3 1129.3 L1273.6 1125.6 L1277.9 1123.0 L1282.1 1120.8 L1286.4 1118.7 L1290.7 1116.5 L1295.0 1114.0 L1299.3 1111.6 L1303.6 1109.3 L1307.9 1107.0 L1312.1 1105.3 L1316.4 1104.1 L1320.7 1103.1 L1325.0 1102.1 L1329.3 1101.1 L1333.6 1100.0 L1337.9 1098.4 L1342.2 1096.2 L1346.4 1093.4 L1350.7 1090.0 L1355.0 1086.1 L1359.3 1081.8 L1363.6 1077.0 L1367.9 1071.8 L1372.2 1066.2 L1376.4 1060.1 L1380.7 1053.8 L1385.0 1047.3 L1389.3 1040.4 L1393.6 1033.4 L1397.9 1026.8 L1402.2 1020.8 L1406.5 1015.0 L1410.7 1009.4 L1415.0 1003.6 L1419.3 997.5 L1423.6 991.3 L1427.9 985.7 L1432.2 981.2 L1436.5 977.4 L1440.7 974.4 L1445.0 972.3 L1449.3 970.7 L1453.6 971.0 L1457.9 972.6 L1462.2 975.9 L1466.5 981.0 L1470.8 988.9 L1475.0 999.3 L1479.3 1011.5 L1483.6 1024.5 L1487.9 1038.9 L1492.2 1054.4 L1496.5 1070.6 L1500.8 1088.2 L1505.0 1108.8 L1509.3 1129.1 L1513.6 1146.5 L1517.9 1162.8 L1522.2 1178.2 L1526.5 1192.6 L1530.8 1206.1 L1535.1 1218.7 L1539.3 1230.0 L1543.6 1240.1 L1547.9 1249.3 L1552.2 1257.5 L1556.5 1264.9 L1560.8 1271.4 L1565.1 1277.3 L1569.3 1282.6 L1573.6 1287.5 L1577.9 1292.0 L1582.2 1296.2 L1586.5 1299.9 L1590.8 1303.0 L1595.1 1305.7 L1599.4 1308.2 L1603.6 1310.3 L1607.9 1312.4 L1612.2 1314.2 L1616.5 1315.8 L1620.8 1317.1 L1625.1 1318.1 L1629.4 1319.0 L1633.6 1319.8 L1637.9 1320.5 L1642.2 1321.0 L1646.5 1321.5 L1650.8 1322.0 L1655.1 1322.4 L1659.4 1322.7 L1663.7 1323.0 L1667.9 1323.3 L1672.2 1323.6 L1676.5 1323.8 L1680.8 1324.0 L1685.1 1324.1 L1689.4 1324.3 L1693.7 1324.4 L1697.9 1324.5 L1702.2 1324.6 L1706.5 1324.7 L1710.8 1324.8 L1715.1 1324.8 L1719.4 1324.9 L1723.7 1324.9 L1728.0 1325.0 L1732.2 1325.0 L1736.5 1325.1 L1740.8 1325.1 L1745.1 1325.1 L1749.4 1325.2 L1753.7 1325.2 L1758.0 1325.2 L1762.2 1325.3 L1766.5 1325.3 L1770.8 1325.3 L1775.1 1325.3 L1779.4 1325.4 L1783.7 1325.4 L1788.0 1325.4 L1792.3 1325.4 L1796.5 1325.5 L1800.8 1325.5 L1805.1 1325.5 L1809.4 1325.5 L1813.7 1325.5 L1818.0 1325.5 L1822.3 1325.5 L1826.5 1325.5 L1830.8 1325.5 L1835.1 1325.5 L1839.4 1325.5 L1843.7 1325.5 L1848.0 1325.5 L1852.3 1325.5 L1856.6 1325.5 L1860.8 1325.5 L1865.1 1325.5 L1869.4 1325.5 L1873.7 1325.5 L1878.0 1325.5 L1882.3 1325.5 L1886.6 1325.5 L1890.8 1325.5 L1895.1 1325.5 L1899.4 1325.5 L1903.7 1325.5 L1908.0 1325.4 L1912.3 1325.4 L1916.6 1325.4 L1920.9 1325.4 L1925.1 1325.4 L1929.4 1325.4 L1933.7 1325.4 L1938.0 1325.3"/>
<path stroke="#F14040" d="M309.1 1144.2 L313.4 1143.3 L317.6 1142.2 L321.9 1141.2 L326.2 1140.2 L330.5 1139.3 L334.8 1138.5 L339.1 1137.7 L343.4 1136.9 L347.6 1135.9 L351.9 1134.8 L356.2 1133.7 L360.5 1132.5 L364.8 1131.2 L369.1 1130.0 L373.4 1128.8 L377.7 1127.7 L381.9 1126.5 L386.2 1125.4 L390.5 1124.3 L394.8 1120.6 L399.1 1122.0 L403.4 1122.3 L407.7 1122.3 L411.9 1122.2 L416.2 1122.1 L420.5 1122.1 L424.8 1122.4 L429.1 1123.1 L433.4 1123.9 L437.7 1124.7 L442.0 1125.7 L446.2 1127.1 L450.5 1128.9 L454.8 1131.0 L459.1 1133.3 L463.4 1136.0 L467.7 1139.2 L472.0 1142.6 L476.2 1146.3 L480.5 1150.2 L484.8 1154.5 L489.1 1158.9 L493.4 1163.6 L497.7 1168.4 L502.0 1173.2 L506.3 1177.9 L510.5 1182.3 L514.8 1186.5 L519.1 1190.4 L523.4 1194.0 L527.7 1197.5 L532.0 1200.7 L536.3 1203.7 L540.5 1206.7 L544.8 1209.8 L549.1 1212.8 L553.4 1215.4 L557.7 1217.4 L562.0 1218.3 L566.3 1219.1 L570.6 1219.6 L574.8 1219.8 L579.1 1219.7 L583.4 1219.4 L587.7 1218.8 L592.0 1217.6 L596.3 1216.0 L600.6 1214.3 L604.8 1212.5 L609.1 1210.3 L613.4 1207.9 L617.7 1205.2 L622.0 1202.3 L626.3 1199.1 L630.6 1195.5 L634.9 1191.5 L639.1 1187.3 L643.4 1182.6 L647.7 1177.3 L652.0 1171.6 L656.3 1165.9 L660.6 1160.4 L664.9 1155.0 L669.1 1149.7 L673.4 1144.4 L677.7 1139.2 L682.0 1133.9 L686.3 1128.7 L690.6 1123.6 L694.9 1118.4 L699.2 1113.2 L703.4 1108.0 L707.7 1102.7 L712.0 1097.4 L716.3 1092.1 L720.6 1086.7 L724.9 1081.3 L729.2 1075.8 L733.4 1070.3 L737.7 1064.7 L742.0 1058.9 L746.3 1052.8 L750.6 1046.5 L754.9 1040.2 L759.2 1033.9 L763.5 1027.7 L767.7 1021.4 L772.0 1015.2 L776.3 1009.0 L780.6 1003.0 L784.9 997.0 L789.2 991.1 L793.5 985.3 L797.7 979.6 L802.0 974.2 L806.3 968.9 L810.6 963.8 L814.9 958.8 L819.2 954.0 L823.5 949.3 L827.8 944.7 L832.0 940.3 L836.3 936.0 L840.6 932.0 L844.9 928.1 L849.2 924.5 L853.5 921.0 L857.8 917.6 L862.0 914.3 L866.3 911.2 L870.6 908.6 L874.9 906.2 L879.2 903.9 L883.5 901.9 L887.8 900.2 L892.1 899.0 L896.3 897.9 L900.6 897.1 L904.9 896.8 L909.2 896.9 L913.5 897.2 L917.8 897.7 L922.1 898.4 L926.3 899.8 L930.6 901.9 L934.9 904.2 L939.2 906.7 L943.5 909.3 L947.8 912.3 L952.1 915.6 L956.4 919.0 L960.6 922.6 L964.9 926.2 L969.2 930.0 L973.5 934.1 L977.8 938.3 L982.1 942.7 L986.4 947.4 L990.6 952.4 L994.9 957.6 L999.2 962.7 L1003.5 967.8 L1007.8 972.8 L1012.1 977.8 L1016.4 983.1 L1020.7 988.8 L1024.9 995.0 L1029.2 1001.6 L1033.5 1008.5 L1037.8 1015.6 L1042.1 1022.6 L1046.4 1029.7 L1050.7 1037.0 L1054.9 1044.3 L1059.2 1051.6 L1063.5 1059.0 L1067.8 1066.8 L1072.1 1074.5 L1076.4 1081.8 L1080.7 1088.5 L1085.0 1094.4 L1089.2 1099.7 L1093.5 1105.0 L1097.8 1111.1 L1102.1 1118.4 L1106.4 1126.9 L1110.7 1135.3 L1115.0 1142.5 L1119.2 1148.6 L1123.5 1154.8 L1127.8 1160.8 L1132.1 1166.5 L1136.4 1171.5 L1140.7 1175.7 L1145.0 1179.4 L1149.3 1182.8 L1153.5 1185.9 L1157.8 1188.7 L1162.1 1191.2 L1166.4 1193.5 L1170.7 1195.4 L1175.0 1197.1 L1179.3 1198.3 L1183.5 1199.2 L1187.8 1199.9 L1192.1 1200.3 L1196.4 1200.3 L1200.7 1199.7 L1205.0 1198.7 L1209.3 1197.4 L1213.6 1195.8 L1217.8 1193.8 L1222.1 1191.4 L1226.4 1188.7 L1230.7 1185.6 L1235.0 1181.9 L1239.3 1178.0 L1243.6 1174.1 L1247.8 1170.0 L1252.1 1165.7 L1256.4 1161.4 L1260.7 1157.0 L1265.0 1152.9 L1269.3 1149.1 L1273.6 1145.9 L1277.9 1143.7 L1282.1 1141.7 L1286.4 1139.9 L1290.7 1138.0 L1295.0 1135.9 L1299.3 1133.9 L1303.6 1131.9 L1307.9 1130.1 L1312.1 1128.7 L1316.4 1127.6 L1320.7 1126.7 L1325.0 1125.8 L1329.3 1124.8 L1333.6 1123.8 L1337.9 1122.2 L1342.2 1120.2 L1346.4 1117.6 L1350.7 1114.5 L1355.0 1110.9 L1359.3 1107.0 L1363.6 1102.8 L1367.9 1098.1 L1372.2 1093.0 L1376.4 1087.5 L1380.7 1081.9 L1385.0 1076.1 L1389.3 1069.9 L1393.6 1063.6 L1397.9 1057.7 L1402.2 1052.2 L1406.5 1047.0 L1410.7 1041.9 L1415.0 1036.6 L1419.3 1031.1 L1423.6 1025.6 L1427.9 1020.6 L1432.2 1016.4 L1436.5 1013.0 L1440.7 1010.3 L1445.0 1008.3 L1449.3 1006.9 L1453.6 1007.1 L1457.9 1008.5 L1462.2 1011.6 L1466.5 1016.3 L1470.8 1023.5 L1475.0 1032.9 L1479.3 1044.0 L1483.6 1055.7 L1487.9 1068.9 L1492.2 1083.1 L1496.5 1097.8 L1500.8 1113.7 L1505.0 1132.1 L1509.3 1150.2 L1513.6 1165.7 L1517.9 1180.3 L1522.2 1194.0 L1526.5 1206.9 L1530.8 1219.0 L1535.1 1230.3 L1539.3 1240.4 L1543.6 1249.4 L1547.9 1257.6 L1552.2 1264.9 L1556.5 1271.5 L1560.8 1277.4 L1565.1 1282.6 L1569.3 1287.4 L1573.6 1291.8 L1577.9 1295.8 L1582.2 1299.5 L1586.5 1302.8 L1590.8 1305.6 L1595.1 1308.1 L1599.4 1310.3 L1603.6 1312.2 L1607.9 1314.0 L1612.2 1315.7 L1616.5 1317.1 L1620.8 1318.2 L1625.1 1319.1 L1629.4 1319.9 L1633.6 1320.6 L1637.9 1321.2 L1642.2 1321.6 L1646.5 1322.1 L1650.8 1322.4 L1655.1 1322.8 L1659.4 1323.1 L1663.7 1323.3 L1667.9 1323.6 L1672.2 1323.8 L1676.5 1324.0 L1680.8 1324.1 L1685.1 1324.3 L1689.4 1324.4 L1693.7 1324.5 L1697.9 1324.6 L1702.2 1324.7 L1706.5 1324.7 L1710.8 1324.8 L1715.1 1324.8 L1719.4 1324.9 L1723.7 1324.9 L1728.0 1325.0 L1732.2 1325.0 L1736.5 1325.0 L1740.8 1325.1 L1745.1 1325.1 L1749.4 1325.1 L1753.7 1325.2 L1758.0 1325.2 L1762.2 1325.2 L1766.5 1325.2 L1770.8 1325.3 L1775.1 1325.3 L1779.4 1325.3 L1783.7 1325.3 L1788.0 1325.4 L1792.3 1325.4 L1796.5 1325.4 L1800.8 1325.4 L1805.1 1325.4 L1809.4 1325.4 L1813.7 1325.4 L1818.0 1325.4 L1822.3 1325.4 L1826.5 1325.4 L1830.8 1325.4 L1835.1 1325.5 L1839.4 1325.5 L1843.7 1325.5 L1848.0 1325.4 L1852.3 1325.4 L1856.6 1325.4 L1860.8 1325.4 L1865.1 1325.4 L1869.4 1325.4 L1873.7 1325.4 L1878.0 1325.4 L1882.3 1325.4 L1886.6 1325.4 L1890.8 1325.4 L1895.1 1325.4 L1899.4 1325.4 L1903.7 1325.3 L1908.0 1325.3 L1912.3 1325.3 L1916.6 1325.3 L1920.9 1325.3 L1925.1 1325.3 L1929.4 1325.2 L1933.7 1325.2 L1938.0 1325.2"/>
<path stroke="#1A6FDF" d="M309.1 1143.7 L313.4 1142.6 L317.6 1141.4 L321.9 1140.2 L326.2 1139.2 L330.5 1138.3 L334.8 1137.5 L339.1 1136.7 L343.4 1135.8 L347.6 1134.9 L351.9 1133.8 L356.2 1132.7 L360.5 1131.5 L364.8 1130.2 L369.1 1129.1 L373.4 1127.9 L377.7 1126.8 L381.9 1125.6 L386.2 1124.5 L390.5 1123.5 L394.8 1119.9 L399.1 1121.2 L403.4 1121.6 L407.7 1121.7 L411.9 1121.6 L416.2 1121.5 L420.5 1121.5 L424.8 1121.9 L429.1 1122.6 L433.4 1123.4 L437.7 1124.3 L442.0 1125.3 L446.2 1126.7 L450.5 1128.5 L454.8 1130.6 L459.1 1133.0 L463.4 1135.7 L467.7 1138.8 L472.0 1142.1 L476.2 1145.7 L480.5 1149.5 L484.8 1153.6 L489.1 1157.9 L493.4 1162.4 L497.7 1167.0 L502.0 1171.6 L506.3 1176.1 L510.5 1180.5 L514.8 1184.5 L519.1 1188.3 L523.4 1191.9 L527.7 1195.3 L532.0 1198.5 L536.3 1201.5 L540.5 1204.5 L544.8 1207.6 L549.1 1210.7 L553.4 1213.4 L557.7 1215.3 L562.0 1216.3 L566.3 1217.0 L570.6 1217.5 L574.8 1217.7 L579.1 1217.6 L583.4 1217.2 L587.7 1216.6 L592.0 1215.4 L596.3 1213.7 L600.6 1212.0 L604.8 1210.0 L609.1 1207.8 L613.4 1205.2 L617.7 1202.5 L622.0 1199.5 L626.3 1196.1 L630.6 1192.3 L634.9 1188.2 L639.1 1183.8 L643.4 1178.9 L647.7 1173.4 L652.0 1167.5 L656.3 1161.5 L660.6 1155.7 L664.9 1150.1 L669.1 1144.5 L673.4 1138.9 L677.7 1133.4 L682.0 1127.9 L686.3 1122.4 L690.6 1116.9 L694.9 1111.5 L699.2 1106.0 L703.4 1100.5 L707.7 1094.9 L712.0 1089.4 L716.3 1083.7 L720.6 1078.0 L724.9 1072.3 L729.2 1066.6 L733.4 1060.9 L737.7 1055.0 L742.0 1048.9 L746.3 1042.5 L750.6 1036.0 L754.9 1029.4 L759.2 1022.8 L763.5 1016.3 L767.7 1009.8 L772.0 1003.3 L776.3 996.8 L780.6 990.5 L784.9 984.3 L789.2 978.1 L793.5 972.0 L797.7 966.1 L802.0 960.5 L806.3 955.0 L810.6 949.6 L814.9 944.4 L819.2 939.4 L823.5 934.5 L827.8 929.8 L832.0 925.2 L836.3 920.8 L840.6 916.5 L844.9 912.5 L849.2 908.8 L853.5 905.2 L857.8 901.6 L862.0 898.2 L866.3 895.0 L870.6 892.3 L874.9 889.8 L879.2 887.4 L883.5 885.3 L887.8 883.6 L892.1 882.4 L896.3 881.3 L900.6 880.4 L904.9 880.1 L909.2 880.3 L913.5 880.6 L917.8 881.2 L922.1 882.0 L926.3 883.5 L930.6 885.6 L934.9 888.2 L939.2 890.8 L943.5 893.6 L947.8 896.7 L952.1 900.2 L956.4 903.8 L960.6 907.5 L964.9 911.4 L969.2 915.4 L973.5 919.6 L977.8 924.1 L982.1 928.7 L986.4 933.7 L990.6 939.0 L994.9 944.4 L999.2 949.8 L1003.5 955.2 L1007.8 960.4 L1012.1 965.8 L1016.4 971.4 L1020.7 977.5 L1024.9 984.0 L1029.2 991.0 L1033.5 998.3 L1037.8 1005.8 L1042.1 1013.2 L1046.4 1020.8 L1050.7 1028.4 L1054.9 1036.2 L1059.2 1044.0 L1063.5 1051.9 L1067.8 1060.2 L1072.1 1068.4 L1076.4 1076.3 L1080.7 1083.5 L1085.0 1089.8 L1089.2 1095.5 L1093.5 1101.3 L1097.8 1107.8 L1102.1 1115.7 L1106.4 1124.7 L1110.7 1133.7 L1115.0 1141.4 L1119.2 1148.0 L1123.5 1154.7 L1127.8 1161.3 L1132.1 1167.5 L1136.4 1172.9 L1140.7 1177.6 L1145.0 1181.7 L1149.3 1185.5 L1153.5 1189.0 L1157.8 1192.2 L1162.1 1195.1 L1166.4 1197.8 L1170.7 1200.2 L1175.0 1202.3 L1179.3 1204.0 L1183.5 1205.3 L1187.8 1206.5 L1192.1 1207.5 L1196.4 1207.9 L1200.7 1207.8 L1205.0 1207.2 L1209.3 1206.4 L1213.6 1205.3 L1217.8 1203.8 L1222.1 1201.8 L1226.4 1199.6 L1230.7 1197.0 L1235.0 1194.0 L1239.3 1190.7 L1243.6 1187.3 L1247.8 1183.8 L1252.1 1180.2 L1256.4 1176.4 L1260.7 1172.7 L1265.0 1169.1 L1269.3 1165.9 L1273.6 1163.1 L1277.9 1161.1 L1282.1 1159.4 L1286.4 1157.7 L1290.7 1155.9 L1295.0 1154.0 L1299.3 1152.0 L1303.6 1150.1 L1307.9 1148.2 L1312.1 1146.8 L1316.4 1145.7 L1320.7 1144.7 L1325.0 1143.7 L1329.3 1142.7 L1333.6 1141.6 L1337.9 1140.1 L1342.2 1138.2 L1346.4 1135.7 L1350.7 1132.8 L1355.0 1129.5 L1359.3 1125.9 L1363.6 1122.0 L1367.9 1117.7 L1372.2 1113.0 L1376.4 1108.1 L1380.7 1103.0 L1385.0 1097.8 L1389.3 1092.2 L1393.6 1086.6 L1397.9 1081.4 L1402.2 1076.6 L1406.5 1072.0 L1410.7 1067.5 L1415.0 1063.0 L1419.3 1058.3 L1423.6 1053.6 L1427.9 1049.5 L1432.2 1046.1 L1436.5 1043.4 L1440.7 1041.5 L1445.0 1040.1 L1449.3 1039.3 L1453.6 1040.1 L1457.9 1041.8 L1462.2 1044.8 L1466.5 1049.2 L1470.8 1055.8 L1475.0 1064.3 L1479.3 1074.2 L1483.6 1084.8 L1487.9 1096.8 L1492.2 1109.7 L1496.5 1123.1 L1500.8 1137.5 L1505.0 1153.8 L1509.3 1169.8 L1513.6 1183.6 L1517.9 1196.6 L1522.2 1208.8 L1526.5 1220.2 L1530.8 1231.0 L1535.1 1241.0 L1539.3 1250.0 L1543.6 1258.1 L1547.9 1265.4 L1552.2 1271.9 L1556.5 1277.7 L1560.8 1282.9 L1565.1 1287.6 L1569.3 1291.9 L1573.6 1295.7 L1577.9 1299.3 L1582.2 1302.6 L1586.5 1305.5 L1590.8 1308.0 L1595.1 1310.2 L1599.4 1312.2 L1603.6 1313.9 L1607.9 1315.5 L1612.2 1317.0 L1616.5 1318.3 L1620.8 1319.3 L1625.1 1320.0 L1629.4 1320.7 L1633.6 1321.3 L1637.9 1321.8 L1642.2 1322.2 L1646.5 1322.6 L1650.8 1322.9 L1655.1 1323.2 L1659.4 1323.4 L1663.7 1323.6 L1667.9 1323.8 L1672.2 1324.0 L1676.5 1324.1 L1680.8 1324.3 L1685.1 1324.4 L1689.4 1324.5 L1693.7 1324.6 L1697.9 1324.7 L1702.2 1324.7 L1706.5 1324.8 L1710.8 1324.8 L1715.1 1324.9 L1719.4 1324.9 L1723.7 1324.9 L1728.0 1325.0 L1732.2 1325.0 L1736.5 1325.0 L1740.8 1325.1 L1745.1 1325.1 L1749.4 1325.1 L1753.7 1325.1 L1758.0 1325.2 L1762.2 1325.2 L1766.5 1325.2 L1770.8 1325.2 L1775.1 1325.2 L1779.4 1325.3 L1783.7 1325.3 L1788.0 1325.3 L1792.3 1325.3 L1796.5 1325.3 L1800.8 1325.3 L1805.1 1325.3 L1809.4 1325.4 L1813.7 1325.4 L1818.0 1325.4 L1822.3 1325.4 L1826.5 1325.4 L1830.8 1325.4 L1835.1 1325.4 L1839.4 1325.4 L1843.7 1325.4 L1848.0 1325.4 L1852.3 1325.4 L1856.6 1325.4 L1860.8 1325.3 L1865.1 1325.3 L1869.4 1325.3 L1873.7 1325.3 L1878.0 1325.3 L1882.3 1325.3 L1886.6 1325.3 L1890.8 1325.3 L1895.1 1325.3 L1899.4 1325.2 L1903.7 1325.2 L1908.0 1325.2 L1912.3 1325.2 L1916.6 1325.2 L1920.9 1325.2 L1925.1 1325.1 L1929.4 1325.1 L1933.7 1325.1 L1938.0 1325.1"/>
<path stroke="#37AD6B" d="M309.1 1143.3 L313.4 1142.1 L317.6 1140.7 L321.9 1139.5 L326.2 1138.5 L330.5 1137.5 L334.8 1136.7 L339.1 1135.9 L343.4 1135.0 L347.6 1134.1 L351.9 1133.0 L356.2 1131.9 L360.5 1130.7 L364.8 1129.5 L369.1 1128.3 L373.4 1127.2 L377.7 1126.1 L381.9 1125.0 L386.2 1123.9 L390.5 1122.9 L394.8 1119.3 L399.1 1120.7 L403.4 1121.0 L407.7 1121.1 L411.9 1121.1 L416.2 1121.1 L420.5 1121.1 L424.8 1121.5 L429.1 1122.2 L433.4 1123.0 L437.7 1123.9 L442.0 1125.0 L446.2 1126.4 L450.5 1128.2 L454.8 1130.3 L459.1 1132.7 L463.4 1135.4 L467.7 1138.4 L472.0 1141.7 L476.2 1145.1 L480.5 1148.9 L484.8 1152.9 L489.1 1157.0 L493.4 1161.2 L497.7 1165.7 L502.0 1170.2 L506.3 1174.6 L510.5 1178.8 L514.8 1182.7 L519.1 1186.4 L523.4 1190.0 L527.7 1193.3 L532.0 1196.5 L536.3 1199.5 L540.5 1202.5 L544.8 1205.7 L549.1 1208.8 L553.4 1211.5 L557.7 1213.4 L562.0 1214.4 L566.3 1215.1 L570.6 1215.6 L574.8 1215.8 L579.1 1215.6 L583.4 1215.3 L587.7 1214.7 L592.0 1213.4 L596.3 1211.6 L600.6 1209.8 L604.8 1207.8 L609.1 1205.4 L613.4 1202.8 L617.7 1199.9 L622.0 1196.8 L626.3 1193.3 L630.6 1189.4 L634.9 1185.2 L639.1 1180.6 L643.4 1175.6 L647.7 1169.8 L652.0 1163.6 L656.3 1157.4 L660.6 1151.3 L664.9 1145.5 L669.1 1139.7 L673.4 1133.8 L677.7 1128.1 L682.0 1122.3 L686.3 1116.5 L690.6 1110.8 L694.9 1105.1 L699.2 1099.3 L703.4 1093.5 L707.7 1087.7 L712.0 1081.9 L716.3 1076.0 L720.6 1070.0 L724.9 1064.1 L729.2 1058.1 L733.4 1052.1 L737.7 1046.0 L742.0 1039.6 L746.3 1033.0 L750.6 1026.2 L754.9 1019.3 L759.2 1012.5 L763.5 1005.7 L767.7 998.9 L772.0 992.2 L776.3 985.5 L780.6 978.9 L784.9 972.5 L789.2 966.1 L793.5 959.8 L797.7 953.7 L802.0 947.8 L806.3 942.1 L810.6 936.5 L814.9 931.1 L819.2 925.9 L823.5 920.9 L827.8 916.0 L832.0 911.2 L836.3 906.6 L840.6 902.2 L844.9 898.1 L849.2 894.2 L853.5 890.5 L857.8 886.8 L862.0 883.2 L866.3 880.0 L870.6 877.2 L874.9 874.6 L879.2 872.1 L883.5 870.0 L887.8 868.2 L892.1 867.0 L896.3 865.9 L900.6 865.0 L904.9 864.7 L909.2 864.9 L913.5 865.3 L917.8 865.9 L922.1 866.7 L926.3 868.4 L930.6 870.6 L934.9 873.3 L939.2 876.1 L943.5 879.0 L947.8 882.3 L952.1 885.9 L956.4 889.7 L960.6 893.6 L964.9 897.6 L969.2 901.8 L973.5 906.3 L977.8 910.9 L982.1 915.8 L986.4 921.0 L990.6 926.5 L994.9 932.2 L999.2 937.9 L1003.5 943.5 L1007.8 949.1 L1012.1 954.7 L1016.4 960.6 L1020.7 967.0 L1024.9 973.9 L1029.2 981.2 L1033.5 988.9 L1037.8 996.7 L1042.1 1004.5 L1046.4 1012.5 L1050.7 1020.6 L1054.9 1028.7 L1059.2 1037.0 L1063.5 1045.3 L1067.8 1054.1 L1072.1 1062.8 L1076.4 1071.2 L1080.7 1078.8 L1085.0 1085.5 L1089.2 1091.6 L1093.5 1097.8 L1097.8 1104.7 L1102.1 1113.1 L1106.4 1122.7 L1110.7 1132.2 L1115.0 1140.4 L1119.2 1147.5 L1123.5 1154.6 L1127.8 1161.7 L1132.1 1168.4 L1136.4 1174.3 L1140.7 1179.4 L1145.0 1183.9 L1149.3 1188.1 L1153.5 1191.9 L1157.8 1195.5 L1162.1 1198.8 L1166.4 1201.9 L1170.7 1204.8 L1175.0 1207.3 L1179.3 1209.5 L1183.5 1211.3 L1187.8 1212.9 L1192.1 1214.3 L1196.4 1215.2 L1200.7 1215.5 L1205.0 1215.4 L1209.3 1215.0 L1213.6 1214.4 L1217.8 1213.3 L1222.1 1211.8 L1226.4 1210.1 L1230.7 1208.0 L1235.0 1205.5 L1239.3 1202.8 L1243.6 1200.1 L1247.8 1197.1 L1252.1 1194.0 L1256.4 1190.9 L1260.7 1187.7 L1265.0 1184.7 L1269.3 1181.9 L1273.6 1179.5 L1277.9 1177.8 L1282.1 1176.3 L1286.4 1174.8 L1290.7 1173.3 L1295.0 1171.5 L1299.3 1169.8 L1303.6 1168.2 L1307.9 1166.5 L1312.1 1165.2 L1316.4 1164.1 L1320.7 1163.2 L1325.0 1162.2 L1329.3 1161.2 L1333.6 1160.1 L1337.9 1158.7 L1342.2 1156.8 L1346.4 1154.6 L1350.7 1151.9 L1355.0 1148.8 L1359.3 1145.5 L1363.6 1142.0 L1367.9 1138.1 L1372.2 1133.9 L1376.4 1129.4 L1380.7 1124.9 L1385.0 1120.2 L1389.3 1115.3 L1393.6 1110.3 L1397.9 1105.6 L1402.2 1101.3 L1406.5 1097.2 L1410.7 1093.2 L1415.0 1089.2 L1419.3 1085.1 L1423.6 1081.1 L1427.9 1077.5 L1432.2 1074.6 L1436.5 1072.4 L1440.7 1070.8 L1445.0 1069.8 L1449.3 1069.2 L1453.6 1070.1 L1457.9 1071.8 L1462.2 1074.7 L1466.5 1078.8 L1470.8 1084.8 L1475.0 1092.5 L1479.3 1101.4 L1483.6 1111.0 L1487.9 1121.9 L1492.2 1133.7 L1496.5 1145.9 L1500.8 1158.9 L1505.0 1173.3 L1509.3 1187.4 L1513.6 1199.7 L1517.9 1211.2 L1522.2 1222.0 L1526.5 1232.2 L1530.8 1241.8 L1535.1 1250.7 L1539.3 1258.7 L1543.6 1265.9 L1547.9 1272.3 L1552.2 1278.1 L1556.5 1283.3 L1560.8 1287.9 L1565.1 1292.1 L1569.3 1295.9 L1573.6 1299.3 L1577.9 1302.5 L1582.2 1305.4 L1586.5 1308.0 L1590.8 1310.2 L1595.1 1312.2 L1599.4 1313.9 L1603.6 1315.5 L1607.9 1316.9 L1612.2 1318.2 L1616.5 1319.4 L1620.8 1320.2 L1625.1 1320.9 L1629.4 1321.5 L1633.6 1322.0 L1637.9 1322.4 L1642.2 1322.7 L1646.5 1323.0 L1650.8 1323.3 L1655.1 1323.5 L1659.4 1323.7 L1663.7 1323.9 L1667.9 1324.0 L1672.2 1324.2 L1676.5 1324.3 L1680.8 1324.4 L1685.1 1324.5 L1689.4 1324.6 L1693.7 1324.7 L1697.9 1324.7 L1702.2 1324.8 L1706.5 1324.8 L1710.8 1324.9 L1715.1 1324.9 L1719.4 1324.9 L1723.7 1325.0 L1728.0 1325.0 L1732.2 1325.0 L1736.5 1325.0 L1740.8 1325.1 L1745.1 1325.1 L1749.4 1325.1 L1753.7 1325.1 L1758.0 1325.1 L1762.2 1325.1 L1766.5 1325.2 L1770.8 1325.2 L1775.1 1325.2 L1779.4 1325.2 L1783.7 1325.2 L1788.0 1325.2 L1792.3 1325.3 L1796.5 1325.3 L1800.8 1325.3 L1805.1 1325.3 L1809.4 1325.3 L1813.7 1325.3 L1818.0 1325.3 L1822.3 1325.3 L1826.5 1325.3 L1830.8 1325.3 L1835.1 1325.3 L1839.4 1325.3 L1843.7 1325.3 L1848.0 1325.3 L1852.3 1325.3 L1856.6 1325.3 L1860.8 1325.3 L1865.1 1325.3 L1869.4 1325.2 L1873.7 1325.2 L1878.0 1325.2 L1882.3 1325.2 L1886.6 1325.2 L1890.8 1325.2 L1895.1 1325.2 L1899.4 1325.1 L1903.7 1325.1 L1908.0 1325.1 L1912.3 1325.1 L1916.6 1325.1 L1920.9 1325.1 L1925.1 1325.0 L1929.4 1325.0 L1933.7 1325.0 L1938.0 1325.0"/>
<path stroke="#B177DE" d="M309.1 1142.9 L313.4 1141.5 L317.6 1140.1 L321.9 1138.9 L326.2 1137.7 L330.5 1136.8 L334.8 1135.9 L339.1 1135.1 L343.4 1134.2 L347.6 1133.3 L351.9 1132.2 L356.2 1131.1 L360.5 1129.9 L364.8 1128.8 L369.1 1127.6 L373.4 1126.5 L377.7 1125.4 L381.9 1124.4 L386.2 1123.3 L390.5 1122.3 L394.8 1118.7 L399.1 1120.2 L403.4 1120.5 L407.7 1120.6 L411.9 1120.6 L416.2 1120.6 L420.5 1120.7 L424.8 1121.1 L429.1 1121.8 L433.4 1122.7 L437.7 1123.7 L442.0 1124.8 L446.2 1126.2 L450.5 1128.0 L454.8 1130.2 L459.1 1132.5 L463.4 1135.2 L467.7 1138.2 L472.0 1141.4 L476.2 1144.8 L480.5 1148.4 L484.8 1152.4 L489.1 1156.4 L493.4 1160.5 L497.7 1164.9 L502.0 1169.3 L506.3 1173.6 L510.5 1177.7 L514.8 1181.6 L519.1 1185.2 L523.4 1188.7 L527.7 1192.0 L532.0 1195.2 L536.3 1198.2 L540.5 1201.2 L544.8 1204.4 L549.1 1207.5 L553.4 1210.2 L557.7 1212.2 L562.0 1213.2 L566.3 1213.9 L570.6 1214.4 L574.8 1214.6 L579.1 1214.4 L583.4 1214.0 L587.7 1213.4 L592.0 1212.0 L596.3 1210.3 L600.6 1208.4 L604.8 1206.3 L609.1 1203.9 L613.4 1201.2 L617.7 1198.3 L622.0 1195.1 L626.3 1191.5 L630.6 1187.6 L634.9 1183.2 L639.1 1178.6 L643.4 1173.4 L647.7 1167.5 L652.0 1161.1 L656.3 1154.7 L660.6 1148.5 L664.9 1142.5 L669.1 1136.5 L673.4 1130.6 L677.7 1124.6 L682.0 1118.7 L686.3 1112.7 L690.6 1106.8 L694.9 1100.9 L699.2 1095.0 L703.4 1089.0 L707.7 1083.0 L712.0 1077.0 L716.3 1071.0 L720.6 1064.9 L724.9 1058.8 L729.2 1052.7 L733.4 1046.5 L737.7 1040.2 L742.0 1033.7 L746.3 1026.9 L750.6 1019.9 L754.9 1012.9 L759.2 1005.9 L763.5 999.0 L767.7 992.0 L772.0 985.1 L776.3 978.2 L780.6 971.5 L784.9 964.9 L789.2 958.3 L793.5 951.9 L797.7 945.6 L802.0 939.6 L806.3 933.8 L810.6 928.1 L814.9 922.6 L819.2 917.3 L823.5 912.1 L827.8 907.1 L832.0 902.2 L836.3 897.5 L840.6 893.0 L844.9 888.8 L849.2 884.9 L853.5 881.0 L857.8 877.3 L862.0 873.6 L866.3 870.3 L870.6 867.4 L874.9 864.8 L879.2 862.3 L883.5 860.1 L887.8 858.4 L892.1 857.1 L896.3 856.0 L900.6 855.1 L904.9 854.8 L909.2 855.0 L913.5 855.5 L917.8 856.1 L922.1 857.0 L926.3 858.6 L930.6 861.0 L934.9 863.7 L939.2 866.6 L943.5 869.6 L947.8 873.0 L952.1 876.7 L956.4 880.6 L960.6 884.6 L964.9 888.8 L969.2 893.1 L973.5 897.7 L977.8 902.5 L982.1 907.5 L986.4 912.9 L990.6 918.5 L994.9 924.3 L999.2 930.2 L1003.5 936.0 L1007.8 941.7 L1012.1 947.6 L1016.4 953.7 L1020.7 960.2 L1024.9 967.3 L1029.2 974.9 L1033.5 982.8 L1037.8 990.9 L1042.1 998.9 L1046.4 1007.1 L1050.7 1015.5 L1054.9 1023.9 L1059.2 1032.4 L1063.5 1041.1 L1067.8 1050.1 L1072.1 1059.2 L1076.4 1067.9 L1080.7 1075.8 L1085.0 1082.8 L1089.2 1089.2 L1093.5 1095.6 L1097.8 1102.8 L1102.1 1111.5 L1106.4 1121.4 L1110.7 1131.2 L1115.0 1139.7 L1119.2 1147.1 L1123.5 1154.5 L1127.8 1161.9 L1132.1 1168.9 L1136.4 1175.1 L1140.7 1180.5 L1145.0 1185.3 L1149.3 1189.7 L1153.5 1193.8 L1157.8 1197.7 L1162.1 1201.3 L1166.4 1204.6 L1170.7 1207.8 L1175.0 1210.6 L1179.3 1213.0 L1183.5 1215.1 L1187.8 1217.0 L1192.1 1218.7 L1196.4 1220.0 L1200.7 1220.6 L1205.0 1220.7 L1209.3 1220.7 L1213.6 1220.3 L1217.8 1219.5 L1222.1 1218.3 L1226.4 1216.9 L1230.7 1215.1 L1235.0 1213.0 L1239.3 1210.7 L1243.6 1208.3 L1247.8 1205.7 L1252.1 1203.0 L1256.4 1200.2 L1260.7 1197.4 L1265.0 1194.8 L1269.3 1192.3 L1273.6 1190.2 L1277.9 1188.7 L1282.1 1187.3 L1286.4 1185.9 L1290.7 1184.5 L1295.0 1183.0 L1299.3 1181.5 L1303.6 1180.1 L1307.9 1178.7 L1312.1 1177.5 L1316.4 1176.5 L1320.7 1175.6 L1325.0 1174.7 L1329.3 1173.7 L1333.6 1172.6 L1337.9 1171.2 L1342.2 1169.5 L1346.4 1167.3 L1350.7 1164.8 L1355.0 1161.9 L1359.3 1158.8 L1363.6 1155.5 L1367.9 1151.9 L1372.2 1148.0 L1376.4 1143.9 L1380.7 1139.7 L1385.0 1135.3 L1389.3 1130.8 L1393.6 1126.2 L1397.9 1121.9 L1402.2 1117.9 L1406.5 1114.0 L1410.7 1110.3 L1415.0 1106.5 L1419.3 1102.7 L1423.6 1099.1 L1427.9 1095.8 L1432.2 1093.1 L1436.5 1091.1 L1440.7 1089.6 L1445.0 1088.7 L1449.3 1088.2 L1453.6 1089.0 L1457.9 1090.7 L1462.2 1093.4 L1466.5 1097.3 L1470.8 1103.0 L1475.0 1110.1 L1479.3 1118.4 L1483.6 1127.4 L1487.9 1137.7 L1492.2 1148.7 L1496.5 1160.2 L1500.8 1172.2 L1505.0 1185.6 L1509.3 1198.5 L1513.6 1209.8 L1517.9 1220.4 L1522.2 1230.3 L1526.5 1239.7 L1530.8 1248.6 L1535.1 1256.8 L1539.3 1264.2 L1543.6 1270.8 L1547.9 1276.7 L1552.2 1282.0 L1556.5 1286.8 L1560.8 1291.1 L1565.1 1294.9 L1569.3 1298.4 L1573.6 1301.6 L1577.9 1304.5 L1582.2 1307.2 L1586.5 1309.5 L1590.8 1311.6 L1595.1 1313.4 L1599.4 1315.0 L1603.6 1316.4 L1607.9 1317.8 L1612.2 1319.0 L1616.5 1320.0 L1620.8 1320.8 L1625.1 1321.4 L1629.4 1321.9 L1633.6 1322.4 L1637.9 1322.8 L1642.2 1323.0 L1646.5 1323.3 L1650.8 1323.5 L1655.1 1323.7 L1659.4 1323.9 L1663.7 1324.0 L1667.9 1324.2 L1672.2 1324.3 L1676.5 1324.4 L1680.8 1324.5 L1685.1 1324.6 L1689.4 1324.6 L1693.7 1324.7 L1697.9 1324.8 L1702.2 1324.8 L1706.5 1324.8 L1710.8 1324.9 L1715.1 1324.9 L1719.4 1324.9 L1723.7 1325.0 L1728.0 1325.0 L1732.2 1325.0 L1736.5 1325.0 L1740.8 1325.0 L1745.1 1325.1 L1749.4 1325.1 L1753.7 1325.1 L1758.0 1325.1 L1762.2 1325.1 L1766.5 1325.1 L1770.8 1325.2 L1775.1 1325.2 L1779.4 1325.2 L1783.7 1325.2 L1788.0 1325.2 L1792.3 1325.2 L1796.5 1325.2 L1800.8 1325.2 L1805.1 1325.2 L1809.4 1325.2 L1813.7 1325.3 L1818.0 1325.3 L1822.3 1325.3 L1826.5 1325.3 L1830.8 1325.2 L1835.1 1325.2 L1839.4 1325.2 L1843.7 1325.2 L1848.0 1325.2 L1852.3 1325.2 L1856.6 1325.2 L1860.8 1325.2 L1865.1 1325.2 L1869.4 1325.2 L1873.7 1325.2 L1878.0 1325.2 L1882.3 1325.1 L1886.6 1325.1 L1890.8 1325.1 L1895.1 1325.1 L1899.4 1325.1 L1903.7 1325.1 L1908.0 1325.1 L1912.3 1325.0 L1916.6 1325.0 L1920.9 1325.0 L1925.1 1325.0 L1929.4 1325.0 L1933.7 1324.9 L1938.0 1324.9"/>
<path stroke="#CC9900" d="M309.1 1142.6 L313.4 1141.0 L317.6 1139.5 L321.9 1138.2 L326.2 1137.0 L330.5 1136.0 L334.8 1135.2 L339.1 1134.3 L343.4 1133.5 L347.6 1132.5 L351.9 1131.5 L356.2 1130.3 L360.5 1129.2 L364.8 1128.0 L369.1 1126.9 L373.4 1125.8 L377.7 1124.7 L381.9 1123.7 L386.2 1122.7 L390.5 1121.7 L394.8 1118.2 L399.1 1119.6 L403.4 1120.0 L407.7 1120.1 L411.9 1120.1 L416.2 1120.1 L420.5 1120.3 L424.8 1120.7 L429.1 1121.4 L433.4 1122.4 L437.7 1123.4 L442.0 1124.5 L446.2 1125.9 L450.5 1127.8 L454.8 1130.0 L459.1 1132.4 L463.4 1135.0 L467.7 1137.9 L472.0 1141.1 L476.2 1144.4 L480.5 1148.0 L484.8 1151.8 L489.1 1155.8 L493.4 1159.8 L497.7 1164.0 L502.0 1168.3 L506.3 1172.5 L510.5 1176.5 L514.8 1180.3 L519.1 1183.9 L523.4 1187.4 L527.7 1190.7 L532.0 1193.8 L536.3 1196.8 L540.5 1199.8 L544.8 1203.0 L549.1 1206.2 L553.4 1209.0 L557.7 1210.9 L562.0 1211.9 L566.3 1212.6 L570.6 1213.1 L574.8 1213.3 L579.1 1213.1 L583.4 1212.7 L587.7 1212.0 L592.0 1210.7 L596.3 1208.9 L600.6 1206.9 L604.8 1204.8 L609.1 1202.4 L613.4 1199.6 L617.7 1196.6 L622.0 1193.3 L626.3 1189.7 L630.6 1185.6 L634.9 1181.2 L639.1 1176.4 L643.4 1171.1 L647.7 1165.0 L652.0 1158.5 L656.3 1152.0 L660.6 1145.6 L664.9 1139.4 L669.1 1133.3 L673.4 1127.1 L677.7 1121.0 L682.0 1114.9 L686.3 1108.8 L690.6 1102.7 L694.9 1096.6 L699.2 1090.5 L703.4 1084.3 L707.7 1078.1 L712.0 1072.0 L716.3 1065.7 L720.6 1059.4 L724.9 1053.2 L729.2 1046.9 L733.4 1040.6 L737.7 1034.1 L742.0 1027.4 L746.3 1020.5 L750.6 1013.3 L754.9 1006.1 L759.2 998.9 L763.5 991.8 L767.7 984.7 L772.0 977.6 L776.3 970.6 L780.6 963.7 L784.9 956.9 L789.2 950.2 L793.5 943.6 L797.7 937.2 L802.0 931.0 L806.3 925.0 L810.6 919.2 L814.9 913.6 L819.2 908.2 L823.5 902.9 L827.8 897.7 L832.0 892.7 L836.3 887.9 L840.6 883.4 L844.9 879.0 L849.2 875.0 L853.5 871.1 L857.8 867.2 L862.0 863.5 L866.3 860.1 L870.6 857.2 L874.9 854.5 L879.2 852.0 L883.5 849.8 L887.8 848.0 L892.1 846.7 L896.3 845.5 L900.6 844.7 L904.9 844.4 L909.2 844.6 L913.5 844.9 L917.8 845.4 L922.1 846.0 L926.3 847.4 L930.6 849.5 L934.9 852.0 L939.2 854.6 L943.5 857.3 L947.8 860.5 L952.1 864.0 L956.4 867.8 L960.6 871.6 L964.9 875.5 L969.2 879.7 L973.5 884.1 L977.8 888.7 L982.1 893.6 L986.4 898.9 L990.6 904.6 L994.9 910.4 L999.2 916.4 L1003.5 922.4 L1007.8 928.4 L1012.1 934.5 L1016.4 941.0 L1020.7 947.9 L1024.9 955.4 L1029.2 963.4 L1033.5 971.7 L1037.8 980.2 L1042.1 988.7 L1046.4 997.3 L1050.7 1006.1 L1054.9 1015.1 L1059.2 1024.1 L1063.5 1033.3 L1067.8 1042.9 L1072.1 1052.6 L1076.4 1061.8 L1080.7 1070.4 L1085.0 1077.9 L1089.2 1084.8 L1093.5 1091.8 L1097.8 1099.5 L1102.1 1108.7 L1106.4 1119.3 L1110.7 1129.7 L1115.0 1138.8 L1119.2 1146.7 L1123.5 1154.5 L1127.8 1162.2 L1132.1 1169.6 L1136.4 1176.1 L1140.7 1181.8 L1145.0 1186.9 L1149.3 1191.6 L1153.5 1196.0 L1157.8 1200.1 L1162.1 1204.0 L1166.4 1207.7 L1170.7 1211.1 L1175.0 1214.3 L1179.3 1217.0 L1183.5 1219.4 L1187.8 1221.7 L1192.1 1223.7 L1196.4 1225.3 L1200.7 1226.2 L1205.0 1226.7 L1209.3 1227.0 L1213.6 1226.9 L1217.8 1226.5 L1222.1 1225.6 L1226.4 1224.5 L1230.7 1223.1 L1235.0 1221.4 L1239.3 1219.5 L1243.6 1217.6 L1247.8 1215.4 L1252.1 1213.1 L1256.4 1210.7 L1260.7 1208.3 L1265.0 1206.1 L1269.3 1204.0 L1273.6 1202.2 L1277.9 1200.8 L1282.1 1199.6 L1286.4 1198.4 L1290.7 1197.1 L1295.0 1195.7 L1299.3 1194.2 L1303.6 1192.8 L1307.9 1191.3 L1312.1 1190.2 L1316.4 1189.2 L1320.7 1188.2 L1325.0 1187.2 L1329.3 1186.2 L1333.6 1185.1 L1337.9 1183.7 L1342.2 1182.0 L1346.4 1180.0 L1350.7 1177.6 L1355.0 1174.9 L1359.3 1172.0 L1363.6 1169.0 L1367.9 1165.6 L1372.2 1162.0 L1376.4 1158.2 L1380.7 1154.4 L1385.0 1150.5 L1389.3 1146.4 L1393.6 1142.3 L1397.9 1138.4 L1402.2 1134.9 L1406.5 1131.5 L1410.7 1128.2 L1415.0 1124.9 L1419.3 1121.7 L1423.6 1118.7 L1427.9 1116.0 L1432.2 1113.9 L1436.5 1112.3 L1440.7 1111.4 L1445.0 1110.9 L1449.3 1110.9 L1453.6 1112.0 L1457.9 1113.9 L1462.2 1116.6 L1466.5 1120.3 L1470.8 1125.5 L1475.0 1132.0 L1479.3 1139.5 L1483.6 1147.7 L1487.9 1157.2 L1492.2 1167.4 L1496.5 1177.9 L1500.8 1188.9 L1505.0 1200.7 L1509.3 1212.2 L1513.6 1222.3 L1517.9 1231.8 L1522.2 1240.6 L1526.5 1249.0 L1530.8 1256.9 L1535.1 1264.3 L1539.3 1270.9 L1543.6 1276.8 L1547.9 1282.1 L1552.2 1286.9 L1556.5 1291.2 L1560.8 1295.0 L1565.1 1298.4 L1569.3 1301.5 L1573.6 1304.3 L1577.9 1307.0 L1582.2 1309.3 L1586.5 1311.5 L1590.8 1313.3 L1595.1 1314.9 L1599.4 1316.4 L1603.6 1317.7 L1607.9 1318.9 L1612.2 1320.0 L1616.5 1320.9 L1620.8 1321.6 L1625.1 1322.1 L1629.4 1322.5 L1633.6 1322.9 L1637.9 1323.2 L1642.2 1323.4 L1646.5 1323.6 L1650.8 1323.8 L1655.1 1324.0 L1659.4 1324.1 L1663.7 1324.2 L1667.9 1324.3 L1672.2 1324.4 L1676.5 1324.5 L1680.8 1324.6 L1685.1 1324.7 L1689.4 1324.7 L1693.7 1324.8 L1697.9 1324.8 L1702.2 1324.8 L1706.5 1324.9 L1710.8 1324.9 L1715.1 1324.9 L1719.4 1324.9 L1723.7 1325.0 L1728.0 1325.0 L1732.2 1325.0 L1736.5 1325.0 L1740.8 1325.0 L1745.1 1325.0 L1749.4 1325.1 L1753.7 1325.1 L1758.0 1325.1 L1762.2 1325.1 L1766.5 1325.1 L1770.8 1325.1 L1775.1 1325.1 L1779.4 1325.1 L1783.7 1325.2 L1788.0 1325.2 L1792.3 1325.2 L1796.5 1325.2 L1800.8 1325.2 L1805.1 1325.2 L1809.4 1325.2 L1813.7 1325.2 L1818.0 1325.2 L1822.3 1325.2 L1826.5 1325.2 L1830.8 1325.2 L1835.1 1325.2 L1839.4 1325.2 L1843.7 1325.2 L1848.0 1325.2 L1852.3 1325.2 L1856.6 1325.2 L1860.8 1325.1 L1865.1 1325.1 L1869.4 1325.1 L1873.7 1325.1 L1878.0 1325.1 L1882.3 1325.1 L1886.6 1325.1 L1890.8 1325.0 L1895.1 1325.0 L1899.4 1325.0 L1903.7 1325.0 L1908.0 1325.0 L1912.3 1325.0 L1916.6 1324.9 L1920.9 1324.9 L1925.1 1324.9 L1929.4 1324.9 L1933.7 1324.9 L1938.0 1324.8"/>
<path stroke="#00CBCC" d="M309.1 1142.2 L313.4 1140.5 L317.6 1138.9 L321.9 1137.5 L326.2 1136.3 L330.5 1135.3 L334.8 1134.4 L339.1 1133.6 L343.4 1132.7 L347.6 1131.7 L351.9 1130.7 L356.2 1129.6 L360.5 1128.4 L364.8 1127.3 L369.1 1126.2 L373.4 1125.1 L377.7 1124.1 L381.9 1123.1 L386.2 1122.1 L390.5 1121.2 L394.8 1117.6 L399.1 1119.1 L403.4 1119.5 L407.7 1119.6 L411.9 1119.6 L416.2 1119.7 L420.5 1119.9 L424.8 1120.3 L429.1 1121.1 L433.4 1122.1 L437.7 1123.1 L442.0 1124.3 L446.2 1125.7 L450.5 1127.6 L454.8 1129.8 L459.1 1132.2 L463.4 1134.9 L467.7 1137.7 L472.0 1140.8 L476.2 1144.1 L480.5 1147.6 L484.8 1151.4 L489.1 1155.2 L493.4 1159.1 L497.7 1163.3 L502.0 1167.4 L506.3 1171.6 L510.5 1175.5 L514.8 1179.3 L519.1 1182.8 L523.4 1186.2 L527.7 1189.5 L532.0 1192.6 L536.3 1195.6 L540.5 1198.6 L544.8 1201.9 L549.1 1205.1 L553.4 1207.8 L557.7 1209.8 L562.0 1210.8 L566.3 1211.5 L570.6 1212.0 L574.8 1212.1 L579.1 1212.0 L583.4 1211.5 L587.7 1210.9 L592.0 1209.5 L596.3 1207.6 L600.6 1205.7 L604.8 1203.5 L609.1 1201.0 L613.4 1198.2 L617.7 1195.1 L622.0 1191.8 L626.3 1188.1 L630.6 1183.9 L634.9 1179.4 L639.1 1174.6 L643.4 1169.1 L647.7 1162.9 L652.0 1156.3 L656.3 1149.6 L660.6 1143.1 L664.9 1136.8 L669.1 1130.4 L673.4 1124.2 L677.7 1117.9 L682.0 1111.6 L686.3 1105.3 L690.6 1099.1 L694.9 1092.8 L699.2 1086.6 L703.4 1080.2 L707.7 1073.9 L712.0 1067.6 L716.3 1061.2 L720.6 1054.8 L724.9 1048.4 L729.2 1041.9 L733.4 1035.4 L737.7 1028.8 L742.0 1022.0 L746.3 1014.9 L750.6 1007.6 L754.9 1000.2 L759.2 992.9 L763.5 985.6 L767.7 978.4 L772.0 971.1 L776.3 964.0 L780.6 956.9 L784.9 950.0 L789.2 943.1 L793.5 936.4 L797.7 929.9 L802.0 923.6 L806.3 917.5 L810.6 911.6 L814.9 905.9 L819.2 900.3 L823.5 894.9 L827.8 889.7 L832.0 884.6 L836.3 879.7 L840.6 875.0 L844.9 870.6 L849.2 866.5 L853.5 862.5 L857.8 858.6 L862.0 854.8 L866.3 851.4 L870.6 848.4 L874.9 845.7 L879.2 843.1 L883.5 840.8 L887.8 839.0 L892.1 837.7 L896.3 836.5 L900.6 835.7 L904.9 835.4 L909.2 835.6 L913.5 836.2 L917.8 836.9 L922.1 837.8 L926.3 839.6 L930.6 842.1 L934.9 845.0 L939.2 848.0 L943.5 851.2 L947.8 854.7 L952.1 858.7 L956.4 862.8 L960.6 867.0 L964.9 871.4 L969.2 876.0 L973.5 880.9 L977.8 885.9 L982.1 891.2 L986.4 896.9 L990.6 902.9 L994.9 909.0 L999.2 915.2 L1003.5 921.3 L1007.8 927.4 L1012.1 933.6 L1016.4 940.1 L1020.7 947.0 L1024.9 954.6 L1029.2 962.6 L1033.5 971.0 L1037.8 979.5 L1042.1 988.0 L1046.4 996.7 L1050.7 1005.5 L1054.9 1014.5 L1059.2 1023.5 L1063.5 1032.8 L1067.8 1042.5 L1072.1 1052.1 L1076.4 1061.4 L1080.7 1069.9 L1085.0 1077.4 L1089.2 1084.3 L1093.5 1091.2 L1097.8 1099.0 L1102.1 1108.2 L1106.4 1118.8 L1110.7 1129.4 L1115.0 1138.5 L1119.2 1146.4 L1123.5 1154.4 L1127.8 1162.5 L1132.1 1170.2 L1136.4 1177.1 L1140.7 1183.1 L1145.0 1188.4 L1149.3 1193.4 L1153.5 1198.0 L1157.8 1202.4 L1162.1 1206.5 L1166.4 1210.5 L1170.7 1214.3 L1175.0 1217.7 L1179.3 1220.8 L1183.5 1223.5 L1187.8 1226.1 L1192.1 1228.4 L1196.4 1230.3 L1200.7 1231.6 L1205.0 1232.3 L1209.3 1232.9 L1213.6 1233.2 L1217.8 1233.1 L1222.1 1232.5 L1226.4 1231.8 L1230.7 1230.7 L1235.0 1229.3 L1239.3 1227.9 L1243.6 1226.4 L1247.8 1224.6 L1252.1 1222.6 L1256.4 1220.7 L1260.7 1218.7 L1265.0 1216.8 L1269.3 1215.1 L1273.6 1213.6 L1277.9 1212.4 L1282.1 1211.3 L1286.4 1210.2 L1290.7 1209.1 L1295.0 1207.8 L1299.3 1206.5 L1303.6 1205.2 L1307.9 1203.9 L1312.1 1202.8 L1316.4 1201.8 L1320.7 1200.9 L1325.0 1199.9 L1329.3 1198.9 L1333.6 1197.8 L1337.9 1196.5 L1342.2 1194.9 L1346.4 1192.9 L1350.7 1190.7 L1355.0 1188.2 L1359.3 1185.5 L1363.6 1182.7 L1367.9 1179.6 L1372.2 1176.3 L1376.4 1172.9 L1380.7 1169.4 L1385.0 1165.9 L1389.3 1162.2 L1393.6 1158.5 L1397.9 1155.1 L1402.2 1151.9 L1406.5 1148.8 L1410.7 1145.8 L1415.0 1143.0 L1419.3 1140.2 L1423.6 1137.6 L1427.9 1135.3 L1432.2 1133.5 L1436.5 1132.3 L1440.7 1131.7 L1445.0 1131.4 L1449.3 1131.6 L1453.6 1132.9 L1457.9 1134.8 L1462.2 1137.3 L1466.5 1140.9 L1470.8 1145.7 L1475.0 1151.7 L1479.3 1158.4 L1483.6 1165.9 L1487.9 1174.6 L1492.2 1184.1 L1496.5 1193.7 L1500.8 1203.7 L1505.0 1214.3 L1509.3 1224.4 L1513.6 1233.5 L1517.9 1241.9 L1522.2 1249.9 L1526.5 1257.3 L1530.8 1264.4 L1535.1 1271.0 L1539.3 1277.0 L1543.6 1282.3 L1547.9 1287.0 L1552.2 1291.2 L1556.5 1295.0 L1560.8 1298.4 L1565.1 1301.5 L1569.3 1304.3 L1573.6 1306.8 L1577.9 1309.2 L1582.2 1311.3 L1586.5 1313.2 L1590.8 1314.8 L1595.1 1316.3 L1599.4 1317.6 L1603.6 1318.7 L1607.9 1319.8 L1612.2 1320.8 L1616.5 1321.6 L1620.8 1322.2 L1625.1 1322.7 L1629.4 1323.0 L1633.6 1323.4 L1637.9 1323.6 L1642.2 1323.8 L1646.5 1323.9 L1650.8 1324.1 L1655.1 1324.2 L1659.4 1324.3 L1663.7 1324.4 L1667.9 1324.5 L1672.2 1324.6 L1676.5 1324.6 L1680.8 1324.7 L1685.1 1324.7 L1689.4 1324.8 L1693.7 1324.8 L1697.9 1324.8 L1702.2 1324.9 L1706.5 1324.9 L1710.8 1324.9 L1715.1 1324.9 L1719.4 1325.0 L1723.7 1325.0 L1728.0 1325.0 L1732.2 1325.0 L1736.5 1325.0 L1740.8 1325.0 L1745.1 1325.0 L1749.4 1325.0 L1753.7 1325.1 L1758.0 1325.1 L1762.2 1325.1 L1766.5 1325.1 L1770.8 1325.1 L1775.1 1325.1 L1779.4 1325.1 L1783.7 1325.1 L1788.0 1325.1 L1792.3 1325.1 L1796.5 1325.1 L1800.8 1325.1 L1805.1 1325.2 L1809.4 1325.2 L1813.7 1325.2 L1818.0 1325.2 L1822.3 1325.1 L1826.5 1325.1 L1830.8 1325.1 L1835.1 1325.1 L1839.4 1325.1 L1843.7 1325.1 L1848.0 1325.1 L1852.3 1325.1 L1856.6 1325.1 L1860.8 1325.1 L1865.1 1325.1 L1869.4 1325.1 L1873.7 1325.0 L1878.0 1325.0 L1882.3 1325.0 L1886.6 1325.0 L1890.8 1325.0 L1895.1 1325.0 L1899.4 1324.9 L1903.7 1324.9 L1908.0 1324.9 L1912.3 1324.9 L1916.6 1324.9 L1920.9 1324.8 L1925.1 1324.8 L1929.4 1324.8 L1933.7 1324.8 L1938.0 1324.8"/>
<path stroke="#7D4E4E" d="M309.1 1141.8 L313.4 1141.8 L317.6 1140.1 L321.9 1138.4 L326.2 1136.9 L330.5 1135.6 L334.8 1134.6 L339.1 1133.7 L343.4 1132.8 L347.6 1131.9 L351.9 1131.0 L356.2 1129.9 L360.5 1128.8 L364.8 1127.7 L369.1 1126.6 L373.4 1125.5 L377.7 1124.5 L381.9 1123.4 L386.2 1122.5 L390.5 1121.5 L394.8 1120.6 L399.1 1117.2 L403.4 1118.5 L407.7 1118.9 L411.9 1119.1 L416.2 1119.2 L420.5 1119.2 L424.8 1119.4 L429.1 1119.9 L433.4 1120.7 L437.7 1121.6 L442.0 1122.7 L446.2 1123.9 L450.5 1125.3 L454.8 1127.2 L459.1 1129.4 L463.4 1131.8 L467.7 1134.4 L472.0 1137.2 L476.2 1140.2 L480.5 1143.4 L484.8 1146.8 L489.1 1150.4 L493.4 1154.1 L497.7 1157.8 L502.0 1161.8 L506.3 1165.8 L510.5 1169.8 L514.8 1173.6 L519.1 1177.2 L523.4 1180.7 L527.7 1184.1 L532.0 1187.3 L536.3 1190.4 L540.5 1193.4 L544.8 1196.4 L549.1 1199.7 L553.4 1202.9 L557.7 1205.8 L562.0 1207.8 L566.3 1208.8 L570.6 1209.5 L574.8 1210.0 L579.1 1210.2 L583.4 1210.0 L587.7 1209.6 L592.0 1208.9 L596.3 1207.5 L600.6 1205.6 L604.8 1203.5 L609.1 1201.3 L613.4 1198.7 L617.7 1195.8 L622.0 1192.7 L626.3 1189.3 L630.6 1185.4 L634.9 1181.2 L639.1 1176.6 L643.4 1171.5 L647.7 1166.0 L652.0 1159.6 L656.3 1152.7 L660.6 1145.7 L664.9 1139.0 L669.1 1132.4 L673.4 1125.8 L677.7 1119.3 L682.0 1112.7 L686.3 1106.2 L690.6 1099.6 L694.9 1093.1 L699.2 1086.6 L703.4 1080.0 L707.7 1073.5 L712.0 1066.9 L716.3 1060.2 L720.6 1053.6 L724.9 1046.9 L729.2 1040.2 L733.4 1033.6 L737.7 1026.8 L742.0 1020.0 L746.3 1012.9 L750.6 1005.5 L754.9 998.0 L759.2 990.3 L763.5 982.7 L767.7 975.2 L772.0 967.7 L776.3 960.2 L780.6 952.7 L784.9 945.5 L789.2 938.3 L793.5 931.2 L797.7 924.2 L802.0 917.4 L806.3 910.9 L810.6 904.6 L814.9 898.5 L819.2 892.6 L823.5 886.8 L827.8 881.2 L832.0 875.8 L836.3 870.5 L840.6 865.5 L844.9 860.6 L849.2 856.1 L853.5 851.8 L857.8 847.7 L862.0 843.6 L866.3 839.7 L870.6 836.2 L874.9 833.1 L879.2 830.3 L883.5 827.6 L887.8 825.3 L892.1 823.4 L896.3 822.0 L900.6 820.8 L904.9 820.0 L909.2 819.7 L913.5 819.9 L917.8 820.4 L922.1 821.2 L926.3 822.2 L930.6 824.0 L934.9 826.6 L939.2 829.6 L943.5 832.8 L947.8 836.0 L952.1 839.8 L956.4 843.8 L960.6 848.1 L964.9 852.6 L969.2 857.1 L973.5 861.9 L977.8 866.9 L982.1 872.2 L986.4 877.7 L990.6 883.6 L994.9 889.8 L999.2 896.2 L1003.5 902.6 L1007.8 909.0 L1012.1 915.4 L1016.4 921.9 L1020.7 928.7 L1024.9 935.9 L1029.2 943.8 L1033.5 952.2 L1037.8 960.9 L1042.1 969.8 L1046.4 978.7 L1050.7 987.7 L1054.9 997.0 L1059.2 1006.4 L1063.5 1015.9 L1067.8 1025.6 L1072.1 1035.7 L1076.4 1045.9 L1080.7 1055.7 L1085.0 1064.7 L1089.2 1072.7 L1093.5 1080.0 L1097.8 1087.3 L1102.1 1095.4 L1106.4 1105.1 L1110.7 1116.2 L1115.0 1127.3 L1119.2 1137.0 L1123.5 1145.5 L1127.8 1153.9 L1132.1 1162.5 L1136.4 1170.8 L1140.7 1178.2 L1145.0 1184.8 L1149.3 1190.6 L1153.5 1196.0 L1157.8 1201.1 L1162.1 1205.9 L1166.4 1210.5 L1170.7 1215.0 L1175.0 1219.2 L1179.3 1223.2 L1183.5 1226.8 L1187.8 1230.0 L1192.1 1233.1 L1196.4 1236.0 L1200.7 1238.4 L1205.0 1240.2 L1209.3 1241.5 L1213.6 1242.6 L1217.8 1243.5 L1222.1 1243.9 L1226.4 1243.9 L1230.7 1243.6 L1235.0 1243.1 L1239.3 1242.4 L1243.6 1241.6 L1247.8 1240.8 L1252.1 1239.6 L1256.4 1238.4 L1260.7 1237.0 L1265.0 1235.7 L1269.3 1234.5 L1273.6 1233.3 L1277.9 1232.2 L1282.1 1231.3 L1286.4 1230.5 L1290.7 1229.6 L1295.0 1228.7 L1299.3 1227.7 L1303.6 1226.7 L1307.9 1225.6 L1312.1 1224.6 L1316.4 1223.7 L1320.7 1222.8 L1325.0 1221.9 L1329.3 1220.9 L1333.6 1219.9 L1337.9 1218.8 L1342.2 1217.5 L1346.4 1216.0 L1350.7 1214.3 L1355.0 1212.3 L1359.3 1210.1 L1363.6 1207.8 L1367.9 1205.4 L1372.2 1202.8 L1376.4 1200.0 L1380.7 1197.1 L1385.0 1194.3 L1389.3 1191.4 L1393.6 1188.4 L1397.9 1185.4 L1402.2 1182.6 L1406.5 1180.0 L1410.7 1177.5 L1415.0 1175.0 L1419.3 1172.7 L1423.6 1170.6 L1427.9 1168.8 L1432.2 1167.1 L1436.5 1165.8 L1440.7 1165.1 L1445.0 1164.8 L1449.3 1164.9 L1453.6 1165.4 L1457.9 1166.8 L1462.2 1168.6 L1466.5 1171.0 L1470.8 1174.2 L1475.0 1178.3 L1479.3 1183.3 L1483.6 1188.9 L1487.9 1195.2 L1492.2 1202.7 L1496.5 1210.8 L1500.8 1219.1 L1505.0 1227.5 L1509.3 1236.0 L1513.6 1244.0 L1517.9 1251.3 L1522.2 1258.1 L1526.5 1264.6 L1530.8 1270.6 L1535.1 1276.4 L1539.3 1281.7 L1543.6 1286.6 L1547.9 1290.9 L1552.2 1294.7 L1556.5 1298.1 L1560.8 1301.2 L1565.1 1304.0 L1569.3 1306.4 L1573.6 1308.7 L1577.9 1310.8 L1582.2 1312.6 L1586.5 1314.3 L1590.8 1315.9 L1595.1 1317.2 L1599.4 1318.4 L1603.6 1319.5 L1607.9 1320.4 L1612.2 1321.3 L1616.5 1322.2 L1620.8 1322.8 L1625.1 1323.3 L1629.4 1323.6 L1633.6 1323.9 L1637.9 1324.1 L1642.2 1324.2 L1646.5 1324.3 L1650.8 1324.4 L1655.1 1324.5 L1659.4 1324.6 L1663.7 1324.6 L1667.9 1324.7 L1672.2 1324.7 L1676.5 1324.8 L1680.8 1324.8 L1685.1 1324.8 L1689.4 1324.9 L1693.7 1324.9 L1697.9 1324.9 L1702.2 1324.9 L1706.5 1324.9 L1710.8 1324.9 L1715.1 1325.0 L1719.4 1325.0 L1723.7 1325.0 L1728.0 1325.0 L1732.2 1325.0 L1736.5 1325.0 L1740.8 1325.0 L1745.1 1325.0 L1749.4 1325.0 L1753.7 1325.0 L1758.0 1325.0 L1762.2 1325.0 L1766.5 1325.0 L1770.8 1325.0 L1775.1 1325.1 L1779.4 1325.1 L1783.7 1325.1 L1788.0 1325.1 L1792.3 1325.1 L1796.5 1325.1 L1800.8 1325.1 L1805.1 1325.1 L1809.4 1325.1 L1813.7 1325.1 L1818.0 1325.1 L1822.3 1325.1 L1826.5 1325.1 L1830.8 1325.1 L1835.1 1325.1 L1839.4 1325.1 L1843.7 1325.0 L1848.0 1325.0 L1852.3 1325.0 L1856.6 1325.0 L1860.8 1325.0 L1865.1 1325.0 L1869.4 1325.0 L1873.7 1325.0 L1878.0 1324.9 L1882.3 1324.9 L1886.6 1324.9 L1890.8 1324.9 L1895.1 1324.9 L1899.4 1324.9 L1903.7 1324.8 L1908.0 1324.8 L1912.3 1324.8 L1916.6 1324.8 L1920.9 1324.8 L1925.1 1324.7 L1929.4 1324.7 L1933.7 1324.7 L1938.0 1324.7"/>
<path stroke="#8E8E00" d="M309.1 1134.5 L313.4 1132.8 L317.6 1131.3 L321.9 1130.0 L326.2 1129.1 L330.5 1128.3 L334.8 1127.7 L339.1 1127.2 L343.4 1126.6 L347.6 1125.9 L351.9 1125.1 L356.2 1124.3 L360.5 1123.5 L364.8 1122.6 L369.1 1121.8 L373.4 1121.0 L377.7 1120.3 L381.9 1119.5 L386.2 1118.8 L390.5 1118.2 L394.8 1114.9 L399.1 1116.6 L403.4 1117.1 L407.7 1117.4 L411.9 1117.7 L416.2 1117.9 L420.5 1118.3 L424.8 1118.9 L429.1 1119.7 L433.4 1120.8 L437.7 1122.0 L442.0 1123.3 L446.2 1124.7 L450.5 1126.7 L454.8 1128.9 L459.1 1131.4 L463.4 1134.0 L467.7 1136.8 L472.0 1139.7 L476.2 1142.9 L480.5 1146.3 L484.8 1149.9 L489.1 1153.5 L493.4 1157.1 L497.7 1161.0 L502.0 1164.9 L506.3 1168.8 L510.5 1172.6 L514.8 1176.2 L519.1 1179.6 L523.4 1182.9 L527.7 1186.1 L532.0 1189.2 L536.3 1192.2 L540.5 1195.2 L544.8 1198.5 L549.1 1201.8 L553.4 1204.6 L557.7 1206.7 L562.0 1207.6 L566.3 1208.3 L570.6 1208.8 L574.8 1208.9 L579.1 1208.7 L583.4 1208.2 L587.7 1207.5 L592.0 1206.1 L596.3 1204.1 L600.6 1202.0 L604.8 1199.7 L609.1 1197.1 L613.4 1194.1 L617.7 1190.9 L622.0 1187.4 L626.3 1183.4 L630.6 1179.1 L634.9 1174.3 L639.1 1169.2 L643.4 1163.5 L647.7 1156.9 L652.0 1149.9 L656.3 1142.7 L660.6 1135.8 L664.9 1129.1 L669.1 1122.3 L673.4 1115.6 L677.7 1108.9 L682.0 1102.2 L686.3 1095.5 L690.6 1088.8 L694.9 1082.1 L699.2 1075.3 L703.4 1068.6 L707.7 1061.8 L712.0 1055.0 L716.3 1048.2 L720.6 1041.3 L724.9 1034.5 L729.2 1027.7 L733.4 1020.8 L737.7 1013.7 L742.0 1006.5 L746.3 998.9 L750.6 991.2 L754.9 983.4 L759.2 975.6 L763.5 967.9 L767.7 960.2 L772.0 952.6 L776.3 945.0 L780.6 937.5 L784.9 930.2 L789.2 922.9 L793.5 915.8 L797.7 908.9 L802.0 902.3 L806.3 895.9 L810.6 889.6 L814.9 883.6 L819.2 877.7 L823.5 872.0 L827.8 866.5 L832.0 861.1 L836.3 856.0 L840.6 851.0 L844.9 846.4 L849.2 842.1 L853.5 837.9 L857.8 833.8 L862.0 829.8 L866.3 826.2 L870.6 823.1 L874.9 820.2 L879.2 817.5 L883.5 815.1 L887.8 813.2 L892.1 811.9 L896.3 810.7 L900.6 809.9 L904.9 809.6 L909.2 809.9 L913.5 810.5 L917.8 811.2 L922.1 812.3 L926.3 814.2 L930.6 816.9 L934.9 820.0 L939.2 823.3 L943.5 826.7 L947.8 830.5 L952.1 834.7 L956.4 839.1 L960.6 843.7 L964.9 848.4 L969.2 853.3 L973.5 858.5 L977.8 863.9 L982.1 869.5 L986.4 875.6 L990.6 882.0 L994.9 888.5 L999.2 895.2 L1003.5 901.7 L1007.8 908.3 L1012.1 915.0 L1016.4 922.0 L1020.7 929.5 L1024.9 937.6 L1029.2 946.2 L1033.5 955.2 L1037.8 964.3 L1042.1 973.4 L1046.4 982.8 L1050.7 992.3 L1054.9 1002.0 L1059.2 1011.7 L1063.5 1021.8 L1067.8 1032.2 L1072.1 1042.7 L1076.4 1052.8 L1080.7 1062.1 L1085.0 1070.3 L1089.2 1077.8 L1093.5 1085.4 L1097.8 1093.9 L1102.1 1104.0 L1106.4 1115.4 L1110.7 1126.9 L1115.0 1136.8 L1119.2 1145.5 L1123.5 1154.2 L1127.8 1163.1 L1132.1 1171.6 L1136.4 1179.2 L1140.7 1185.9 L1145.0 1191.8 L1149.3 1197.4 L1153.5 1202.7 L1157.8 1207.6 L1162.1 1212.4 L1166.4 1217.0 L1170.7 1221.5 L1175.0 1225.6 L1179.3 1229.4 L1183.5 1232.8 L1187.8 1236.1 L1192.1 1239.2 L1196.4 1241.8 L1200.7 1243.7 L1205.0 1245.2 L1209.3 1246.5 L1213.6 1247.5 L1217.8 1248.1 L1222.1 1248.3 L1226.4 1248.3 L1230.7 1248.0 L1235.0 1247.5 L1239.3 1247.0 L1243.6 1246.4 L1247.8 1245.5 L1252.1 1244.4 L1256.4 1243.3 L1260.7 1242.3 L1265.0 1241.3 L1269.3 1240.4 L1273.6 1239.5 L1277.9 1238.7 L1282.1 1237.9 L1286.4 1237.2 L1290.7 1236.4 L1295.0 1235.6 L1299.3 1234.8 L1303.6 1234.1 L1307.9 1233.3 L1312.1 1232.6 L1316.4 1231.8 L1320.7 1231.0 L1325.0 1230.1 L1329.3 1229.1 L1333.6 1228.0 L1337.9 1226.8 L1342.2 1225.4 L1346.4 1223.7 L1350.7 1221.9 L1355.0 1219.8 L1359.3 1217.7 L1363.6 1215.4 L1367.9 1213.0 L1372.2 1210.4 L1376.4 1207.8 L1380.7 1205.2 L1385.0 1202.5 L1389.3 1199.8 L1393.6 1197.0 L1397.9 1194.4 L1402.2 1192.0 L1406.5 1189.6 L1410.7 1187.2 L1415.0 1185.0 L1419.3 1183.0 L1423.6 1181.3 L1427.9 1179.7 L1432.2 1178.4 L1436.5 1177.7 L1440.7 1177.4 L1445.0 1177.4 L1449.3 1177.8 L1453.6 1178.9 L1457.9 1180.6 L1462.2 1182.8 L1466.5 1185.9 L1470.8 1189.9 L1475.0 1194.6 L1479.3 1199.8 L1483.6 1205.7 L1487.9 1212.8 L1492.2 1220.6 L1496.5 1228.4 L1500.8 1236.2 L1505.0 1244.0 L1509.3 1251.3 L1513.6 1257.9 L1517.9 1264.2 L1522.2 1270.1 L1526.5 1275.6 L1530.8 1280.9 L1535.1 1285.8 L1539.3 1290.2 L1543.6 1294.1 L1547.9 1297.6 L1552.2 1300.7 L1556.5 1303.5 L1560.8 1306.0 L1565.1 1308.3 L1569.3 1310.4 L1573.6 1312.3 L1577.9 1314.0 L1582.2 1315.5 L1586.5 1316.9 L1590.8 1318.1 L1595.1 1319.2 L1599.4 1320.2 L1603.6 1321.1 L1607.9 1321.9 L1612.2 1322.7 L1616.5 1323.3 L1620.8 1323.7 L1625.1 1323.9 L1629.4 1324.2 L1633.6 1324.4 L1637.9 1324.5 L1642.2 1324.6 L1646.5 1324.6 L1650.8 1324.7 L1655.1 1324.7 L1659.4 1324.7 L1663.7 1324.8 L1667.9 1324.8 L1672.2 1324.8 L1676.5 1324.9 L1680.8 1324.9 L1685.1 1324.9 L1689.4 1324.9 L1693.7 1324.9 L1697.9 1324.9 L1702.2 1325.0 L1706.5 1325.0 L1710.8 1325.0 L1715.1 1325.0 L1719.4 1325.0 L1723.7 1325.0 L1728.0 1325.0 L1732.2 1325.0 L1736.5 1325.0 L1740.8 1325.0 L1745.1 1325.0 L1749.4 1325.0 L1753.7 1325.0 L1758.0 1325.0 L1762.2 1325.0 L1766.5 1325.0 L1770.8 1325.0 L1775.1 1325.0 L1779.4 1325.0 L1783.7 1325.0 L1788.0 1325.0 L1792.3 1325.1 L1796.5 1325.1 L1800.8 1325.1 L1805.1 1325.1 L1809.4 1325.1 L1813.7 1325.1 L1818.0 1325.0 L1822.3 1325.0 L1826.5 1325.0 L1830.8 1325.0 L1835.1 1325.0 L1839.4 1325.0 L1843.7 1325.0 L1848.0 1325.0 L1852.3 1325.0 L1856.6 1325.0 L1860.8 1325.0 L1865.1 1324.9 L1869.4 1324.9 L1873.7 1324.9 L1878.0 1324.9 L1882.3 1324.9 L1886.6 1324.9 L1890.8 1324.8 L1895.1 1324.8 L1899.4 1324.8 L1903.7 1324.8 L1908.0 1324.8 L1912.3 1324.7 L1916.6 1324.7 L1920.9 1324.7 L1925.1 1324.7 L1929.4 1324.6 L1933.7 1324.6 L1938.0 1324.6"/>
<path stroke="#FB6501" d="M309.1 1141.5 L313.4 1139.5 L317.6 1137.7 L321.9 1136.1 L326.2 1134.8 L330.5 1133.8 L334.8 1132.9 L339.1 1132.0 L343.4 1131.1 L347.6 1130.2 L351.9 1129.1 L356.2 1128.0 L360.5 1126.9 L364.8 1125.8 L369.1 1124.7 L373.4 1123.7 L377.7 1122.7 L381.9 1121.8 L386.2 1120.8 L390.5 1120.0 L394.8 1116.5 L399.1 1118.0 L403.4 1118.4 L407.7 1118.6 L411.9 1118.7 L416.2 1118.8 L420.5 1119.0 L424.8 1119.5 L429.1 1120.3 L433.4 1121.2 L437.7 1122.3 L442.0 1123.5 L446.2 1124.9 L450.5 1126.8 L454.8 1129.1 L459.1 1131.5 L463.4 1134.2 L467.7 1136.8 L472.0 1139.7 L476.2 1142.8 L480.5 1146.1 L484.8 1149.5 L489.1 1152.9 L493.4 1156.4 L497.7 1160.1 L502.0 1163.9 L506.3 1167.7 L510.5 1171.4 L514.8 1174.8 L519.1 1178.2 L523.4 1181.4 L527.7 1184.6 L532.0 1187.6 L536.3 1190.6 L540.5 1193.7 L544.8 1197.0 L549.1 1200.3 L553.4 1203.1 L557.7 1205.2 L562.0 1206.2 L566.3 1206.8 L570.6 1207.3 L574.8 1207.4 L579.1 1207.2 L583.4 1206.7 L587.7 1206.0 L592.0 1204.4 L596.3 1202.5 L600.6 1200.3 L604.8 1198.0 L609.1 1195.2 L613.4 1192.2 L617.7 1188.9 L622.0 1185.3 L626.3 1181.3 L630.6 1176.8 L634.9 1172.0 L639.1 1166.7 L643.4 1160.8 L647.7 1154.1 L652.0 1146.8 L656.3 1139.5 L660.6 1132.4 L664.9 1125.5 L669.1 1118.5 L673.4 1111.6 L677.7 1104.7 L682.0 1097.8 L686.3 1090.8 L690.6 1083.9 L694.9 1077.0 L699.2 1070.1 L703.4 1063.1 L707.7 1056.1 L712.0 1049.1 L716.3 1042.1 L720.6 1035.0 L724.9 1028.0 L729.2 1021.0 L733.4 1013.9 L737.7 1006.6 L742.0 999.2 L746.3 991.5 L750.6 983.5 L754.9 975.5 L759.2 967.5 L763.5 959.6 L767.7 951.7 L772.0 943.8 L776.3 936.1 L780.6 928.4 L784.9 920.9 L789.2 913.5 L793.5 906.2 L797.7 899.1 L802.0 892.3 L806.3 885.7 L810.6 879.3 L814.9 873.1 L819.2 867.1 L823.5 861.3 L827.8 855.6 L832.0 850.1 L836.3 844.8 L840.6 839.8 L844.9 835.1 L849.2 830.6 L853.5 826.3 L857.8 822.1 L862.0 818.1 L866.3 814.4 L870.6 811.2 L874.9 808.2 L879.2 805.5 L883.5 803.1 L887.8 801.2 L892.1 799.8 L896.3 798.6 L900.6 797.7 L904.9 797.5 L909.2 797.8 L913.5 798.4 L917.8 799.2 L922.1 800.3 L926.3 802.3 L930.6 805.1 L934.9 808.3 L939.2 811.7 L943.5 815.2 L947.8 819.1 L952.1 823.5 L956.4 828.0 L960.6 832.7 L964.9 837.5 L969.2 842.6 L973.5 848.0 L977.8 853.5 L982.1 859.4 L986.4 865.6 L990.6 872.2 L994.9 878.9 L999.2 885.8 L1003.5 892.5 L1007.8 899.3 L1012.1 906.2 L1016.4 913.5 L1020.7 921.2 L1024.9 929.6 L1029.2 938.5 L1033.5 947.7 L1037.8 957.2 L1042.1 966.6 L1046.4 976.2 L1050.7 986.1 L1054.9 996.1 L1059.2 1006.2 L1063.5 1016.6 L1067.8 1027.4 L1072.1 1038.3 L1076.4 1048.8 L1080.7 1058.4 L1085.0 1066.9 L1089.2 1074.8 L1093.5 1082.7 L1097.8 1091.5 L1102.1 1101.9 L1106.4 1113.9 L1110.7 1125.7 L1115.0 1136.0 L1119.2 1145.1 L1123.5 1154.1 L1127.8 1163.4 L1132.1 1172.4 L1136.4 1180.3 L1140.7 1187.4 L1145.0 1193.7 L1149.3 1199.6 L1153.5 1205.1 L1157.8 1210.4 L1162.1 1215.6 L1166.4 1220.5 L1170.7 1225.3 L1175.0 1229.9 L1179.3 1234.0 L1183.5 1237.8 L1187.8 1241.5 L1192.1 1244.9 L1196.4 1247.9 L1200.7 1250.3 L1205.0 1252.1 L1209.3 1253.8 L1213.6 1255.2 L1217.8 1256.2 L1222.1 1256.7 L1226.4 1257.1 L1230.7 1257.2 L1235.0 1257.2 L1239.3 1257.2 L1243.6 1257.1 L1247.8 1256.7 L1252.1 1256.1 L1256.4 1255.5 L1260.7 1254.9 L1265.0 1254.4 L1269.3 1253.9 L1273.6 1253.3 L1277.9 1252.8 L1282.1 1252.2 L1286.4 1251.6 L1290.7 1251.0 L1295.0 1250.3 L1299.3 1249.6 L1303.6 1248.9 L1307.9 1248.2 L1312.1 1247.5 L1316.4 1246.7 L1320.7 1245.9 L1325.0 1244.9 L1329.3 1243.9 L1333.6 1242.8 L1337.9 1241.6 L1342.2 1240.3 L1346.4 1238.8 L1350.7 1237.0 L1355.0 1235.2 L1359.3 1233.3 L1363.6 1231.3 L1367.9 1229.2 L1372.2 1227.0 L1376.4 1224.8 L1380.7 1222.6 L1385.0 1220.4 L1389.3 1218.2 L1393.6 1216.0 L1397.9 1214.0 L1402.2 1212.0 L1406.5 1210.1 L1410.7 1208.2 L1415.0 1206.5 L1419.3 1205.2 L1423.6 1204.1 L1427.9 1203.1 L1432.2 1202.4 L1436.5 1202.2 L1440.7 1202.4 L1445.0 1202.9 L1449.3 1203.7 L1453.6 1205.1 L1457.9 1207.0 L1462.2 1209.2 L1466.5 1212.0 L1470.8 1215.5 L1475.0 1219.4 L1479.3 1223.8 L1483.6 1228.8 L1487.9 1235.0 L1492.2 1241.7 L1496.5 1248.5 L1500.8 1255.1 L1505.0 1261.3 L1509.3 1266.9 L1513.6 1272.1 L1517.9 1277.1 L1522.2 1281.8 L1526.5 1286.1 L1530.8 1290.4 L1535.1 1294.3 L1539.3 1297.9 L1543.6 1301.0 L1547.9 1303.7 L1552.2 1306.2 L1556.5 1308.4 L1560.8 1310.5 L1565.1 1312.3 L1569.3 1313.9 L1573.6 1315.4 L1577.9 1316.8 L1582.2 1318.0 L1586.5 1319.1 L1590.8 1320.1 L1595.1 1321.0 L1599.4 1321.8 L1603.6 1322.5 L1607.9 1323.1 L1612.2 1323.8 L1616.5 1324.2 L1620.8 1324.5 L1625.1 1324.7 L1629.4 1324.8 L1633.6 1324.9 L1637.9 1325.0 L1642.2 1325.0 L1646.5 1325.0 L1650.8 1325.0 L1655.1 1325.0 L1659.4 1325.0 L1663.7 1325.0 L1667.9 1325.0 L1672.2 1325.0 L1676.5 1325.0 L1680.8 1325.0 L1685.1 1325.0 L1689.4 1325.0 L1693.7 1325.0 L1697.9 1325.0 L1702.2 1325.0 L1706.5 1325.0 L1710.8 1325.0 L1715.1 1325.0 L1719.4 1325.0 L1723.7 1325.0 L1728.0 1325.0 L1732.2 1325.0 L1736.5 1325.0 L1740.8 1325.0 L1745.1 1325.0 L1749.4 1325.0 L1753.7 1325.0 L1758.0 1325.0 L1762.2 1325.0 L1766.5 1325.0 L1770.8 1325.0 L1775.1 1325.0 L1779.4 1325.0 L1783.7 1325.0 L1788.0 1325.0 L1792.3 1325.0 L1796.5 1325.0 L1800.8 1325.0 L1805.1 1325.0 L1809.4 1325.0 L1813.7 1325.0 L1818.0 1325.0 L1822.3 1325.0 L1826.5 1325.0 L1830.8 1325.0 L1835.1 1325.0 L1839.4 1324.9 L1843.7 1324.9 L1848.0 1324.9 L1852.3 1324.9 L1856.6 1324.9 L1860.8 1324.9 L1865.1 1324.9 L1869.4 1324.8 L1873.7 1324.8 L1878.0 1324.8 L1882.3 1324.8 L1886.6 1324.8 L1890.8 1324.8 L1895.1 1324.7 L1899.4 1324.7 L1903.7 1324.7 L1908.0 1324.7 L1912.3 1324.6 L1916.6 1324.6 L1920.9 1324.6 L1925.1 1324.6 L1929.4 1324.5 L1933.7 1324.5 L1938.0 1324.5"/>
</g>
<g fill="#000" shape-rendering="crispEdges">
<rect x="307" y="32" width="6" height="1319"/>
<rect x="307" y="1345" width="1634" height="6"/>
<rect x="284" y="1326" width="23" height="6"/>
<rect x="297" y="1141" width="10" height="6"/>
<rect x="284" y="956" width="23" height="6"/>
<rect x="297" y="771" width="10" height="6"/>
<rect x="284" y="587" width="23" height="6"/>
<rect x="297" y="402" width="10" height="6"/>
<rect x="284" y="217" width="23" height="6"/>
<rect x="297" y="32" width="10" height="6"/>
<rect x="435" y="1351" width="6" height="10"/>
<rect x="649" y="1351" width="6" height="23"/>
<rect x="863" y="1351" width="6" height="10"/>
<rect x="1078" y="1351" width="6" height="23"/>
<rect x="1292" y="1351" width="6" height="10"/>
<rect x="1506" y="1351" width="6" height="23"/>
<rect x="1721" y="1351" width="6" height="10"/>
<rect x="1935" y="1351" width="6" height="23"/>
</g>
<g font-family="'Liberation Sans', Arial, sans-serif" font-weight="bold" font-style="italic" fill="#000">
<text transform="translate(266.3 1352.4) scale(0.9780 1.0400)" text-anchor="end" font-size="75">0.0</text>
<text transform="translate(266.3 982.7) scale(0.9780 1.0400)" text-anchor="end" font-size="75">0.2</text>
<text transform="translate(266.3 613.0) scale(0.9780 1.0400)" text-anchor="end" font-size="75">0.4</text>
<text transform="translate(266.3 243.3) scale(0.9780 1.0400)" text-anchor="end" font-size="75">0.6</text>
<text transform="translate(654.6 1449.8) scale(0.9780 1.0400)" text-anchor="middle" font-size="75">400</text>
<text transform="translate(1083.3 1449.8) scale(0.9780 1.0400)" text-anchor="middle" font-size="75">500</text>
<text transform="translate(1511.9 1449.8) scale(0.9780 1.0400)" text-anchor="middle" font-size="75">600</text>
<text transform="translate(1940.6 1449.8) scale(0.9780 1.0400)" text-anchor="middle" font-size="75">700</text>
<text transform="translate(1095.7 1561.0) scale(0.9875 1.0450)" text-anchor="middle" font-size="75">Wavelength (nm)</text>
<text transform="translate(88.9 659.3) rotate(-90) scale(1.0050 1.0350)" text-anchor="middle" font-size="81">Absorption (au)</text>
<text transform="translate(1451.6 185.0) scale(0.9780 1.0400)" text-anchor="middle" font-size="75">MC</text>
<text transform="translate(909.0 746.8) scale(0.9780 1.0400)" text-anchor="middle" font-size="75">TS</text>
</g>
<g stroke-linejoin="round">
<rect x="1258" y="255" width="11" height="275" fill="#8000FF"/>
<polygon points="1251.5,528.5 1276.3,528.5 1263.9,578.3" fill="#8000FF" stroke="#8000FF" stroke-width="9"/>
<rect x="657" y="788" width="11" height="228" fill="#FF0000"/>
<polygon points="650.4,789.4 675.4,789.4 662.9,740" fill="#FF0000" stroke="#FF0000" stroke-width="9"/>
</g>
<g shape-rendering="crispEdges">
<rect x="1718" y="91" width="107" height="9" fill="#515151"/>
<rect x="1718" y="149" width="107" height="9" fill="#F14040"/>
<rect x="1718" y="208" width="107" height="9" fill="#1A6FDF"/>
<rect x="1718" y="261" width="107" height="9" fill="#37AD6B"/>
<rect x="1718" y="315" width="107" height="9" fill="#B177DE"/>
<rect x="1718" y="368" width="107" height="9" fill="#CC9900"/>
<rect x="1718" y="422" width="107" height="9" fill="#00CBCC"/>
<rect x="1718" y="475" width="107" height="9" fill="#7D4E4E"/>
<rect x="1718" y="529" width="107" height="9" fill="#8E8E00"/>
<rect x="1718" y="582" width="107" height="9" fill="#FB6501"/>
<rect x="1718" y="636" width="107" height="9" fill="#6699CC"/>
<rect x="1718" y="689" width="107" height="9" fill="#6FB802"/>
<rect x="1718" y="743" width="107" height="9" fill="#515151"/>
<rect x="1718" y="796" width="107" height="9" fill="#F14040"/>
<rect x="1718" y="850" width="107" height="9" fill="#1A6FDF"/>
<rect x="1718" y="903" width="107" height="9" fill="#37AD6B"/>
<rect x="1718" y="957" width="107" height="9" fill="#B177DE"/>
<rect x="1718" y="1010" width="107" height="9" fill="#CC9900"/>
<rect x="1718" y="1064" width="107" height="9" fill="#00CBCC"/>
<rect x="1718" y="1117" width="107" height="9" fill="#7D4E4E"/>
<rect x="1718" y="1171" width="107" height="9" fill="#8E8E00"/>
<rect x="1718" y="1224" width="107" height="9" fill="#FB6501"/>
</g>
<g font-family="'Liberation Sans', Arial, sans-serif" font-size="43.5" fill="#000">
<text x="1832.6" y="109.8">Dye DMF</text>
<text x="1834.0" y="168.8" xml:space="preserve">10</text>
<text transform="translate(1889.6 168.8) scale(1.310 0.920)" font-family="'Liberation Serif', 'DejaVu Serif', serif" font-size="43.5">μ</text>
<text x="1917.3" y="168.8" textLength="235.5" lengthAdjust="spacingAndGlyphs" xml:space="preserve">l 01M AcOH</text>
<text x="1834.0" y="227.6" xml:space="preserve">10</text>
<text transform="translate(1889.6 227.6) scale(1.310 0.920)" font-family="'Liberation Serif', 'DejaVu Serif', serif" font-size="43.5">μ</text>
<text x="1917.3" y="227.6" textLength="242.1" lengthAdjust="spacingAndGlyphs" xml:space="preserve">l conc AcOH</text>
<text x="1832.6" y="280.0">20</text>
<text x="1832.6" y="333.5">30</text>
<text x="1832.6" y="387.0">40</text>
<text x="1832.6" y="440.5">50</text>
<text x="1832.6" y="494.0">60</text>
<text x="1832.6" y="547.6">70</text>
<text x="1832.6" y="601.1">80</text>
<text x="1832.6" y="654.6">90</text>
<text x="1832.6" y="708.1">100</text>
<text x="1832.6" y="761.6">110</text>
<text x="1832.6" y="815.1">120</text>
<text x="1832.6" y="868.6">130</text>
<text x="1832.6" y="922.1">140</text>
<text x="1832.6" y="975.6">150</text>
<text x="1832.6" y="1029.1">160</text>
<text x="1832.6" y="1082.7">170</text>
<text x="1832.6" y="1136.2">180</text>
<text x="1832.6" y="1189.7">190</text>
<text x="1832.6" y="1243.2">200</text>
</g>
</svg>
</body></html>
